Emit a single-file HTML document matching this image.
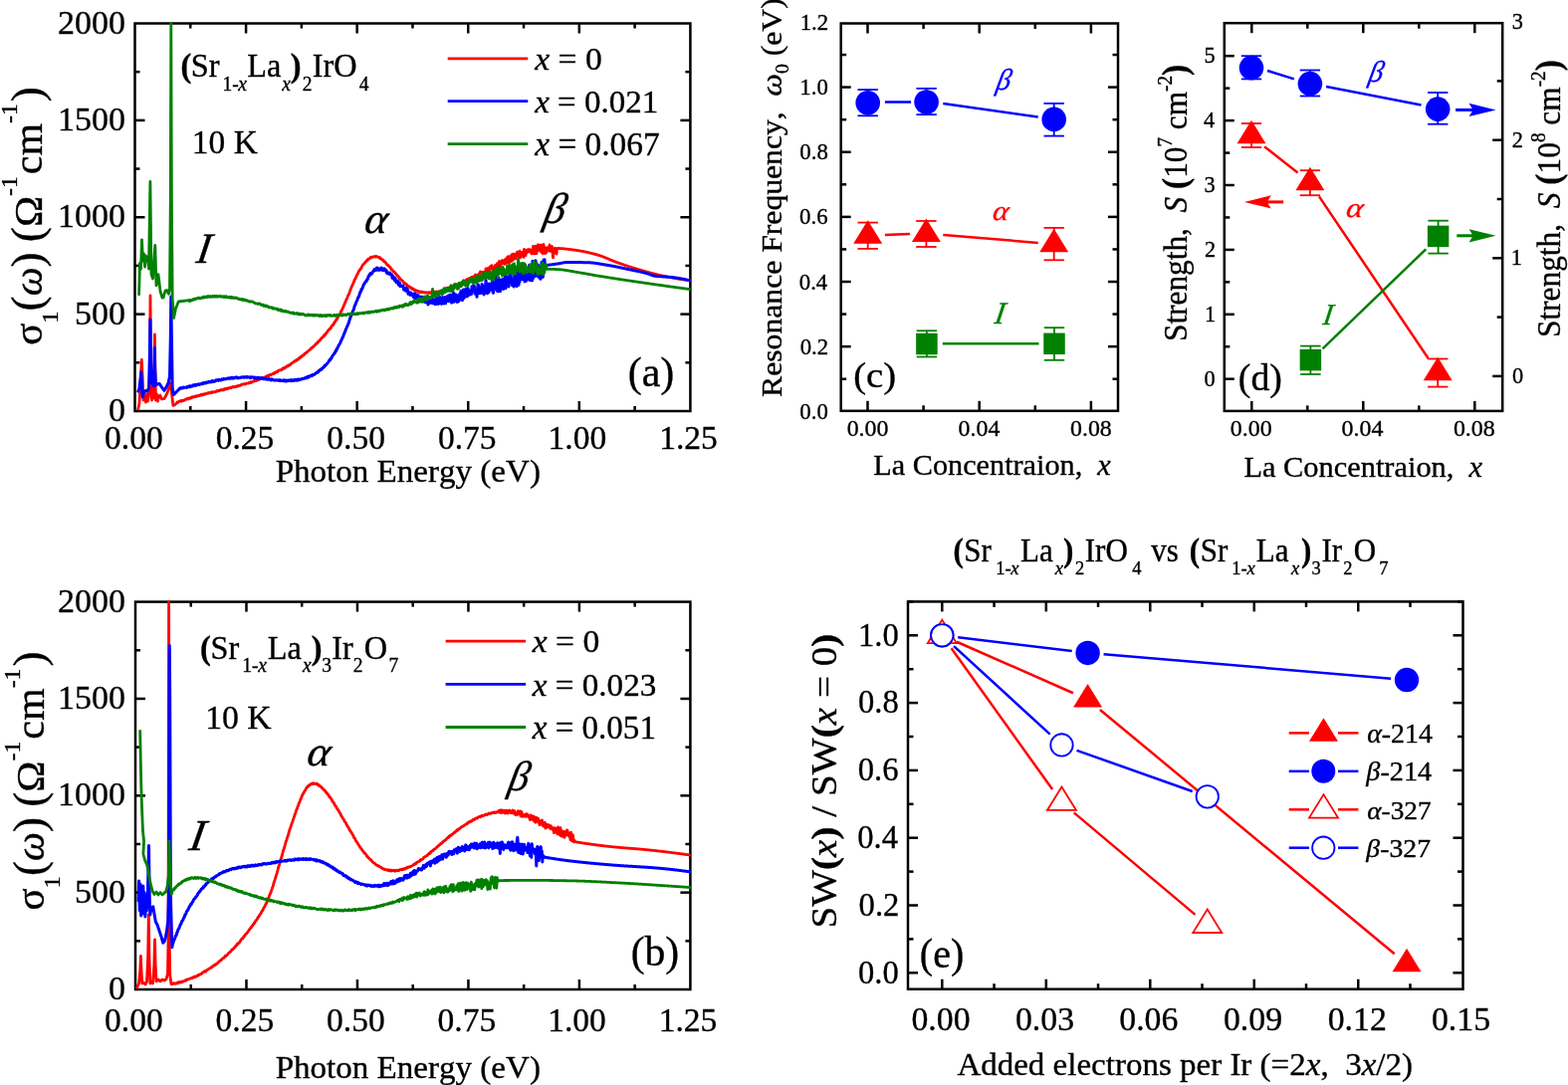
<!DOCTYPE html><html><head><meta charset="utf-8"><style>html,body{margin:0;padding:0;background:#fff;overflow:hidden;}svg{display:block;}</style></head><body><svg width="1575" height="1090" viewBox="0 0 1575 1090" font-family="'Liberation Serif', 'Times New Roman', serif" style="font-kerning:none">
<rect width="1575" height="1090" fill="#fff"/>
<rect x="135.5" y="23.5" width="557.90" height="389.50" fill="none" stroke="#000" stroke-width="2.5"/>
<line x1="191.29" y1="413.00" x2="191.29" y2="408.00" stroke="#000" stroke-width="2.5" stroke-linecap="butt"/>
<line x1="191.29" y1="23.50" x2="191.29" y2="28.50" stroke="#000" stroke-width="2.5" stroke-linecap="butt"/>
<line x1="247.08" y1="413.00" x2="247.08" y2="403.00" stroke="#000" stroke-width="2.5" stroke-linecap="butt"/>
<line x1="247.08" y1="23.50" x2="247.08" y2="33.50" stroke="#000" stroke-width="2.5" stroke-linecap="butt"/>
<line x1="302.87" y1="413.00" x2="302.87" y2="408.00" stroke="#000" stroke-width="2.5" stroke-linecap="butt"/>
<line x1="302.87" y1="23.50" x2="302.87" y2="28.50" stroke="#000" stroke-width="2.5" stroke-linecap="butt"/>
<line x1="358.66" y1="413.00" x2="358.66" y2="403.00" stroke="#000" stroke-width="2.5" stroke-linecap="butt"/>
<line x1="358.66" y1="23.50" x2="358.66" y2="33.50" stroke="#000" stroke-width="2.5" stroke-linecap="butt"/>
<line x1="414.45" y1="413.00" x2="414.45" y2="408.00" stroke="#000" stroke-width="2.5" stroke-linecap="butt"/>
<line x1="414.45" y1="23.50" x2="414.45" y2="28.50" stroke="#000" stroke-width="2.5" stroke-linecap="butt"/>
<line x1="470.24" y1="413.00" x2="470.24" y2="403.00" stroke="#000" stroke-width="2.5" stroke-linecap="butt"/>
<line x1="470.24" y1="23.50" x2="470.24" y2="33.50" stroke="#000" stroke-width="2.5" stroke-linecap="butt"/>
<line x1="526.03" y1="413.00" x2="526.03" y2="408.00" stroke="#000" stroke-width="2.5" stroke-linecap="butt"/>
<line x1="526.03" y1="23.50" x2="526.03" y2="28.50" stroke="#000" stroke-width="2.5" stroke-linecap="butt"/>
<line x1="581.82" y1="413.00" x2="581.82" y2="403.00" stroke="#000" stroke-width="2.5" stroke-linecap="butt"/>
<line x1="581.82" y1="23.50" x2="581.82" y2="33.50" stroke="#000" stroke-width="2.5" stroke-linecap="butt"/>
<line x1="637.61" y1="413.00" x2="637.61" y2="408.00" stroke="#000" stroke-width="2.5" stroke-linecap="butt"/>
<line x1="637.61" y1="23.50" x2="637.61" y2="28.50" stroke="#000" stroke-width="2.5" stroke-linecap="butt"/>
<line x1="135.50" y1="364.31" x2="140.50" y2="364.31" stroke="#000" stroke-width="2.5" stroke-linecap="butt"/>
<line x1="693.40" y1="364.31" x2="688.40" y2="364.31" stroke="#000" stroke-width="2.5" stroke-linecap="butt"/>
<line x1="135.50" y1="315.62" x2="145.50" y2="315.62" stroke="#000" stroke-width="2.5" stroke-linecap="butt"/>
<line x1="693.40" y1="315.62" x2="683.40" y2="315.62" stroke="#000" stroke-width="2.5" stroke-linecap="butt"/>
<line x1="135.50" y1="266.94" x2="140.50" y2="266.94" stroke="#000" stroke-width="2.5" stroke-linecap="butt"/>
<line x1="693.40" y1="266.94" x2="688.40" y2="266.94" stroke="#000" stroke-width="2.5" stroke-linecap="butt"/>
<line x1="135.50" y1="218.25" x2="145.50" y2="218.25" stroke="#000" stroke-width="2.5" stroke-linecap="butt"/>
<line x1="693.40" y1="218.25" x2="683.40" y2="218.25" stroke="#000" stroke-width="2.5" stroke-linecap="butt"/>
<line x1="135.50" y1="169.56" x2="140.50" y2="169.56" stroke="#000" stroke-width="2.5" stroke-linecap="butt"/>
<line x1="693.40" y1="169.56" x2="688.40" y2="169.56" stroke="#000" stroke-width="2.5" stroke-linecap="butt"/>
<line x1="135.50" y1="120.88" x2="145.50" y2="120.88" stroke="#000" stroke-width="2.5" stroke-linecap="butt"/>
<line x1="693.40" y1="120.88" x2="683.40" y2="120.88" stroke="#000" stroke-width="2.5" stroke-linecap="butt"/>
<line x1="135.50" y1="72.19" x2="140.50" y2="72.19" stroke="#000" stroke-width="2.5" stroke-linecap="butt"/>
<line x1="693.40" y1="72.19" x2="688.40" y2="72.19" stroke="#000" stroke-width="2.5" stroke-linecap="butt"/>
<text x="0" y="0" fill="#000" stroke="#000" stroke-width="0.35" transform="translate(105.124 451.120) scale(0.9897 1)" xml:space="preserve"><tspan font-size="33.863">0.00</tspan></text>
<text x="0" y="0" fill="#000" stroke="#000" stroke-width="0.35" transform="translate(216.720 451.120) scale(0.9897 1)" xml:space="preserve"><tspan font-size="33.863">0.25</tspan></text>
<text x="0" y="0" fill="#000" stroke="#000" stroke-width="0.35" transform="translate(328.284 451.120) scale(0.9897 1)" xml:space="preserve"><tspan font-size="33.863">0.50</tspan></text>
<text x="0" y="0" fill="#000" stroke="#000" stroke-width="0.35" transform="translate(439.880 451.120) scale(0.9897 1)" xml:space="preserve"><tspan font-size="33.863">0.75</tspan></text>
<text x="0" y="0" fill="#000" stroke="#000" stroke-width="0.35" transform="translate(550.609 451.120) scale(0.9897 1)" xml:space="preserve"><tspan font-size="33.863">1.00</tspan></text>
<text x="0" y="0" fill="#000" stroke="#000" stroke-width="0.35" transform="translate(662.205 451.021) scale(0.9897 1)" xml:space="preserve"><tspan font-size="33.863">1.25</tspan></text>
<text x="0" y="0" fill="#000" stroke="#000" stroke-width="0.35" transform="translate(58.106 33.664) scale(0.9888 1)" xml:space="preserve"><tspan font-size="34.380">2000</tspan></text>
<text x="0" y="0" fill="#000" stroke="#000" stroke-width="0.35" transform="translate(109.098 423.164) scale(0.9888 1)" xml:space="preserve"><tspan font-size="34.380">0</tspan></text>
<text x="0" y="0" fill="#000" stroke="#000" stroke-width="0.35" transform="translate(75.103 325.789) scale(0.9888 1)" xml:space="preserve"><tspan font-size="34.380">500</tspan></text>
<text x="0" y="0" fill="#000" stroke="#000" stroke-width="0.35" transform="translate(58.106 228.414) scale(0.9888 1)" xml:space="preserve"><tspan font-size="34.380">1000</tspan></text>
<text x="0" y="0" fill="#000" stroke="#000" stroke-width="0.35" transform="translate(58.106 131.039) scale(0.9888 1)" xml:space="preserve"><tspan font-size="34.380">1500</tspan></text>
<text x="0" y="0" fill="#000" stroke="#000" stroke-width="0.35" transform="translate(276.647 483.925) scale(1.0231 1)" xml:space="preserve"><tspan font-size="32.319">Photon Energy (eV)</tspan></text>
<text x="0" y="0" fill="#000" stroke="#000" stroke-width="0.35" transform="translate(41.600 346.761) rotate(-90) scale(1.0247 1)" xml:space="preserve"><tspan font-size="40.000">σ</tspan><tspan font-size="24.000" dy="16.300">1</tspan><tspan font-size="44.000" dy="-16.300">(</tspan><tspan font-size="40.000" font-style="italic">ω</tspan><tspan font-size="44.000">)</tspan><tspan font-size="40.000"> </tspan><tspan font-size="44.000">(</tspan><tspan font-size="41.000">Ω</tspan><tspan font-size="23.000" dy="-24.500">-1</tspan><tspan font-size="41.000" dy="24.500" dx="2.000">cm</tspan><tspan font-size="23.000" dy="-24.500">-1</tspan><tspan font-size="44.000" dy="24.500" dx="2.000">)</tspan></text>
<polyline points="138.80,411.00 140.00,405.00 141.00,385.00 142.30,361.50 143.20,380.00 144.00,402.00 145.50,398.00 146.50,404.00 147.50,396.00 148.50,403.00 149.50,397.00 150.40,380.00 151.00,297.00 151.70,380.00 152.50,402.00 153.50,396.00 154.50,400.00 155.00,375.00 155.40,336.00 155.90,375.00 156.50,402.00 157.50,396.00 158.50,403.00 159.50,398.00 160.80,397.00 162.50,401.00 165.00,400.50 167.00,397.00 169.00,392.00 170.50,388.00 171.50,384.70 172.50,395.00 173.90,407.40 176.00,406.50 178.00,404.00 178.50,404.42 179.00,403.94 179.50,403.53 180.00,403.11 180.50,403.26 181.00,403.11 181.50,402.57 182.00,402.39 182.50,403.17 183.00,402.65 183.50,402.06 184.00,402.09 184.50,402.46 185.00,402.21 185.50,401.99 186.00,401.38 186.50,401.31 187.00,401.33 187.50,400.56 188.00,400.89 188.50,400.45 189.00,400.90 189.50,399.93 190.00,400.39 190.50,400.42 191.00,399.63 191.50,400.15 192.00,399.97 192.50,398.97 193.00,399.51 193.50,398.66 194.00,399.01 194.50,398.80 195.00,398.42 195.50,398.40 196.00,398.74 196.50,398.11 197.00,397.80 197.50,398.21 198.00,397.82 198.50,398.04 199.00,397.34 199.50,397.29 200.00,397.63 200.50,397.20 201.00,397.07 201.50,396.67 202.00,396.31 202.50,397.10 203.00,396.12 203.50,396.75 204.00,396.14 204.50,396.60 205.00,395.92 205.50,396.33 206.00,395.82 206.50,395.38 207.00,395.76 207.50,395.56 208.00,395.45 208.50,395.10 209.00,394.74 209.50,395.03 210.00,394.38 210.50,394.84 211.00,394.66 211.50,394.28 212.00,394.58 212.50,393.86 213.00,393.93 213.50,394.22 214.00,393.68 214.50,393.89 215.00,393.67 215.50,393.88 216.00,393.81 216.50,393.43 217.00,393.39 217.50,392.62 218.00,393.06 218.50,393.08 219.00,392.51 219.50,392.54 220.00,392.35 220.50,392.71 221.00,391.95 221.50,391.92 222.00,391.40 222.50,391.70 223.00,391.79 223.50,391.98 224.00,391.85 224.50,391.13 225.00,391.67 225.50,390.75 226.00,391.27 226.50,390.48 227.00,390.61 227.50,390.16 228.00,390.82 228.50,390.67 229.00,389.86 229.50,390.13 230.00,389.74 230.50,389.85 231.00,389.79 231.50,389.22 232.00,389.85 232.50,389.14 233.00,389.19 233.50,388.67 234.00,388.49 234.50,388.56 235.00,388.58 235.50,389.04 236.00,388.87 236.50,388.34 237.00,388.18 237.50,388.26 238.00,388.33 238.50,387.67 239.00,388.00 239.50,387.47 240.00,387.53 240.50,387.54 241.00,387.17 241.50,387.23 242.00,387.10 242.50,386.27 243.00,386.16 243.50,386.13 244.00,386.06 244.50,385.91 245.00,385.61 245.50,385.64 246.00,385.88 246.50,386.02 247.00,385.34 247.50,385.21 248.00,385.11 248.50,385.22 249.00,385.18 249.50,385.18 250.00,384.47 250.50,384.64 251.00,384.12 251.50,384.45 252.00,383.70 252.50,384.18 253.00,383.66 253.50,383.72 254.00,383.37 254.50,382.98 255.00,383.00 255.50,382.39 256.00,382.21 256.50,382.53 257.00,382.31 257.50,382.49 258.00,381.51 258.50,381.87 259.00,381.63 259.50,381.56 260.00,381.51 260.50,381.12 261.00,380.98 261.50,380.73 262.00,380.66 262.50,380.11 263.00,380.23 263.50,380.16 264.00,379.48 264.50,380.09 265.00,379.65 265.50,379.66 266.00,378.80 266.50,378.75 267.00,378.37 267.50,377.95 268.00,377.71 268.50,377.73 269.00,378.14 269.50,377.23 270.00,377.54 270.50,376.89 271.00,376.48 271.50,376.39 272.00,376.66 272.50,376.26 273.00,376.08 273.50,375.75 274.00,375.35 274.50,375.33 275.00,375.53 275.50,374.57 276.00,374.87 276.50,374.14 277.00,373.84 277.50,373.73 278.00,373.25 278.50,373.85 279.00,373.02 279.50,372.58 280.00,372.15 280.50,371.95 281.00,371.84 281.50,371.78 282.00,371.70 282.50,371.81 283.00,371.45 283.50,370.53 284.00,370.63 284.50,370.66 285.00,369.56 285.50,370.03 286.00,369.29 286.50,369.38 287.00,368.64 287.50,368.65 288.00,368.23 288.50,367.53 289.00,367.89 289.50,367.64 290.00,367.00 290.50,366.59 291.00,366.84 291.50,365.96 292.00,366.14 292.50,365.36 293.00,364.99 293.50,364.66 294.00,364.03 294.50,363.91 295.00,363.53 295.50,363.03 296.00,363.17 296.50,362.72 297.00,361.96 297.50,361.74 298.00,362.15 298.50,361.01 299.00,360.89 299.50,361.11 300.00,359.91 300.50,359.84 301.00,359.86 301.50,358.70 302.00,358.38 302.50,358.86 303.00,358.23 303.50,357.42 304.00,357.25 304.50,356.63 305.00,356.87 305.50,356.53 306.00,355.25 306.50,355.30 307.00,354.55 307.50,354.35 308.00,354.28 308.50,353.83 309.00,352.88 309.50,352.60 310.00,352.26 310.50,351.79 311.00,351.65 311.50,351.31 312.00,350.41 312.50,350.07 313.00,349.25 313.50,349.09 314.00,349.21 314.50,348.31 315.00,347.90 315.50,347.48 316.00,346.96 316.50,346.72 317.00,345.70 317.50,345.27 318.00,345.35 318.50,344.47 319.00,344.44 319.50,343.12 320.00,343.26 320.50,342.44 321.00,341.93 321.50,341.82 322.00,340.55 322.50,340.41 323.00,339.62 323.50,339.18 324.00,339.12 324.50,338.16 325.00,338.01 325.50,336.69 326.00,337.12 326.50,336.52 327.00,335.69 327.50,334.64 328.00,334.53 328.50,333.49 329.00,333.09 329.50,332.17 330.00,331.61 330.50,331.09 331.00,330.50 331.50,330.54 332.00,329.32 332.50,329.26 333.00,327.79 333.50,327.18 334.00,326.51 334.50,326.69 335.00,325.88 335.50,324.37 336.00,324.56 336.50,323.11 337.00,322.39 337.50,321.94 338.00,320.77 338.50,320.73 339.00,319.30 339.50,318.67 340.00,317.81 340.50,316.64 341.00,316.19 341.50,315.53 342.00,314.19 342.50,312.72 343.00,312.45 343.50,311.31 344.00,310.10 344.50,309.21 345.00,307.74 345.50,306.67 346.00,305.76 346.50,304.16 347.00,303.50 347.50,301.91 348.00,300.77 348.50,300.20 349.00,298.66 349.50,297.09 350.00,296.30 350.50,295.36 351.00,294.03 351.50,292.69 352.00,291.00 352.50,290.03 353.00,288.83 353.50,287.14 354.00,286.57 354.50,285.24 355.00,284.10 355.50,283.20 356.00,281.44 356.50,280.49 357.00,280.20 357.50,278.47 358.00,277.40 358.50,276.21 359.00,275.47 359.50,274.76 360.00,273.31 360.50,272.64 361.00,271.72 361.50,270.75 362.00,270.55 362.50,269.91 363.00,269.07 363.50,267.84 364.00,266.73 364.50,266.30 365.00,265.79 365.50,264.99 366.00,264.71 366.50,264.12 367.00,263.70 367.50,262.72 368.00,261.97 368.50,262.15 369.00,261.66 369.50,260.46 370.00,260.14 370.50,260.21 371.00,260.02 371.50,259.83 372.00,258.60 372.50,258.50 373.00,258.50 373.50,258.42 374.00,258.47 374.50,258.10 375.00,257.94 375.50,257.57 376.00,257.92 376.50,257.83 377.00,258.19 377.50,257.47 378.00,257.47 378.50,257.79 379.00,257.88 379.50,258.17 380.00,258.07 380.50,258.83 381.00,259.19 381.50,258.65 382.00,259.86 382.50,259.37 383.00,259.93 383.50,260.49 384.00,260.82 384.50,261.03 385.00,261.98 385.50,262.54 386.00,262.39 386.50,262.81 387.00,263.66 387.50,263.79 388.00,265.09 388.50,265.52 389.00,266.04 389.50,266.15 390.00,267.06 390.50,267.21 391.00,267.82 391.50,268.01 392.00,268.50 392.50,269.68 393.00,269.76 393.50,271.08 394.00,271.25 394.50,271.82 395.00,272.70 395.50,272.66 396.00,272.94 396.50,273.70 397.00,274.50 397.50,274.75 398.00,275.44 398.50,276.44 399.00,276.63 399.50,277.15 400.00,277.58 400.50,278.42 401.00,279.42 401.50,279.12 402.00,280.32 402.50,280.77 403.00,281.11 403.50,281.56 404.00,282.04 404.50,282.11 405.00,283.07 405.50,283.97 406.00,284.18 406.50,284.37 407.00,284.80 407.50,285.67 408.00,285.24 408.50,285.86 409.00,287.03 409.50,287.12 410.00,287.69 410.50,287.77 411.00,287.64 411.50,288.49 412.00,288.92 412.50,288.71 413.00,289.42 413.50,290.18 414.00,289.59 414.50,289.85 415.00,290.17 415.50,291.01 416.00,291.46 416.50,290.95 417.00,291.86 417.50,291.45 418.00,291.96 418.50,292.38 419.00,291.91 419.50,292.44 420.00,292.98 420.50,292.62 421.00,293.20 421.50,292.99 422.00,293.60 422.50,293.17 423.00,293.69 423.50,293.04 424.00,293.39 424.50,293.27 425.00,293.60 425.50,293.66 426.00,293.55 426.50,293.78 427.00,294.08 427.50,294.01 428.00,293.70 428.50,294.18 429.00,294.19 429.50,293.91 430.00,293.95 430.50,293.66 431.00,294.31 431.50,293.81 432.00,293.73 432.50,294.33 433.00,293.68 433.50,293.53 434.00,293.68 434.50,293.76 435.00,293.81 435.50,293.54 436.00,293.77 436.50,293.04 437.00,293.88 437.50,293.34 438.00,293.25 438.50,293.17 439.00,292.92 439.50,293.37 440.00,292.92 440.50,292.87 441.00,292.77 441.50,292.67 442.00,292.56 442.50,292.45 443.00,292.34 443.50,292.22 444.00,292.10 444.50,291.98 445.00,291.97 445.50,291.32 446.00,293.09 446.50,291.99 447.00,291.88 447.50,289.74 448.00,289.44 448.50,291.93 449.00,289.24 449.50,291.72 450.00,290.83 450.50,289.18 451.00,290.96 451.50,288.55 452.00,288.48 452.50,289.87 453.00,289.10 453.50,289.04 454.00,290.74 454.50,290.29 455.00,287.96 455.50,286.84 456.00,289.51 456.50,286.40 457.00,288.94 457.50,285.77 458.00,288.66 458.50,285.90 459.00,288.43 459.50,285.96 460.00,286.32 460.50,287.95 461.00,286.86 461.50,284.81 462.00,287.83 462.50,286.70 463.00,286.92 463.50,284.68 464.00,283.59 464.50,283.85 465.00,285.88 465.50,285.69 466.00,284.98 466.50,285.41 467.00,283.39 467.50,281.68 468.00,285.27 468.50,284.91 469.00,280.59 469.50,283.79 470.00,284.20 470.50,280.30 471.00,279.68 471.50,280.26 472.00,280.86 472.50,281.23 473.00,278.98 473.50,278.38 474.00,278.40 474.50,280.04 475.00,280.59 475.50,278.03 476.00,281.00 476.50,280.35 477.00,277.02 477.50,276.00 478.00,280.34 478.50,278.72 479.00,279.04 479.50,278.89 480.00,276.09 480.50,278.56 481.00,276.71 481.50,274.61 482.00,274.45 482.50,272.84 483.00,273.84 483.50,273.68 484.00,273.65 484.50,275.48 485.00,273.35 485.50,275.13 486.00,276.05 486.50,274.06 487.00,273.31 487.50,275.28 488.00,270.00 488.50,275.02 489.00,273.65 489.50,274.11 490.00,270.10 490.50,269.09 491.00,273.17 491.50,268.88 492.00,269.25 492.50,267.81 493.00,269.99 493.50,269.37 494.00,266.65 494.50,270.09 495.00,271.85 495.50,268.04 496.00,269.58 496.50,270.50 497.00,268.89 497.50,266.31 498.00,269.37 498.50,267.86 499.00,269.83 499.50,264.56 500.00,268.30 500.50,267.73 501.00,264.28 501.50,262.43 502.00,267.17 502.50,268.19 503.00,263.90 503.50,265.63 504.00,262.35 504.50,261.57 505.00,263.15 505.50,263.83 506.00,264.57 506.50,265.32 507.00,260.97 507.50,264.99 508.00,264.83 508.50,259.80 509.00,263.47 509.50,258.33 510.00,263.79 510.50,257.65 511.00,260.97 511.50,263.82 512.00,261.73 512.50,259.41 513.00,256.91 513.50,262.52 514.00,255.87 514.50,261.78 515.00,261.27 515.50,255.21 516.00,260.20 516.50,257.80 517.00,255.08 517.50,256.42 518.00,259.85 518.50,257.18 519.00,256.37 519.50,253.04 520.00,253.45 520.50,257.12 521.00,257.78 521.50,258.64 522.00,252.17 522.50,257.28 523.00,258.45 523.50,256.37 524.00,253.62 524.50,256.18 525.00,255.86 525.50,252.82 526.00,258.37 526.50,250.50 527.00,253.12 527.50,252.23 528.00,256.63 528.50,251.55 529.00,251.15 529.50,253.81 530.00,253.25 530.50,250.67 531.00,252.75 531.50,250.90 532.00,250.56 532.50,253.07 533.00,253.30 533.50,251.27 534.00,254.94 534.50,253.16 535.00,254.64 535.50,247.48 536.00,250.56 536.50,254.96 537.00,252.42 537.50,254.74 538.00,247.20 538.50,247.59 539.00,254.63 539.50,249.11 540.00,251.83 540.50,245.93 541.00,246.44 541.50,249.59 542.00,246.05 542.50,251.71 543.00,252.71 543.50,246.04 544.00,248.63 544.50,253.63 545.00,254.53 545.50,248.89 546.00,245.36 546.50,250.64 547.00,253.63 547.50,254.59 548.00,248.83 548.50,254.09 549.00,251.78 549.50,250.56 550.00,248.75 550.50,250.53 551.00,251.85 551.50,248.79 552.00,245.90 552.50,252.37 553.00,252.07 553.50,248.24 554.00,252.35 554.50,247.52 555.00,252.32 555.50,258.93 556.00,253.08 556.50,254.07 557.00,252.25 557.50,249.06 558.00,250.34 558.50,250.36 559.00,255.10 559.50,249.75 560.00,249.81 560.50,249.43 561.00,249.46 561.50,249.49 562.00,249.52 562.50,249.56 563.00,249.60 563.50,249.64 564.00,249.68 564.50,249.72 565.00,249.76 565.50,249.81 566.00,249.85 566.50,249.90 567.00,249.95 567.50,250.00 568.00,250.05 568.50,250.10 569.00,250.16 569.50,250.21 570.00,250.27 570.50,250.33 571.00,250.39 571.50,250.45 572.00,250.51 572.50,250.57 573.00,250.63 573.50,250.70 574.00,250.76 574.50,250.83 575.00,250.90 575.50,250.96 576.00,251.03 576.50,251.10 577.00,251.17 577.50,251.24 578.00,251.31 578.50,251.38 579.00,251.45 579.50,251.53 580.00,251.60 580.50,251.67 581.00,251.75 581.50,251.83 582.00,251.91 582.50,251.99 583.00,252.08 583.50,252.16 584.00,252.25 584.50,252.34 585.00,252.44 585.50,252.53 586.00,252.63 586.50,252.73 587.00,252.83 587.50,252.93 588.00,253.03 588.50,253.14 589.00,253.25 589.50,253.36 590.00,253.47 590.50,253.58 591.00,253.69 591.50,253.81 592.00,253.93 592.50,254.05 593.00,254.17 593.50,254.29 594.00,254.41 594.50,254.54 595.00,254.66 595.50,254.79 596.00,254.92 596.50,255.05 597.00,255.18 597.50,255.32 598.00,255.45 598.50,255.59 599.00,255.72 599.50,255.86 600.00,256.00 600.50,256.14 601.00,256.29 601.50,256.45 602.00,256.61 602.50,256.77 603.00,256.94 603.50,257.11 604.00,257.29 604.50,257.47 605.00,257.66 605.50,257.85 606.00,258.04 606.50,258.23 607.00,258.43 607.50,258.63 608.00,258.83 608.50,259.04 609.00,259.25 609.50,259.45 610.00,259.66 610.50,259.87 611.00,260.08 611.50,260.29 612.00,260.50 612.50,260.71 613.00,260.93 613.50,261.14 614.00,261.34 614.50,261.55 615.00,261.76 615.50,261.97 616.00,262.17 616.50,262.37 617.00,262.57 617.50,262.77 618.00,262.96 618.50,263.15 619.00,263.34 619.50,263.52 620.00,263.70 620.50,263.88 621.00,264.05 621.50,264.23 622.00,264.41 622.50,264.58 623.00,264.76 623.50,264.93 624.00,265.10 624.50,265.28 625.00,265.45 625.50,265.62 626.00,265.79 626.50,265.96 627.00,266.13 627.50,266.30 628.00,266.47 628.50,266.64 629.00,266.81 629.50,266.97 630.00,267.14 630.50,267.30 631.00,267.47 631.50,267.63 632.00,267.80 632.50,267.96 633.00,268.12 633.50,268.28 634.00,268.44 634.50,268.60 635.00,268.76 635.50,268.92 636.00,269.07 636.50,269.23 637.00,269.38 637.50,269.54 638.00,269.69 638.50,269.85 639.00,270.00 639.50,270.15 640.00,270.30 640.50,270.45 641.00,270.60 641.50,270.75 642.00,270.90 642.50,271.04 643.00,271.19 643.50,271.34 644.00,271.48 644.50,271.63 645.00,271.77 645.50,271.92 646.00,272.06 646.50,272.21 647.00,272.35 647.50,272.49 648.00,272.63 648.50,272.77 649.00,272.91 649.50,273.05 650.00,273.19 650.50,273.33 651.00,273.47 651.50,273.60 652.00,273.74 652.50,273.87 653.00,274.01 653.50,274.14 654.00,274.27 654.50,274.40 655.00,274.54 655.50,274.67 656.00,274.80 656.50,274.92 657.00,275.05 657.50,275.18 658.00,275.30 658.50,275.43 659.00,275.55 659.50,275.68 660.00,275.80 660.50,275.92 661.00,276.04 661.50,276.16 662.00,276.28 662.50,276.40 663.00,276.52 663.50,276.63 664.00,276.75 664.50,276.86 665.00,276.97 665.50,277.08 666.00,277.19 666.50,277.29 667.00,277.40 667.50,277.50 668.00,277.60 668.50,277.70 669.00,277.80 669.50,277.89 670.00,277.99 670.50,278.09 671.00,278.19 671.50,278.28 672.00,278.38 672.50,278.47 673.00,278.57 673.50,278.66 674.00,278.76 674.50,278.85 675.00,278.94 675.50,279.04 676.00,279.13 676.50,279.22 677.00,279.31 677.50,279.40 678.00,279.49 678.50,279.58 679.00,279.67 679.50,279.75 680.00,279.84 680.50,279.93 681.00,280.01 681.50,280.10 682.00,280.18 682.50,280.26 683.00,280.35 683.50,280.43 684.00,280.51 684.50,280.59 685.00,280.67 685.50,280.74 686.00,280.82 686.50,280.90 687.00,280.97 687.50,281.05 688.00,281.12 688.50,281.19 689.00,281.27 689.50,281.34 690.00,281.41 690.50,281.47 691.00,281.54 691.50,281.61 692.00,281.67 692.50,281.74 693.00,281.80" fill="none" stroke="#ff0000" stroke-width="2.8" stroke-linejoin="round" stroke-linecap="round"/>
<polyline points="138.80,393.00 140.00,390.00 141.20,380.00 141.90,373.70 142.60,388.00 143.20,399.00 144.50,395.00 146.40,392.30 148.00,393.00 149.50,390.00 150.30,360.00 150.90,321.00 151.50,360.00 152.30,385.00 153.30,384.70 154.50,388.00 155.00,370.00 155.30,349.00 155.70,370.00 156.50,387.00 158.00,386.00 160.10,385.40 162.50,389.00 165.00,392.30 167.00,389.00 169.10,384.70 170.50,378.00 171.30,340.00 171.80,298.00 172.40,340.00 173.20,390.00 174.60,396.40 177.00,394.00 180.00,390.90 180.50,390.07 181.00,390.65 181.50,390.28 182.00,389.59 182.50,389.89 183.00,389.85 183.50,389.36 184.00,389.94 184.50,389.09 185.00,389.32 185.50,389.36 186.00,389.15 186.50,389.22 187.00,389.30 187.50,389.45 188.00,388.53 188.50,388.86 189.00,388.80 189.50,388.21 190.00,387.74 190.50,388.80 191.00,387.87 191.50,387.78 192.00,388.36 192.50,387.88 193.00,387.63 193.50,387.87 194.00,386.87 194.50,387.56 195.00,387.05 195.50,386.59 196.00,387.16 196.50,387.37 197.00,386.39 197.50,386.78 198.00,386.26 198.50,386.68 199.00,386.54 199.50,385.82 200.00,386.44 200.50,386.12 201.00,386.03 201.50,386.08 202.00,385.50 202.50,385.78 203.00,385.81 203.50,384.76 204.00,385.54 204.50,384.88 205.00,384.87 205.50,384.36 206.00,384.91 206.50,384.31 207.00,384.89 207.50,384.07 208.00,384.30 208.50,383.99 209.00,384.14 209.50,383.53 210.00,383.40 210.50,383.97 211.00,383.87 211.50,383.54 212.00,383.86 212.50,382.90 213.00,383.57 213.50,382.65 214.00,383.50 214.50,382.98 215.00,382.86 215.50,383.20 216.00,382.88 216.50,382.78 217.00,381.80 217.50,382.08 218.00,381.64 218.50,381.68 219.00,381.61 219.50,382.29 220.00,381.32 220.50,381.43 221.00,381.58 221.50,381.91 222.00,381.97 222.50,381.57 223.00,380.89 223.50,381.21 224.00,381.32 224.50,380.45 225.00,381.12 225.50,380.67 226.00,380.86 226.50,380.88 227.00,380.80 227.50,380.55 228.00,380.52 228.50,380.02 229.00,380.31 229.50,379.79 230.00,380.15 230.50,380.16 231.00,380.38 231.50,379.86 232.00,379.35 232.50,379.90 233.00,379.46 233.50,380.05 234.00,379.57 234.50,379.51 235.00,380.10 235.50,379.43 236.00,379.33 236.50,379.29 237.00,379.41 237.50,378.90 238.00,379.41 238.50,379.82 239.00,379.36 239.50,379.54 240.00,379.75 240.50,379.60 241.00,379.46 241.50,379.52 242.00,379.50 242.50,378.80 243.00,379.06 243.50,378.88 244.00,378.77 244.50,379.13 245.00,378.82 245.50,379.17 246.00,379.12 246.50,378.55 247.00,378.96 247.50,378.90 248.00,379.28 248.50,378.55 249.00,378.66 249.50,379.08 250.00,378.97 250.50,379.30 251.00,378.92 251.50,378.78 252.00,379.69 252.50,378.89 253.00,378.80 253.50,379.00 254.00,379.10 254.50,379.00 255.00,379.41 255.50,379.93 256.00,379.00 256.50,379.39 257.00,379.74 257.50,380.04 258.00,380.23 258.50,379.25 259.00,379.77 259.50,380.24 260.00,379.29 260.50,379.99 261.00,379.55 261.50,380.31 262.00,380.57 262.50,380.15 263.00,379.57 263.50,379.70 264.00,380.18 264.50,380.76 265.00,380.08 265.50,380.66 266.00,380.41 266.50,380.30 267.00,380.89 267.50,380.47 268.00,380.61 268.50,381.14 269.00,380.88 269.50,381.29 270.00,381.03 270.50,380.66 271.00,381.06 271.50,381.63 272.00,381.32 272.50,381.86 273.00,380.76 273.50,381.22 274.00,381.79 274.50,381.75 275.00,381.65 275.50,381.83 276.00,382.13 276.50,381.95 277.00,381.84 277.50,381.90 278.00,382.07 278.50,381.71 279.00,382.16 279.50,382.14 280.00,382.38 280.50,382.05 281.00,381.55 281.50,382.19 282.00,382.61 282.50,382.38 283.00,382.41 283.50,382.13 284.00,382.11 284.50,382.57 285.00,381.82 285.50,382.78 286.00,382.80 286.50,382.92 287.00,381.93 287.50,381.91 288.00,382.85 288.50,382.26 289.00,382.09 289.50,382.22 290.00,382.54 290.50,381.93 291.00,382.31 291.50,382.49 292.00,382.54 292.50,381.67 293.00,382.59 293.50,382.11 294.00,382.07 294.50,382.18 295.00,381.80 295.50,382.47 296.00,381.61 296.50,381.95 297.00,381.44 297.50,381.91 298.00,382.18 298.50,382.08 299.00,381.11 299.50,381.61 300.00,381.84 300.50,380.92 301.00,381.08 301.50,381.33 302.00,381.25 302.50,380.80 303.00,380.91 303.50,380.82 304.00,380.31 304.50,380.54 305.00,380.31 305.50,380.31 306.00,379.94 306.50,379.57 307.00,379.53 307.50,379.95 308.00,378.89 308.50,378.67 309.00,378.32 309.50,379.14 310.00,379.11 310.50,378.00 311.00,377.83 311.50,377.53 312.00,377.80 312.50,377.43 313.00,377.60 313.50,376.62 314.00,377.17 314.50,376.42 315.00,376.56 315.50,376.28 316.00,376.13 316.50,375.34 317.00,375.17 317.50,374.80 318.00,374.04 318.50,374.08 319.00,374.25 319.50,373.88 320.00,372.46 320.50,372.86 321.00,372.07 321.50,371.45 322.00,371.05 322.50,371.43 323.00,371.20 323.50,370.23 324.00,369.62 324.50,369.31 325.00,369.22 325.50,368.63 326.00,367.31 326.50,366.98 327.00,367.24 327.50,366.25 328.00,365.89 328.50,365.47 329.00,364.72 329.50,364.24 330.00,363.40 330.50,362.40 331.00,361.71 331.50,362.02 332.00,360.17 332.50,360.30 333.00,359.82 333.50,358.32 334.00,357.37 334.50,357.03 335.00,356.18 335.50,355.55 336.00,354.71 336.50,354.50 337.00,352.68 337.50,352.81 338.00,350.86 338.50,351.04 339.00,349.40 339.50,348.94 340.00,347.12 340.50,346.68 341.00,345.97 341.50,344.91 342.00,344.09 342.50,342.26 343.00,341.49 343.50,340.65 344.00,338.84 344.50,338.68 345.00,337.02 345.50,335.65 346.00,334.42 346.50,333.72 347.00,331.76 347.50,330.75 348.00,329.55 348.50,328.22 349.00,327.49 349.50,326.01 350.00,325.07 350.50,323.50 351.00,321.68 351.50,320.38 352.00,318.79 352.50,317.59 353.00,316.67 353.50,315.48 354.00,313.60 354.50,312.32 355.00,311.53 355.50,310.38 356.00,308.00 356.50,306.66 357.00,306.17 357.50,304.56 358.00,303.18 358.50,302.16 359.00,301.05 359.50,298.98 360.00,299.03 360.50,297.72 361.00,296.34 361.50,294.25 362.00,293.23 362.50,293.10 363.00,290.46 363.50,290.85 364.00,289.75 364.50,288.11 365.00,286.78 365.50,285.74 366.00,284.72 366.50,284.15 367.00,283.36 367.50,282.57 368.00,282.64 368.50,281.39 369.00,280.23 369.50,280.26 370.00,277.80 370.50,276.94 371.00,277.28 371.50,275.30 372.00,274.64 372.50,275.17 373.00,274.48 373.50,275.05 374.00,273.84 374.50,273.09 375.00,272.61 375.50,271.57 376.00,270.58 376.50,270.70 377.00,271.73 377.50,270.15 378.00,270.38 378.50,269.17 379.00,271.31 379.50,269.28 380.00,269.50 380.50,271.20 381.00,270.10 381.50,271.09 382.00,270.51 382.50,270.88 383.00,268.99 383.50,270.47 384.00,270.51 384.50,271.81 385.00,270.39 385.50,271.36 386.00,269.85 386.50,271.17 387.00,271.23 387.50,270.95 388.00,273.50 388.50,272.37 389.00,274.77 389.50,273.82 390.00,274.27 390.50,274.80 391.00,275.37 391.50,273.93 392.00,275.42 392.50,275.16 393.00,276.23 393.50,275.59 394.00,279.34 394.50,277.03 395.00,279.28 395.50,278.39 396.00,281.13 396.50,280.86 397.00,279.32 397.50,282.67 398.00,283.62 398.50,284.01 399.00,283.21 399.50,282.01 400.00,282.73 400.50,286.29 401.00,285.25 401.50,284.20 402.00,287.67 402.50,287.14 403.00,287.33 403.50,286.97 404.00,287.60 404.50,287.31 405.00,286.87 405.50,291.04 406.00,289.67 406.50,290.46 407.00,289.87 407.50,292.25 408.00,289.32 408.50,291.32 409.00,290.11 409.50,290.92 410.00,295.29 410.50,294.20 411.00,293.46 411.50,294.27 412.00,296.31 412.50,294.06 413.00,295.59 413.50,296.38 414.00,295.05 414.50,296.16 415.00,297.69 415.50,298.71 416.00,295.12 416.50,299.40 417.00,294.85 417.50,298.98 418.00,299.53 418.50,296.21 419.00,297.92 419.50,300.25 420.00,296.16 420.50,299.66 421.00,300.75 421.50,299.41 422.00,300.75 422.50,298.17 423.00,298.16 423.50,299.23 424.00,298.33 424.50,299.41 425.00,302.96 425.50,300.95 426.00,299.73 426.50,299.44 427.00,303.49 427.50,300.64 428.00,303.88 428.50,301.23 429.00,301.35 429.50,303.66 430.00,305.92 430.50,301.50 431.00,304.89 431.50,298.50 432.00,302.36 432.50,300.70 433.00,303.90 433.50,299.22 434.00,304.52 434.50,302.05 435.00,304.84 435.50,301.55 436.00,301.18 436.50,304.04 437.00,305.63 437.50,300.64 438.00,305.55 438.50,305.23 439.00,298.94 439.50,302.53 440.00,303.32 440.50,305.35 441.00,302.93 441.50,298.23 442.00,301.38 442.50,301.28 443.00,301.28 443.50,305.38 444.00,299.78 444.50,298.54 445.00,301.22 445.50,302.26 446.00,305.01 446.50,301.56 447.00,298.46 447.50,304.76 448.00,300.43 448.50,302.15 449.00,300.09 449.50,297.40 450.00,302.06 450.50,302.77 451.00,296.76 451.50,299.40 452.00,298.27 452.50,296.15 453.00,296.54 453.50,304.26 454.00,303.34 454.50,297.86 455.00,301.60 455.50,293.88 456.00,303.32 456.50,299.04 457.00,302.07 457.50,295.87 458.00,296.85 458.50,296.40 459.00,303.40 459.50,297.05 460.00,297.73 460.50,302.92 461.00,302.20 461.50,296.09 462.00,294.90 462.50,300.73 463.00,292.19 463.50,295.47 464.00,301.23 464.50,301.63 465.00,293.06 465.50,290.97 466.00,299.67 466.50,297.46 467.00,292.45 467.50,295.71 468.00,289.99 468.50,297.92 469.00,295.53 469.50,297.71 470.00,289.48 470.50,296.65 471.00,292.86 471.50,294.42 472.00,292.07 472.50,295.93 473.00,294.89 473.50,295.41 474.00,287.65 474.50,289.70 475.00,287.39 475.50,291.54 476.00,292.75 476.50,287.38 477.00,295.07 477.50,292.35 478.00,292.37 478.50,293.61 479.00,298.34 479.50,293.17 480.00,285.75 480.50,286.33 481.00,294.24 481.50,288.56 482.00,294.85 482.50,291.02 483.00,288.88 483.50,294.16 484.00,285.51 484.50,286.88 485.00,286.80 485.50,288.52 486.00,296.00 486.50,294.38 487.00,294.37 487.50,291.21 488.00,281.15 488.50,285.37 489.00,288.64 489.50,294.85 490.00,286.05 490.50,288.90 491.00,293.59 491.50,285.11 492.00,291.63 492.50,288.93 493.00,287.60 493.50,289.17 494.00,286.56 494.50,280.10 495.00,293.18 495.50,294.27 496.00,291.78 496.50,283.39 497.00,288.03 497.50,290.23 498.00,277.72 498.50,290.23 499.00,277.68 499.50,292.55 500.00,280.02 500.50,292.66 501.00,279.44 501.50,284.68 502.00,289.83 502.50,292.50 503.00,287.22 503.50,289.41 504.00,281.12 504.50,287.53 505.00,280.60 505.50,290.52 506.00,287.45 506.50,279.90 507.00,287.31 507.50,273.60 508.00,289.65 508.50,285.08 509.00,277.91 509.50,283.84 510.00,286.30 510.50,283.12 511.00,287.95 511.50,278.61 512.00,276.54 512.50,277.34 513.00,275.38 513.50,279.08 514.00,284.41 514.50,286.58 515.00,281.57 515.50,284.47 516.00,288.02 516.50,281.58 517.00,269.71 517.50,280.52 518.00,267.93 518.50,281.23 519.00,287.67 519.50,276.95 520.00,286.00 520.50,266.78 521.00,286.36 521.50,269.45 522.00,283.39 522.50,271.77 523.00,273.58 523.50,267.82 524.00,265.57 524.50,280.69 525.00,280.39 525.50,266.75 526.00,277.36 526.50,269.23 527.00,282.99 527.50,266.11 528.00,275.87 528.50,282.36 529.00,274.41 529.50,277.17 530.00,280.11 530.50,277.63 531.00,280.11 531.50,266.39 532.00,281.71 532.50,272.33 533.00,281.52 533.50,276.41 534.00,277.05 534.50,281.87 535.00,262.20 535.50,279.70 536.00,266.11 536.50,278.24 537.00,264.10 537.50,269.64 538.00,261.70 538.50,277.22 539.00,264.91 539.50,269.00 540.00,276.50 540.50,266.19 541.00,278.34 541.50,269.16 542.00,279.43 542.50,275.12 543.00,280.36 543.50,273.37 544.00,263.42 544.50,268.56 545.00,278.49 545.50,277.95 546.00,261.11 546.50,261.05 547.00,260.77 547.50,269.90 548.00,266.58 548.50,266.41 549.10,266.44 549.60,266.38 550.10,266.32 550.60,266.25 551.10,266.19 551.60,266.13 552.10,266.06 552.60,266.00 553.10,265.93 553.60,265.87 554.10,265.80 554.60,265.74 555.10,265.67 555.60,265.60 556.10,265.54 556.60,265.47 557.10,265.40 557.60,265.33 558.10,265.26 558.60,265.20 559.10,265.13 559.60,265.06 560.10,264.99 560.60,264.91 561.10,264.83 561.60,264.74 562.10,264.65 562.60,264.55 563.10,264.45 563.60,264.35 564.10,264.25 564.60,264.15 565.10,264.06 565.60,263.96 566.10,263.88 566.60,263.80 567.10,263.72 567.60,263.66 568.10,263.60 568.60,263.56 569.10,263.52 569.60,263.50 570.10,263.50 570.60,263.50 571.10,263.50 571.60,263.50 572.10,263.50 572.60,263.50 573.10,263.51 573.60,263.51 574.10,263.51 574.60,263.51 575.10,263.51 575.60,263.52 576.10,263.52 576.60,263.52 577.10,263.53 577.60,263.53 578.10,263.54 578.60,263.54 579.10,263.54 579.60,263.55 580.10,263.55 580.60,263.56 581.10,263.57 581.60,263.57 582.10,263.58 582.60,263.58 583.10,263.59 583.60,263.60 584.10,263.60 584.60,263.61 585.10,263.62 585.60,263.63 586.10,263.63 586.60,263.64 587.10,263.65 587.60,263.66 588.10,263.67 588.60,263.67 589.10,263.68 589.60,263.69 590.10,263.70 590.60,263.71 591.10,263.73 591.60,263.75 592.10,263.78 592.60,263.81 593.10,263.85 593.60,263.88 594.10,263.93 594.60,263.97 595.10,264.02 595.60,264.07 596.10,264.13 596.60,264.19 597.10,264.25 597.60,264.31 598.10,264.38 598.60,264.45 599.10,264.52 599.60,264.59 600.10,264.67 600.60,264.74 601.10,264.82 601.60,264.90 602.10,264.98 602.60,265.06 603.10,265.15 603.60,265.23 604.10,265.32 604.60,265.40 605.10,265.48 605.60,265.57 606.10,265.66 606.60,265.74 607.10,265.82 607.60,265.91 608.10,265.99 608.60,266.07 609.10,266.16 609.60,266.24 610.10,266.32 610.60,266.40 611.10,266.48 611.60,266.56 612.10,266.65 612.60,266.73 613.10,266.82 613.60,266.91 614.10,267.00 614.60,267.10 615.10,267.19 615.60,267.29 616.10,267.38 616.60,267.48 617.10,267.58 617.60,267.68 618.10,267.78 618.60,267.88 619.10,267.98 619.60,268.09 620.10,268.19 620.60,268.30 621.10,268.40 621.60,268.51 622.10,268.61 622.60,268.72 623.10,268.83 623.60,268.93 624.10,269.04 624.60,269.15 625.10,269.25 625.60,269.36 626.10,269.47 626.60,269.58 627.10,269.68 627.60,269.79 628.10,269.90 628.60,270.00 629.10,270.11 629.60,270.22 630.10,270.32 630.60,270.43 631.10,270.53 631.60,270.63 632.10,270.73 632.60,270.84 633.10,270.94 633.60,271.04 634.10,271.14 634.60,271.24 635.10,271.34 635.60,271.45 636.10,271.55 636.60,271.65 637.10,271.75 637.60,271.85 638.10,271.95 638.60,272.06 639.10,272.16 639.60,272.27 640.10,272.37 640.60,272.48 641.10,272.58 641.60,272.69 642.10,272.80 642.60,272.91 643.10,273.02 643.60,273.13 644.10,273.24 644.60,273.36 645.10,273.47 645.60,273.59 646.10,273.71 646.60,273.83 647.10,273.95 647.60,274.08 648.10,274.20 648.60,274.33 649.10,274.46 649.60,274.59 650.10,274.73 650.60,274.87 651.10,275.04 651.60,275.21 652.10,275.40 652.60,275.59 653.10,275.79 653.60,275.98 654.10,276.18 654.60,276.37 655.10,276.55 655.60,276.72 656.10,276.88 656.60,277.02 657.10,277.14 657.60,277.24 658.10,277.31 658.60,277.37 659.10,277.43 659.60,277.48 660.10,277.52 660.60,277.56 661.10,277.60 661.60,277.64 662.10,277.67 662.60,277.70 663.10,277.74 663.60,277.77 664.10,277.81 664.60,277.84 665.10,277.87 665.60,277.90 666.10,277.93 666.60,277.96 667.10,277.99 667.60,278.02 668.10,278.04 668.60,278.07 669.10,278.10 669.60,278.13 670.10,278.16 670.60,278.19 671.10,278.23 671.60,278.27 672.10,278.31 672.60,278.35 673.10,278.40 673.60,278.45 674.10,278.50 674.60,278.55 675.10,278.60 675.60,278.66 676.10,278.72 676.60,278.78 677.10,278.84 677.60,278.91 678.10,278.97 678.60,279.04 679.10,279.11 679.60,279.18 680.10,279.26 680.60,279.33 681.10,279.41 681.60,279.49 682.10,279.57 682.60,279.65 683.10,279.74 683.60,279.83 684.10,279.92 684.60,280.01 685.10,280.10 685.60,280.19 686.10,280.29 686.60,280.39 687.10,280.49 687.60,280.59 688.10,280.69 688.60,280.80 689.10,280.91 689.60,281.02 690.10,281.13 690.60,281.24 691.10,281.35 691.60,281.47 692.10,281.58 692.60,281.70" fill="none" stroke="#0000ff" stroke-width="3.0" stroke-linejoin="round" stroke-linecap="round"/>
<polyline points="139.60,295.80 140.50,264.40 141.50,270.00 142.50,240.80 143.50,262.00 144.50,255.00 145.50,268.00 146.50,257.00 147.50,262.00 148.50,258.00 149.50,270.00 150.90,182.40 152.00,275.60 153.50,280.00 155.80,246.40 157.00,286.90 159.00,275.60 161.00,292.50 163.00,299.20 164.00,299.20 166.00,292.00 167.50,291.50 169.50,295.30 170.50,290.00 171.30,200.00 171.80,23.50 172.40,200.00 173.20,300.00 174.60,319.50 176.50,310.00 179.30,303.00 190.00,301.60 190.50,302.63 191.00,301.49 191.50,302.29 192.00,301.36 192.50,301.34 193.00,301.66 193.50,301.01 194.00,301.03 194.50,300.26 195.00,300.98 195.50,300.59 196.00,300.20 196.50,300.62 197.00,299.91 197.50,299.97 198.00,299.46 198.50,299.67 199.00,299.31 199.50,299.27 200.00,299.75 200.50,299.08 201.00,299.23 201.50,299.73 202.00,299.61 202.50,299.24 203.00,298.93 203.50,298.53 204.00,298.31 204.50,299.20 205.00,298.58 205.50,298.03 206.00,298.57 206.50,298.69 207.00,298.44 207.50,298.74 208.00,297.63 208.50,298.17 209.00,298.04 209.50,297.51 210.00,298.17 210.50,298.38 211.00,298.03 211.50,297.60 212.00,298.26 212.50,297.84 213.00,297.82 213.50,298.08 214.00,297.34 214.50,298.13 215.00,297.95 215.50,298.06 216.00,297.34 216.50,298.07 217.00,297.33 217.50,297.20 218.00,298.13 218.50,298.15 219.00,298.17 219.50,297.70 220.00,297.47 220.50,297.17 221.00,297.95 221.50,298.06 222.00,298.23 222.50,297.59 223.00,297.54 223.50,298.08 224.00,298.31 224.50,298.54 225.00,297.60 225.50,298.04 226.00,298.58 226.50,298.05 227.00,298.30 227.50,297.67 228.00,298.51 228.50,298.86 229.00,298.80 229.50,298.93 230.00,298.72 230.50,298.29 231.00,298.98 231.50,298.38 232.00,299.20 232.50,298.34 233.00,299.33 233.50,298.62 234.00,298.95 234.50,298.96 235.00,299.49 235.50,298.96 236.00,299.31 236.50,298.93 237.00,299.32 237.50,299.61 238.00,299.32 238.50,300.05 239.00,299.85 239.50,300.36 240.00,300.37 240.50,300.21 241.00,300.84 241.50,300.66 242.00,300.98 242.50,300.53 243.00,300.89 243.50,300.58 244.00,301.66 244.50,300.87 245.00,301.00 245.50,300.90 246.00,301.24 246.50,301.97 247.00,302.01 247.50,301.45 248.00,301.88 248.50,302.06 249.00,302.48 249.50,302.36 250.00,302.64 250.50,303.08 251.00,303.07 251.50,302.77 252.00,303.01 252.50,303.04 253.00,302.87 253.50,303.12 254.00,303.35 254.50,303.53 255.00,303.67 255.50,304.12 256.00,304.74 256.50,304.64 257.00,304.81 257.50,304.91 258.00,304.86 258.50,305.39 259.00,305.26 259.50,305.18 260.00,304.81 260.50,305.45 261.00,305.27 261.50,305.32 262.00,305.91 262.50,306.39 263.00,305.95 263.50,306.67 264.00,306.52 264.50,306.22 265.00,307.35 265.50,306.82 266.00,306.84 266.50,307.65 267.00,306.93 267.50,307.81 268.00,307.30 268.50,307.70 269.00,307.65 269.50,308.53 270.00,308.14 270.50,308.98 271.00,308.71 271.50,308.94 272.00,308.88 272.50,308.77 273.00,309.02 273.50,309.82 274.00,309.07 274.50,310.16 275.00,310.03 275.50,309.69 276.00,310.17 276.50,310.00 277.00,310.14 277.50,310.43 278.00,309.98 278.50,310.69 279.00,311.40 279.50,310.72 280.00,311.41 280.50,311.18 281.00,311.03 281.50,312.00 282.00,311.06 282.50,311.54 283.00,312.50 283.50,311.75 284.00,312.58 284.50,312.41 285.00,312.78 285.50,312.69 286.00,312.49 286.50,313.09 287.00,312.33 287.50,312.95 288.00,312.98 288.50,313.22 289.00,312.91 289.50,313.14 290.00,313.66 290.50,313.56 291.00,314.15 291.50,314.03 292.00,314.44 292.50,314.39 293.00,314.33 293.50,314.06 294.00,314.75 294.50,314.20 295.00,314.09 295.50,315.24 296.00,314.82 296.50,315.19 297.00,314.98 297.50,315.17 298.00,314.55 298.50,314.82 299.00,315.48 299.50,315.43 300.00,315.01 300.50,316.04 301.00,315.15 301.50,315.64 302.00,315.27 302.50,316.03 303.00,315.56 303.50,315.45 304.00,315.40 304.50,315.62 305.00,315.69 305.50,316.16 306.00,316.11 306.50,316.77 307.00,316.82 307.50,316.68 308.00,316.57 308.50,316.83 309.00,316.98 309.50,315.93 310.00,316.08 310.50,316.41 311.00,316.13 311.50,316.77 312.00,316.40 312.50,316.44 313.00,316.50 313.50,316.30 314.00,317.10 314.50,317.02 315.00,316.99 315.50,316.33 316.00,316.82 316.50,317.15 317.00,316.54 317.50,316.83 318.00,316.41 318.50,316.50 319.00,316.68 319.50,316.93 320.00,317.00 320.50,317.51 321.00,316.84 321.50,316.50 322.00,317.47 322.50,316.56 323.00,316.60 323.50,317.65 324.00,317.40 324.50,316.90 325.00,316.65 325.50,316.96 326.00,316.90 326.50,317.54 327.00,316.99 327.50,316.58 328.00,317.58 328.50,317.21 329.00,316.60 329.50,316.58 330.00,316.99 330.50,316.53 331.00,317.17 331.50,317.14 332.00,316.42 332.50,317.34 333.00,317.29 333.50,317.43 334.00,317.12 334.50,317.13 335.00,316.47 335.50,316.28 336.00,316.31 336.50,317.37 337.00,316.96 337.50,317.30 338.00,316.56 338.50,317.02 339.00,316.16 339.50,316.26 340.00,316.36 340.50,316.66 341.00,316.64 341.50,316.54 342.00,316.42 342.50,316.57 343.00,317.01 343.50,316.36 344.00,316.78 344.50,315.81 345.00,316.17 345.50,316.35 346.00,316.38 346.50,315.90 347.00,316.05 347.50,316.67 348.00,316.27 348.50,316.15 349.00,315.49 349.50,315.44 350.00,315.59 350.50,315.46 351.00,316.43 351.50,315.22 352.00,315.61 352.50,315.20 353.00,315.85 353.50,315.10 354.00,315.08 354.50,315.05 355.00,315.24 355.50,315.56 356.00,315.78 356.50,315.09 357.00,315.06 357.50,315.67 358.00,315.52 358.50,314.73 359.00,315.50 359.50,315.48 360.00,314.64 360.50,315.13 361.00,314.56 361.50,314.57 362.00,314.82 362.50,314.80 363.00,314.69 363.50,314.71 364.00,314.26 364.50,314.88 365.00,314.23 365.50,314.93 366.00,314.39 366.50,314.08 367.00,313.87 367.50,314.18 368.00,313.99 368.50,314.22 369.00,314.01 369.50,313.39 370.00,314.28 370.50,313.28 371.00,314.14 371.50,314.06 372.00,314.13 372.50,313.75 373.00,313.07 373.50,313.34 374.00,313.26 374.50,313.42 375.00,313.05 375.50,313.33 376.00,312.69 376.50,312.79 377.00,312.94 377.50,312.73 378.00,312.28 378.50,313.22 379.00,312.81 379.50,312.90 380.00,312.24 380.50,312.87 381.00,312.62 381.50,312.74 382.00,311.71 382.50,311.96 383.00,311.77 383.50,311.95 384.00,311.42 384.50,311.15 385.00,311.51 385.50,311.61 386.00,311.21 386.50,311.84 387.00,311.05 387.50,310.82 388.00,311.34 388.50,310.83 389.00,310.49 389.50,310.41 390.00,311.10 390.50,311.01 391.00,310.52 391.50,309.98 392.00,310.39 392.50,309.69 393.00,309.70 393.50,309.85 394.00,309.57 394.50,309.40 395.00,310.03 395.50,308.95 396.00,309.37 396.50,308.56 397.00,308.50 397.50,308.52 398.00,309.34 398.50,308.90 399.00,308.94 399.50,307.83 400.00,307.98 400.50,308.76 401.00,308.19 401.50,307.19 402.00,307.23 402.50,307.72 403.00,307.30 403.50,307.14 404.00,308.26 404.50,306.78 405.00,306.53 405.50,307.71 406.00,306.16 406.50,306.39 407.00,305.31 407.50,305.40 408.00,306.50 408.50,306.27 409.00,305.78 409.50,306.58 410.00,306.53 410.50,306.21 411.00,305.68 411.50,305.03 412.00,303.63 412.50,305.26 413.00,305.71 413.50,303.98 414.00,304.47 414.50,303.72 415.00,302.80 415.50,304.03 416.00,301.95 416.50,302.03 417.00,303.16 417.50,303.05 418.00,303.73 418.50,303.11 419.00,304.17 419.50,303.04 420.00,300.53 420.50,303.58 421.00,300.05 421.50,299.84 422.00,300.03 422.50,303.17 423.00,300.45 423.50,300.54 424.00,303.27 424.50,300.39 425.00,300.90 425.50,301.93 426.00,298.28 426.50,300.17 427.00,297.90 427.50,299.36 428.00,301.08 428.50,300.45 429.00,301.07 429.50,297.00 430.00,299.17 430.50,298.21 431.00,299.72 431.50,299.41 432.00,300.07 432.50,299.87 433.00,299.31 433.50,298.34 434.00,297.38 434.50,290.50 435.00,297.60 435.50,295.40 436.00,297.96 436.50,298.52 437.00,294.74 437.50,295.12 438.00,293.54 438.50,295.89 439.00,296.24 439.50,293.72 440.00,294.30 440.50,297.10 441.00,295.75 441.50,293.05 442.00,293.68 442.50,294.73 443.00,291.82 443.50,294.50 444.00,295.63 444.50,295.27 445.00,291.23 445.50,294.62 446.00,289.77 446.50,293.67 447.00,290.83 447.50,290.44 448.00,293.22 448.50,292.76 449.00,291.31 449.50,289.65 450.00,290.12 450.50,290.65 451.00,292.44 451.50,289.08 452.00,289.26 452.50,291.49 453.00,286.77 453.50,292.53 454.00,287.24 454.50,289.88 455.00,292.05 455.50,287.22 456.00,288.26 456.50,285.63 457.00,287.35 457.50,285.77 458.00,288.73 458.50,285.99 459.00,287.01 459.50,290.27 460.00,288.13 460.50,289.98 461.00,284.39 461.50,284.19 462.00,285.02 462.50,285.88 463.00,285.42 463.50,287.47 464.00,284.10 464.50,283.13 465.00,282.92 465.50,281.82 466.00,283.87 466.50,282.59 467.00,283.17 467.50,286.82 468.00,286.72 468.50,284.10 469.00,283.29 469.50,286.56 470.00,286.79 470.50,282.66 471.00,284.64 471.50,282.78 472.00,281.18 472.50,279.38 473.00,280.21 473.50,279.11 474.00,283.43 474.50,280.89 475.00,282.42 475.50,284.80 476.00,282.52 476.50,279.50 477.00,282.70 477.50,281.80 478.00,284.29 478.50,277.28 479.00,283.69 479.50,278.70 480.00,277.67 480.50,279.44 481.00,281.81 481.50,282.32 482.00,276.79 482.50,277.86 483.00,277.33 483.50,280.69 484.00,281.77 484.50,280.83 485.00,278.58 485.50,274.73 486.00,274.68 486.50,276.51 487.00,274.22 487.50,279.95 488.00,276.83 488.50,278.85 489.00,275.21 489.50,274.04 490.00,277.73 490.50,278.18 491.00,279.90 491.50,273.89 492.00,279.78 492.50,273.26 493.00,280.19 493.50,275.77 494.00,280.16 494.50,281.45 495.00,279.13 495.50,271.85 496.00,272.01 496.50,279.18 497.00,272.13 497.50,273.51 498.00,272.64 498.50,272.32 499.00,275.31 499.50,270.01 500.00,278.87 500.50,270.66 501.00,271.88 501.50,268.64 502.00,274.97 502.50,272.61 503.00,270.62 503.50,272.75 504.00,272.41 504.50,277.20 505.00,268.41 505.50,276.02 506.00,269.91 506.50,274.19 507.00,275.85 507.50,274.82 508.00,275.49 508.50,271.29 509.00,273.37 509.50,267.22 510.00,267.49 510.50,275.36 511.00,274.70 511.50,266.24 512.00,273.54 512.50,268.71 513.00,269.63 513.50,271.18 514.00,274.68 514.50,266.12 515.00,268.97 515.50,265.50 516.00,273.89 516.50,264.97 517.00,274.95 517.50,275.21 518.00,270.50 518.50,268.30 519.00,271.43 519.50,271.51 520.00,270.20 520.50,260.42 521.00,265.66 521.50,264.46 522.00,272.97 522.50,264.92 523.00,267.55 523.50,271.94 524.00,264.73 524.50,271.63 525.00,274.64 525.50,264.30 526.00,265.07 526.50,274.39 527.00,265.07 527.50,270.21 528.00,268.27 528.50,273.27 529.00,273.77 529.50,268.67 530.00,273.44 530.50,269.42 531.00,271.44 531.50,272.61 532.00,270.26 532.50,265.55 533.00,273.06 533.50,272.69 534.00,273.58 534.50,265.75 535.00,271.09 535.50,274.71 536.00,264.47 536.50,262.59 537.00,264.83 537.50,269.25 538.00,265.32 538.50,272.62 539.00,264.41 539.50,269.36 540.00,275.49 540.50,268.43 541.00,271.83 541.50,275.17 542.00,272.18 542.50,274.26 543.00,273.60 543.50,272.14 544.00,265.53 544.50,275.21 545.00,264.20 545.50,265.21 546.00,275.58 546.50,273.29 547.00,273.60 547.50,267.69 548.00,266.39 548.50,265.58 549.00,270.03 549.50,270.10 550.10,270.30 550.60,270.30 551.10,270.31 551.60,270.32 552.10,270.32 552.60,270.33 553.10,270.34 553.60,270.36 554.10,270.37 554.60,270.39 555.10,270.40 555.60,270.42 556.10,270.44 556.60,270.46 557.10,270.48 557.60,270.50 558.10,270.52 558.60,270.54 559.10,270.56 559.60,270.58 560.10,270.60 560.60,270.63 561.10,270.66 561.60,270.69 562.10,270.73 562.60,270.78 563.10,270.82 563.60,270.87 564.10,270.93 564.60,270.98 565.10,271.04 565.60,271.11 566.10,271.17 566.60,271.24 567.10,271.31 567.60,271.39 568.10,271.46 568.60,271.54 569.10,271.62 569.60,271.70 570.10,271.78 570.60,271.87 571.10,271.95 571.60,272.04 572.10,272.13 572.60,272.21 573.10,272.30 573.60,272.39 574.10,272.48 574.60,272.57 575.10,272.66 575.60,272.75 576.10,272.84 576.60,272.93 577.10,273.01 577.60,273.10 578.10,273.19 578.60,273.27 579.10,273.35 579.60,273.44 580.10,273.52 580.60,273.60 581.10,273.68 581.60,273.76 582.10,273.84 582.60,273.93 583.10,274.01 583.60,274.10 584.10,274.18 584.60,274.27 585.10,274.36 585.60,274.44 586.10,274.53 586.60,274.62 587.10,274.71 587.60,274.80 588.10,274.89 588.60,274.98 589.10,275.07 589.60,275.16 590.10,275.25 590.60,275.34 591.10,275.44 591.60,275.53 592.10,275.62 592.60,275.71 593.10,275.80 593.60,275.89 594.10,275.98 594.60,276.07 595.10,276.16 595.60,276.25 596.10,276.33 596.60,276.42 597.10,276.51 597.60,276.60 598.10,276.68 598.60,276.77 599.10,276.85 599.60,276.93 600.10,277.02 600.60,277.10 601.10,277.18 601.60,277.26 602.10,277.34 602.60,277.42 603.10,277.51 603.60,277.59 604.10,277.67 604.60,277.75 605.10,277.83 605.60,277.91 606.10,277.99 606.60,278.07 607.10,278.15 607.60,278.23 608.10,278.31 608.60,278.39 609.10,278.47 609.60,278.55 610.10,278.63 610.60,278.70 611.10,278.78 611.60,278.86 612.10,278.94 612.60,279.02 613.10,279.10 613.60,279.17 614.10,279.25 614.60,279.33 615.10,279.41 615.60,279.48 616.10,279.56 616.60,279.64 617.10,279.72 617.60,279.79 618.10,279.87 618.60,279.95 619.10,280.02 619.60,280.10 620.10,280.18 620.60,280.25 621.10,280.33 621.60,280.40 622.10,280.48 622.60,280.56 623.10,280.63 623.60,280.71 624.10,280.78 624.60,280.86 625.10,280.93 625.60,281.01 626.10,281.08 626.60,281.16 627.10,281.23 627.60,281.31 628.10,281.38 628.60,281.46 629.10,281.53 629.60,281.61 630.10,281.68 630.60,281.76 631.10,281.83 631.60,281.90 632.10,281.98 632.60,282.05 633.10,282.13 633.60,282.20 634.10,282.27 634.60,282.35 635.10,282.42 635.60,282.50 636.10,282.57 636.60,282.64 637.10,282.72 637.60,282.79 638.10,282.86 638.60,282.94 639.10,283.01 639.60,283.08 640.10,283.16 640.60,283.23 641.10,283.30 641.60,283.38 642.10,283.45 642.60,283.52 643.10,283.60 643.60,283.67 644.10,283.74 644.60,283.81 645.10,283.89 645.60,283.96 646.10,284.03 646.60,284.11 647.10,284.18 647.60,284.25 648.10,284.32 648.60,284.40 649.10,284.47 649.60,284.54 650.10,284.61 650.60,284.69 651.10,284.76 651.60,284.83 652.10,284.90 652.60,284.98 653.10,285.05 653.60,285.12 654.10,285.19 654.60,285.27 655.10,285.34 655.60,285.41 656.10,285.48 656.60,285.55 657.10,285.63 657.60,285.70 658.10,285.77 658.60,285.84 659.10,285.91 659.60,285.98 660.10,286.05 660.60,286.13 661.10,286.20 661.60,286.27 662.10,286.34 662.60,286.41 663.10,286.48 663.60,286.55 664.10,286.62 664.60,286.69 665.10,286.76 665.60,286.83 666.10,286.90 666.60,286.98 667.10,287.05 667.60,287.12 668.10,287.19 668.60,287.26 669.10,287.33 669.60,287.40 670.10,287.47 670.60,287.54 671.10,287.61 671.60,287.68 672.10,287.75 672.60,287.82 673.10,287.89 673.60,287.95 674.10,288.02 674.60,288.09 675.10,288.16 675.60,288.23 676.10,288.30 676.60,288.37 677.10,288.44 677.60,288.51 678.10,288.58 678.60,288.65 679.10,288.71 679.60,288.78 680.10,288.85 680.60,288.92 681.10,288.99 681.60,289.06 682.10,289.13 682.60,289.19 683.10,289.26 683.60,289.33 684.10,289.40 684.60,289.47 685.10,289.53 685.60,289.60 686.10,289.67 686.60,289.74 687.10,289.81 687.60,289.87 688.10,289.94 688.60,290.01 689.10,290.08 689.60,290.14 690.10,290.21 690.60,290.28 691.10,290.35 691.60,290.41 692.10,290.48 692.60,290.55" fill="none" stroke="#008000" stroke-width="2.8" stroke-linejoin="round" stroke-linecap="round"/>
<line x1="449.70" y1="58.80" x2="530.30" y2="58.80" stroke="#ff0000" stroke-width="2.8" stroke-linecap="butt"/>
<line x1="449.70" y1="101.70" x2="530.30" y2="101.70" stroke="#0000ff" stroke-width="2.8" stroke-linecap="butt"/>
<line x1="449.70" y1="144.60" x2="530.30" y2="144.60" stroke="#008000" stroke-width="2.8" stroke-linecap="butt"/>
<text x="0" y="0" fill="#000" stroke="#000" stroke-width="0.35" transform="translate(537.211 69.787) scale(1.0514 1)" xml:space="preserve"><tspan font-size="32.009" font-style="italic">x</tspan><tspan font-size="32.009"> = 0</tspan></text>
<text x="0" y="0" fill="#000" stroke="#000" stroke-width="0.35" transform="translate(537.203 112.746) scale(1.0279 1)" xml:space="preserve"><tspan font-size="32.097" font-style="italic">x</tspan><tspan font-size="32.097"> = 0.021</tspan></text>
<text x="0" y="0" fill="#000" stroke="#000" stroke-width="0.35" transform="translate(537.208 155.529) scale(1.0041 1)" xml:space="preserve"><tspan font-size="33.274" font-style="italic">x</tspan><tspan font-size="33.274"> = 0.067</tspan></text>
<text x="0" y="0" font-size="32.300" font-weight="bold" fill="#000" stroke="#000" stroke-width="0.35" transform="translate(181.381 77.300) scale(1.0000 1.0700)" xml:space="preserve">(</text><text x="0" y="0" font-size="32.300" fill="#000" stroke="#000" stroke-width="0.35" transform="translate(191.739 77.300) scale(1.0000 1.0700)" xml:space="preserve">Sr</text><text x="0" y="0" font-size="19.500" fill="#000" stroke="#000" stroke-width="0.35" transform="translate(223.386 90.900) scale(1.0000 1.0700)" xml:space="preserve">1-</text><text x="0" y="0" font-size="19.500" font-style="italic" fill="#000" stroke="#000" stroke-width="0.35" transform="translate(239.238 90.900) scale(1.0000 1.0700)" xml:space="preserve">x</text><text x="0" y="0" font-size="32.300" fill="#000" stroke="#000" stroke-width="0.35" transform="translate(248.269 77.300) scale(1.0000 1.0700)" xml:space="preserve">La</text><text x="0" y="0" font-size="19.500" font-style="italic" fill="#000" stroke="#000" stroke-width="0.35" transform="translate(283.238 90.900) scale(1.0000 1.0700)" xml:space="preserve">x</text><text x="0" y="0" font-size="32.300" font-weight="bold" fill="#000" stroke="#000" stroke-width="0.35" transform="translate(291.759 77.300) scale(1.0000 1.0700)" xml:space="preserve">)</text><text x="0" y="0" font-size="19.500" fill="#000" stroke="#000" stroke-width="0.35" transform="translate(303.643 90.900) scale(1.0000 1.0700)" xml:space="preserve">2</text><text x="0" y="0" font-size="32.300" fill="#000" stroke="#000" stroke-width="0.35" transform="translate(313.733 77.300) scale(1.0000 1.0700)" xml:space="preserve">IrO</text><text x="0" y="0" font-size="19.500" fill="#000" stroke="#000" stroke-width="0.35" transform="translate(360.719 90.900) scale(1.0000 1.0700)" xml:space="preserve">4</text>
<text x="0" y="0" fill="#000" stroke="#000" stroke-width="0.35" transform="translate(192.859 153.966) scale(0.9774 1)" xml:space="preserve"><tspan font-size="34.232">10 K</tspan></text>
<text x="0" y="0" font-size="43.373" font-style="italic" fill="#000" stroke="#000" stroke-width="0.35" transform="translate(196.066 264.300) scale(0.9805 1) skewX(-9)">I</text>
<text x="0" y="0" font-size="42.329" font-style="italic" fill="#000" stroke="#000" stroke-width="0.35" transform="translate(365.091 234.466) scale(1.0373 1) skewX(-8)">α</text>
<text x="0" y="0" font-size="43.403" font-style="italic" fill="#000" stroke="#000" stroke-width="0.35" transform="translate(544.984 224.260) scale(0.9701 1) skewX(-12)">β</text>
<text x="0" y="0" fill="#000" stroke="#000" stroke-width="0.35" transform="translate(630.651 387.672) scale(1.0147 1)" xml:space="preserve"><tspan font-size="41.467">(a)</tspan></text>
<rect x="136.0" y="604.6" width="557.40" height="389.40" fill="none" stroke="#000" stroke-width="2.5"/>
<line x1="191.74" y1="994.00" x2="191.74" y2="989.00" stroke="#000" stroke-width="2.5" stroke-linecap="butt"/>
<line x1="191.74" y1="604.60" x2="191.74" y2="609.60" stroke="#000" stroke-width="2.5" stroke-linecap="butt"/>
<line x1="247.48" y1="994.00" x2="247.48" y2="984.00" stroke="#000" stroke-width="2.5" stroke-linecap="butt"/>
<line x1="247.48" y1="604.60" x2="247.48" y2="614.60" stroke="#000" stroke-width="2.5" stroke-linecap="butt"/>
<line x1="303.22" y1="994.00" x2="303.22" y2="989.00" stroke="#000" stroke-width="2.5" stroke-linecap="butt"/>
<line x1="303.22" y1="604.60" x2="303.22" y2="609.60" stroke="#000" stroke-width="2.5" stroke-linecap="butt"/>
<line x1="358.96" y1="994.00" x2="358.96" y2="984.00" stroke="#000" stroke-width="2.5" stroke-linecap="butt"/>
<line x1="358.96" y1="604.60" x2="358.96" y2="614.60" stroke="#000" stroke-width="2.5" stroke-linecap="butt"/>
<line x1="414.70" y1="994.00" x2="414.70" y2="989.00" stroke="#000" stroke-width="2.5" stroke-linecap="butt"/>
<line x1="414.70" y1="604.60" x2="414.70" y2="609.60" stroke="#000" stroke-width="2.5" stroke-linecap="butt"/>
<line x1="470.44" y1="994.00" x2="470.44" y2="984.00" stroke="#000" stroke-width="2.5" stroke-linecap="butt"/>
<line x1="470.44" y1="604.60" x2="470.44" y2="614.60" stroke="#000" stroke-width="2.5" stroke-linecap="butt"/>
<line x1="526.18" y1="994.00" x2="526.18" y2="989.00" stroke="#000" stroke-width="2.5" stroke-linecap="butt"/>
<line x1="526.18" y1="604.60" x2="526.18" y2="609.60" stroke="#000" stroke-width="2.5" stroke-linecap="butt"/>
<line x1="581.92" y1="994.00" x2="581.92" y2="984.00" stroke="#000" stroke-width="2.5" stroke-linecap="butt"/>
<line x1="581.92" y1="604.60" x2="581.92" y2="614.60" stroke="#000" stroke-width="2.5" stroke-linecap="butt"/>
<line x1="637.66" y1="994.00" x2="637.66" y2="989.00" stroke="#000" stroke-width="2.5" stroke-linecap="butt"/>
<line x1="637.66" y1="604.60" x2="637.66" y2="609.60" stroke="#000" stroke-width="2.5" stroke-linecap="butt"/>
<line x1="136.00" y1="945.33" x2="141.00" y2="945.33" stroke="#000" stroke-width="2.5" stroke-linecap="butt"/>
<line x1="693.40" y1="945.33" x2="688.40" y2="945.33" stroke="#000" stroke-width="2.5" stroke-linecap="butt"/>
<line x1="136.00" y1="896.65" x2="146.00" y2="896.65" stroke="#000" stroke-width="2.5" stroke-linecap="butt"/>
<line x1="693.40" y1="896.65" x2="683.40" y2="896.65" stroke="#000" stroke-width="2.5" stroke-linecap="butt"/>
<line x1="136.00" y1="847.98" x2="141.00" y2="847.98" stroke="#000" stroke-width="2.5" stroke-linecap="butt"/>
<line x1="693.40" y1="847.98" x2="688.40" y2="847.98" stroke="#000" stroke-width="2.5" stroke-linecap="butt"/>
<line x1="136.00" y1="799.30" x2="146.00" y2="799.30" stroke="#000" stroke-width="2.5" stroke-linecap="butt"/>
<line x1="693.40" y1="799.30" x2="683.40" y2="799.30" stroke="#000" stroke-width="2.5" stroke-linecap="butt"/>
<line x1="136.00" y1="750.62" x2="141.00" y2="750.62" stroke="#000" stroke-width="2.5" stroke-linecap="butt"/>
<line x1="693.40" y1="750.62" x2="688.40" y2="750.62" stroke="#000" stroke-width="2.5" stroke-linecap="butt"/>
<line x1="136.00" y1="701.95" x2="146.00" y2="701.95" stroke="#000" stroke-width="2.5" stroke-linecap="butt"/>
<line x1="693.40" y1="701.95" x2="683.40" y2="701.95" stroke="#000" stroke-width="2.5" stroke-linecap="butt"/>
<line x1="136.00" y1="653.28" x2="141.00" y2="653.28" stroke="#000" stroke-width="2.5" stroke-linecap="butt"/>
<line x1="693.40" y1="653.28" x2="688.40" y2="653.28" stroke="#000" stroke-width="2.5" stroke-linecap="butt"/>
<text x="0" y="0" fill="#000" stroke="#000" stroke-width="0.35" transform="translate(105.124 1036.320) scale(0.9897 1)" xml:space="preserve"><tspan font-size="33.863">0.00</tspan></text>
<text x="0" y="0" fill="#000" stroke="#000" stroke-width="0.35" transform="translate(216.620 1036.320) scale(0.9897 1)" xml:space="preserve"><tspan font-size="33.863">0.25</tspan></text>
<text x="0" y="0" fill="#000" stroke="#000" stroke-width="0.35" transform="translate(328.084 1036.320) scale(0.9897 1)" xml:space="preserve"><tspan font-size="33.863">0.50</tspan></text>
<text x="0" y="0" fill="#000" stroke="#000" stroke-width="0.35" transform="translate(439.580 1036.320) scale(0.9897 1)" xml:space="preserve"><tspan font-size="33.863">0.75</tspan></text>
<text x="0" y="0" fill="#000" stroke="#000" stroke-width="0.35" transform="translate(550.209 1036.320) scale(0.9897 1)" xml:space="preserve"><tspan font-size="33.863">1.00</tspan></text>
<text x="0" y="0" fill="#000" stroke="#000" stroke-width="0.35" transform="translate(661.705 1036.221) scale(0.9897 1)" xml:space="preserve"><tspan font-size="33.863">1.25</tspan></text>
<text x="0" y="0" fill="#000" stroke="#000" stroke-width="0.35" transform="translate(58.106 614.764) scale(0.9888 1)" xml:space="preserve"><tspan font-size="34.380">2000</tspan></text>
<text x="0" y="0" fill="#000" stroke="#000" stroke-width="0.35" transform="translate(109.098 1004.164) scale(0.9888 1)" xml:space="preserve"><tspan font-size="34.380">0</tspan></text>
<text x="0" y="0" fill="#000" stroke="#000" stroke-width="0.35" transform="translate(75.103 906.814) scale(0.9888 1)" xml:space="preserve"><tspan font-size="34.380">500</tspan></text>
<text x="0" y="0" fill="#000" stroke="#000" stroke-width="0.35" transform="translate(58.106 809.464) scale(0.9888 1)" xml:space="preserve"><tspan font-size="34.380">1000</tspan></text>
<text x="0" y="0" fill="#000" stroke="#000" stroke-width="0.35" transform="translate(58.106 712.114) scale(0.9888 1)" xml:space="preserve"><tspan font-size="34.380">1500</tspan></text>
<text x="0" y="0" fill="#000" stroke="#000" stroke-width="0.35" transform="translate(276.647 1082.525) scale(1.0231 1)" xml:space="preserve"><tspan font-size="32.319">Photon Energy (eV)</tspan></text>
<text x="0" y="0" fill="#000" stroke="#000" stroke-width="0.35" transform="translate(44.000 914.563) rotate(-90) scale(1.0263 1)" xml:space="preserve"><tspan font-size="40.000">σ</tspan><tspan font-size="24.000" dy="16.300">1</tspan><tspan font-size="44.000" dy="-16.300">(</tspan><tspan font-size="40.000" font-style="italic">ω</tspan><tspan font-size="44.000">)</tspan><tspan font-size="40.000"> </tspan><tspan font-size="44.000">(</tspan><tspan font-size="41.000">Ω</tspan><tspan font-size="23.000" dy="-24.500">-1</tspan><tspan font-size="41.000" dy="24.500" dx="2.000">cm</tspan><tspan font-size="23.000" dy="-24.500">-1</tspan><tspan font-size="44.000" dy="24.500" dx="2.000">)</tspan></text>
<polyline points="137.50,992.00 139.50,988.00 140.80,975.00 141.40,960.50 142.00,975.00 142.80,988.00 144.00,987.00 146.00,989.00 147.50,986.00 148.70,960.00 149.30,919.00 149.90,960.00 150.80,988.00 152.00,986.00 153.50,988.00 154.80,970.00 155.50,944.00 156.20,970.00 157.00,986.00 159.00,984.00 161.00,986.00 163.00,984.00 165.00,985.00 167.00,983.60 168.50,978.00 169.10,940.00 169.60,604.60 170.10,940.00 170.80,980.00 172.00,988.60 172.50,988.85 173.00,988.29 173.50,987.90 174.00,988.33 174.50,987.81 175.00,988.28 175.50,987.80 176.00,987.81 176.50,988.22 177.00,987.91 177.50,987.86 178.00,987.45 178.50,987.72 179.00,986.67 179.50,987.41 180.00,986.79 180.50,986.49 181.00,986.66 181.50,986.93 182.00,986.18 182.50,986.61 183.00,986.02 183.50,986.37 184.00,986.02 184.50,985.88 185.00,985.30 185.50,985.36 186.00,984.86 186.50,985.24 187.00,984.53 187.50,984.77 188.00,983.99 188.50,983.99 189.00,983.91 189.50,983.54 190.00,983.44 190.50,983.19 191.00,982.83 191.50,982.93 192.00,982.86 192.50,982.60 193.00,982.87 193.50,981.85 194.00,982.17 194.50,981.67 195.00,981.13 195.50,981.65 196.00,981.07 196.50,981.39 197.00,980.96 197.50,980.81 198.00,980.27 198.50,979.80 199.00,980.06 199.50,979.37 200.00,979.57 200.50,979.36 201.00,978.54 201.50,978.64 202.00,978.46 202.50,978.37 203.00,977.56 203.50,977.02 204.00,976.80 204.50,976.63 205.00,976.03 205.50,976.36 206.00,975.43 206.50,975.54 207.00,975.77 207.50,974.87 208.00,974.36 208.50,974.25 209.00,973.78 209.50,973.40 210.00,973.13 210.50,972.85 211.00,972.67 211.50,972.16 212.00,972.18 212.50,972.05 213.00,970.87 213.50,970.96 214.00,970.76 214.50,970.26 215.00,970.08 215.50,969.26 216.00,969.62 216.50,969.31 217.00,968.77 217.50,968.14 218.00,968.00 218.50,967.46 219.00,967.26 219.50,966.49 220.00,965.88 220.50,965.75 221.00,965.28 221.50,964.58 222.00,964.63 222.50,964.27 223.00,963.38 223.50,962.85 224.00,962.84 224.50,962.28 225.00,962.11 225.50,961.69 226.00,960.51 226.50,960.26 227.00,960.46 227.50,959.80 228.00,959.46 228.50,958.95 229.00,958.32 229.50,957.58 230.00,957.06 230.50,956.91 231.00,956.42 231.50,956.23 232.00,955.45 232.50,954.89 233.00,953.83 233.50,953.97 234.00,953.68 234.50,952.92 235.00,952.28 235.50,951.57 236.00,951.70 236.50,950.47 237.00,950.42 237.50,949.59 238.00,949.12 238.50,948.02 239.00,948.25 239.50,947.33 240.00,947.26 240.50,946.71 241.00,946.09 241.50,945.29 242.00,944.20 242.50,943.64 243.00,943.23 243.50,942.43 244.00,942.61 244.50,941.50 245.00,941.16 245.50,940.00 246.00,939.80 246.50,938.70 247.00,938.23 247.50,938.17 248.00,937.15 248.50,936.89 249.00,935.95 249.50,935.29 250.00,934.59 250.50,933.85 251.00,933.36 251.50,932.44 252.00,932.32 252.50,931.05 253.00,930.86 253.50,929.82 254.00,929.30 254.50,928.21 255.00,928.29 255.50,927.00 256.00,926.92 256.50,925.41 257.00,924.85 257.50,924.43 258.00,923.64 258.50,923.20 259.00,921.67 259.50,921.29 260.00,920.64 260.50,919.85 261.00,919.09 261.50,918.14 262.00,917.91 262.50,916.29 263.00,915.57 263.50,914.84 264.00,914.46 264.50,912.85 265.00,911.90 265.50,911.25 266.00,910.28 266.50,909.23 267.00,908.25 267.50,907.45 268.00,906.37 268.50,905.35 269.00,903.70 269.50,902.82 270.00,901.55 270.50,899.91 271.00,898.91 271.50,897.52 272.00,896.71 272.50,894.93 273.00,893.71 273.50,891.88 274.00,890.75 274.50,889.28 275.00,886.95 275.50,885.80 276.00,884.20 276.50,882.45 277.00,881.10 277.50,878.98 278.00,877.72 278.50,875.94 279.00,874.09 279.50,871.88 280.00,870.27 280.50,868.56 281.00,867.42 281.50,865.61 282.00,863.01 282.50,862.22 283.00,860.18 283.50,858.78 284.00,856.50 284.50,854.65 285.00,853.29 285.50,851.98 286.00,849.91 286.50,848.30 287.00,846.18 287.50,844.84 288.00,843.47 288.50,841.69 289.00,840.18 289.50,838.82 290.00,837.25 290.50,834.98 291.00,833.59 291.50,831.87 292.00,830.90 292.50,829.26 293.00,827.58 293.50,826.51 294.00,825.13 294.50,823.16 295.00,821.90 295.50,820.51 296.00,819.04 296.50,817.23 297.00,816.49 297.50,814.30 298.00,813.12 298.50,812.32 299.00,810.40 299.50,809.50 300.00,807.83 300.50,806.57 301.00,805.68 301.50,803.93 302.00,802.83 302.50,801.99 303.00,800.12 303.50,799.34 304.00,798.53 304.50,797.15 305.00,796.56 305.50,795.63 306.00,794.85 306.50,793.97 307.00,793.10 307.50,792.00 308.00,791.48 308.50,790.60 309.00,790.15 309.50,790.29 310.00,788.89 310.50,789.06 311.00,788.48 311.50,788.66 312.00,787.81 312.50,787.47 313.00,787.35 313.50,787.46 314.00,787.68 314.50,786.76 315.00,786.87 315.50,787.29 316.00,787.52 316.50,787.42 317.00,787.40 317.50,787.03 318.00,787.11 318.50,788.06 319.00,788.03 319.50,787.98 320.00,789.04 320.50,788.68 321.00,789.71 321.50,789.75 322.00,790.01 322.50,790.58 323.00,791.37 323.50,791.26 324.00,792.24 324.50,792.71 325.00,793.07 325.50,793.27 326.00,794.16 326.50,794.71 327.00,794.91 327.50,796.17 328.00,796.49 328.50,796.66 329.00,797.83 329.50,798.17 330.00,798.79 330.50,800.25 331.00,800.21 331.50,800.82 332.00,801.84 332.50,802.28 333.00,803.21 333.50,803.82 334.00,805.15 334.50,805.55 335.00,806.12 335.50,806.79 336.00,808.18 336.50,809.27 337.00,809.65 337.50,810.08 338.00,811.30 338.50,812.47 339.00,812.49 339.50,813.58 340.00,814.25 340.50,814.97 341.00,816.30 341.50,817.14 342.00,817.37 342.50,819.11 343.00,819.90 343.50,820.39 344.00,821.38 344.50,822.20 345.00,822.95 345.50,823.54 346.00,825.11 346.50,825.67 347.00,826.01 347.50,826.90 348.00,828.35 348.50,828.97 349.00,830.07 349.50,830.58 350.00,831.46 350.50,832.13 351.00,833.73 351.50,833.86 352.00,835.33 352.50,835.59 353.00,836.55 353.50,837.22 354.00,838.27 354.50,838.85 355.00,839.72 355.50,841.19 356.00,841.92 356.50,842.37 357.00,843.59 357.50,844.65 358.00,845.15 358.50,845.98 359.00,846.77 359.50,847.50 360.00,848.35 360.50,849.26 361.00,849.95 361.50,850.73 362.00,851.67 362.50,852.34 363.00,852.63 363.50,853.28 364.00,854.51 364.50,854.78 365.00,855.51 365.50,856.00 366.00,857.05 366.50,857.38 367.00,857.60 367.50,858.27 368.00,859.03 368.50,860.37 369.00,860.20 369.50,860.85 370.00,861.98 370.50,862.05 371.00,862.42 371.50,863.26 372.00,863.59 372.50,863.70 373.00,864.28 373.50,865.11 374.00,865.71 374.50,866.13 375.00,866.68 375.50,866.93 376.00,866.85 376.50,867.39 377.00,868.31 377.50,868.28 378.00,869.21 378.50,869.24 379.00,869.35 379.50,869.56 380.00,870.16 380.50,870.02 381.00,870.36 381.50,870.98 382.00,871.13 382.50,871.21 383.00,871.63 383.50,871.62 384.00,872.45 384.50,872.56 385.00,872.99 385.50,873.06 386.00,872.99 386.50,873.61 387.00,873.65 387.50,873.53 388.00,873.78 388.50,874.06 389.00,874.24 389.50,873.76 390.00,874.29 390.50,873.94 391.00,874.82 391.50,874.85 392.00,874.72 392.50,874.10 393.00,874.93 393.50,874.33 394.00,874.64 394.50,874.63 395.00,874.27 395.50,874.83 396.00,875.04 396.50,874.36 397.00,875.15 397.50,875.03 398.00,874.79 398.50,874.19 399.00,874.64 399.50,874.35 400.00,874.40 400.50,874.70 401.00,874.34 401.50,873.72 402.00,873.66 402.50,873.68 403.00,873.40 403.50,873.84 404.00,873.19 404.50,873.51 405.00,873.57 405.50,872.62 406.00,873.03 406.50,872.70 407.00,873.00 407.50,872.28 408.00,871.90 408.50,872.14 409.00,871.29 409.50,871.83 410.00,871.47 410.50,870.85 411.00,871.04 411.50,870.63 412.00,870.79 412.50,870.47 413.00,870.14 413.50,869.92 414.00,869.66 414.50,869.37 415.00,869.06 415.50,868.59 416.00,868.38 416.50,868.29 417.00,867.37 417.50,867.78 418.00,867.47 418.50,866.84 419.00,866.03 419.50,865.96 420.00,865.76 420.50,865.54 421.00,865.36 421.50,865.18 422.00,864.00 422.50,864.14 423.00,863.46 423.50,863.72 424.00,863.42 424.50,863.13 425.00,862.69 425.50,861.49 426.00,861.28 426.50,860.84 427.00,860.71 427.50,860.29 428.00,859.82 428.50,859.83 429.00,859.56 429.50,859.35 430.00,858.02 430.50,858.03 431.00,857.50 431.50,857.68 432.00,856.42 432.50,856.84 433.00,855.59 433.50,855.25 434.00,854.98 434.50,854.85 435.00,854.21 435.50,854.26 436.00,853.10 436.50,853.19 437.00,852.79 437.50,852.42 438.00,851.66 438.50,851.42 439.00,851.06 439.50,850.19 440.00,850.15 440.50,849.66 441.00,848.91 441.50,848.83 442.00,848.55 442.50,847.69 443.00,847.28 443.50,846.89 444.00,846.94 444.50,846.08 445.00,845.88 445.50,844.96 446.00,844.90 446.50,844.45 447.00,844.37 447.50,844.11 448.00,843.56 448.50,842.64 449.00,842.13 449.50,841.80 450.00,841.19 450.50,841.50 451.00,840.29 451.50,840.47 452.00,839.55 452.50,839.12 453.00,839.04 453.50,838.99 454.00,838.19 454.50,838.13 455.00,837.32 455.50,837.33 456.00,836.48 456.50,836.49 457.00,836.39 457.50,835.42 458.00,834.68 458.50,834.91 459.00,834.74 459.50,833.46 460.00,834.02 460.50,832.92 461.00,832.90 461.50,832.89 462.00,831.81 462.50,831.74 463.00,831.28 463.50,830.86 464.00,830.61 464.50,830.24 465.00,830.26 465.50,829.77 466.00,829.70 466.50,828.78 467.00,828.65 467.50,828.37 468.00,827.91 468.50,827.99 469.00,827.60 469.50,826.60 470.00,826.89 470.50,826.08 471.00,825.78 471.50,826.10 472.00,825.56 472.50,825.05 473.00,825.49 473.50,825.10 474.00,824.74 474.50,824.05 475.00,823.52 475.50,823.56 476.00,823.77 476.50,822.91 477.00,822.88 477.50,822.15 478.00,822.02 478.50,822.12 479.00,821.64 479.50,822.14 480.00,821.30 480.50,820.83 481.00,820.64 481.50,820.36 482.00,820.31 482.50,820.85 483.00,820.57 483.50,819.49 484.00,819.86 484.50,819.54 485.00,819.15 485.50,819.48 486.00,819.40 486.50,819.13 487.00,818.85 487.50,818.16 488.00,818.21 488.50,817.96 489.00,818.42 489.50,817.89 490.00,817.97 490.50,817.97 491.00,817.04 491.50,817.63 492.00,817.34 492.50,817.14 493.00,817.29 493.50,816.69 494.00,816.47 494.50,816.41 495.00,816.32 495.50,816.66 496.00,816.53 496.50,815.87 497.00,815.94 497.50,816.56 498.00,815.99 498.50,815.83 499.00,815.77 499.50,816.27 500.00,815.56 500.50,815.46 501.00,814.36 501.50,815.09 502.00,815.91 502.50,813.94 503.00,816.66 503.50,816.58 504.00,813.86 504.50,816.38 505.00,814.26 505.50,816.00 506.00,814.10 506.50,815.99 507.00,816.95 507.50,817.07 508.00,815.91 508.50,814.06 509.00,814.94 509.50,814.50 510.00,817.14 510.50,814.62 511.00,815.68 511.50,815.10 512.00,814.05 512.50,815.09 513.00,816.72 513.50,815.30 514.00,816.47 514.50,816.13 515.00,814.03 515.50,816.92 516.00,816.76 516.50,817.41 517.00,814.59 517.50,818.39 518.00,818.02 518.50,818.29 519.00,818.69 519.50,817.22 520.00,816.15 520.50,814.77 521.00,817.96 521.50,817.76 522.00,817.98 522.50,814.95 523.00,819.75 523.50,817.10 524.00,815.64 524.50,820.47 525.00,819.34 525.50,818.41 526.00,819.84 526.50,820.22 527.00,819.68 527.50,818.18 528.00,818.18 528.50,820.27 529.00,817.58 529.50,818.08 530.00,818.24 530.50,819.92 531.00,821.00 531.50,820.58 532.00,822.33 532.50,823.64 533.00,818.81 533.50,819.44 534.00,823.19 534.50,821.01 535.00,823.05 535.50,819.79 536.00,820.40 536.50,825.17 537.00,822.67 537.50,820.98 538.00,826.24 538.50,822.11 539.00,821.40 539.50,824.56 540.00,825.06 540.50,822.12 541.00,826.24 541.50,824.03 542.00,828.85 542.50,824.82 543.00,827.56 543.50,827.23 544.00,827.22 544.50,823.86 545.00,829.27 545.50,826.16 546.00,827.93 546.50,830.39 547.00,829.37 547.50,826.47 548.00,832.18 548.50,831.10 549.00,829.32 549.50,831.26 550.00,828.31 550.50,828.84 551.00,829.76 551.50,829.02 552.00,829.42 552.50,832.22 553.00,831.03 553.50,829.78 554.00,832.64 554.50,831.20 555.00,832.00 555.50,833.95 556.00,833.65 556.50,836.71 557.00,831.73 557.50,834.14 558.00,836.11 558.50,832.36 559.00,832.81 559.50,834.34 560.00,837.94 560.50,830.97 561.00,835.89 561.50,834.60 562.00,836.95 562.50,839.07 563.00,831.55 563.50,838.65 564.00,840.07 564.50,834.83 565.00,838.19 565.50,840.32 566.00,836.68 566.50,835.20 567.00,841.23 567.50,836.46 568.00,835.88 568.50,839.20 569.00,837.53 569.50,833.85 570.00,833.98 570.50,838.81 571.00,837.93 571.50,840.19 572.00,837.11 572.50,840.75 573.00,843.71 573.50,836.27 574.00,838.53 574.50,844.81 575.00,843.49 575.50,838.97 576.00,843.96 576.50,845.80 577.00,844.38 577.50,845.17 578.10,845.78 578.60,845.86 579.10,845.94 579.60,846.02 580.10,846.10 580.60,846.18 581.10,846.25 581.60,846.33 582.10,846.41 582.60,846.49 583.10,846.56 583.60,846.64 584.10,846.72 584.60,846.80 585.10,846.87 585.60,846.95 586.10,847.02 586.60,847.10 587.10,847.17 587.60,847.25 588.10,847.32 588.60,847.40 589.10,847.47 589.60,847.54 590.10,847.62 590.60,847.69 591.10,847.76 591.60,847.83 592.10,847.90 592.60,847.98 593.10,848.05 593.60,848.12 594.10,848.19 594.60,848.26 595.10,848.33 595.60,848.39 596.10,848.46 596.60,848.53 597.10,848.60 597.60,848.67 598.10,848.73 598.60,848.80 599.10,848.87 599.60,848.93 600.10,849.00 600.60,849.06 601.10,849.13 601.60,849.19 602.10,849.25 602.60,849.32 603.10,849.38 603.60,849.44 604.10,849.50 604.60,849.56 605.10,849.62 605.60,849.68 606.10,849.74 606.60,849.80 607.10,849.86 607.60,849.92 608.10,849.98 608.60,850.03 609.10,850.09 609.60,850.15 610.10,850.20 610.60,850.26 611.10,850.31 611.60,850.36 612.10,850.42 612.60,850.47 613.10,850.52 613.60,850.57 614.10,850.62 614.60,850.67 615.10,850.72 615.60,850.77 616.10,850.82 616.60,850.87 617.10,850.92 617.60,850.96 618.10,851.01 618.60,851.06 619.10,851.10 619.60,851.15 620.10,851.19 620.60,851.24 621.10,851.28 621.60,851.32 622.10,851.37 622.60,851.41 623.10,851.45 623.60,851.50 624.10,851.54 624.60,851.58 625.10,851.62 625.60,851.66 626.10,851.70 626.60,851.75 627.10,851.79 627.60,851.83 628.10,851.87 628.60,851.91 629.10,851.95 629.60,851.99 630.10,852.03 630.60,852.07 631.10,852.11 631.60,852.15 632.10,852.19 632.60,852.23 633.10,852.27 633.60,852.31 634.10,852.35 634.60,852.39 635.10,852.43 635.60,852.47 636.10,852.51 636.60,852.55 637.10,852.59 637.60,852.63 638.10,852.67 638.60,852.71 639.10,852.75 639.60,852.79 640.10,852.83 640.60,852.88 641.10,852.92 641.60,852.96 642.10,853.00 642.60,853.05 643.10,853.09 643.60,853.13 644.10,853.18 644.60,853.22 645.10,853.27 645.60,853.31 646.10,853.36 646.60,853.40 647.10,853.45 647.60,853.50 648.10,853.54 648.60,853.59 649.10,853.64 649.60,853.69 650.10,853.74 650.60,853.79 651.10,853.84 651.60,853.89 652.10,853.94 652.60,853.99 653.10,854.05 653.60,854.10 654.10,854.15 654.60,854.20 655.10,854.26 655.60,854.31 656.10,854.36 656.60,854.42 657.10,854.47 657.60,854.53 658.10,854.58 658.60,854.64 659.10,854.69 659.60,854.75 660.10,854.80 660.60,854.86 661.10,854.92 661.60,854.97 662.10,855.03 662.60,855.09 663.10,855.15 663.60,855.20 664.10,855.26 664.60,855.32 665.10,855.38 665.60,855.44 666.10,855.50 666.60,855.55 667.10,855.61 667.60,855.67 668.10,855.73 668.60,855.79 669.10,855.85 669.60,855.92 670.10,855.98 670.60,856.04 671.10,856.10 671.60,856.16 672.10,856.22 672.60,856.28 673.10,856.35 673.60,856.41 674.10,856.47 674.60,856.54 675.10,856.60 675.60,856.66 676.10,856.73 676.60,856.79 677.10,856.85 677.60,856.92 678.10,856.98 678.60,857.05 679.10,857.11 679.60,857.18 680.10,857.24 680.60,857.31 681.10,857.37 681.60,857.44 682.10,857.51 682.60,857.57 683.10,857.64 683.60,857.71 684.10,857.77 684.60,857.84 685.10,857.91 685.60,857.98 686.10,858.04 686.60,858.11 687.10,858.18 687.60,858.25 688.10,858.32 688.60,858.39 689.10,858.46 689.60,858.52 690.10,858.59 690.60,858.66 691.10,858.73 691.60,858.80 692.10,858.87 692.60,858.94" fill="none" stroke="#ff0000" stroke-width="2.8" stroke-linejoin="round" stroke-linecap="round"/>
<polyline points="139.00,905.00 139.60,885.00 140.30,915.00 141.00,888.00 141.70,920.00 142.40,895.00 143.10,918.00 143.80,890.00 144.50,912.00 145.20,897.00 145.90,921.00 146.60,900.00 147.30,915.00 148.20,905.00 148.80,880.00 149.50,849.50 150.20,900.00 150.80,919.00 152.00,912.00 153.80,910.90 155.00,918.00 156.30,925.80 158.00,929.00 160.00,935.00 162.00,941.00 163.80,947.30 165.00,946.00 166.20,942.30 167.50,935.00 168.70,925.80 169.40,900.00 170.00,700.00 170.30,648.60 170.70,700.00 171.40,900.00 172.80,951.70 173.30,949.07 173.80,947.67 174.30,945.68 174.80,944.15 175.30,943.90 175.80,942.22 176.30,940.22 176.80,940.05 177.30,938.91 177.80,936.85 178.30,936.27 178.80,934.20 179.30,933.45 179.80,932.74 180.30,931.10 180.80,930.10 181.30,928.50 181.80,928.23 182.30,926.76 182.80,925.38 183.30,924.95 183.80,924.14 184.30,922.57 184.80,921.79 185.30,921.09 185.80,918.93 186.30,918.63 186.80,918.10 187.30,916.13 187.80,915.31 188.30,914.77 188.80,914.06 189.30,912.95 189.80,912.05 190.30,910.58 190.80,910.53 191.30,909.18 191.80,908.04 192.30,908.27 192.80,907.09 193.30,906.04 193.80,905.58 194.30,904.49 194.80,903.30 195.30,903.11 195.80,902.54 196.30,901.80 196.80,900.84 197.30,900.58 197.80,899.90 198.30,899.13 198.80,897.84 199.30,897.05 199.80,896.71 200.30,896.21 200.80,894.98 201.30,894.84 201.80,894.08 202.30,892.95 202.80,892.86 203.30,892.25 203.80,892.36 204.30,890.70 204.80,891.20 205.30,890.63 205.80,889.73 206.30,888.71 206.80,888.92 207.30,887.66 207.80,887.36 208.30,887.29 208.80,886.53 209.30,886.10 209.80,885.46 210.30,884.69 210.80,884.64 211.30,884.77 211.80,884.35 212.30,883.04 212.80,883.20 213.30,882.57 213.80,882.24 214.30,882.57 214.80,881.98 215.30,881.26 215.80,880.91 216.30,881.05 216.80,880.06 217.30,880.22 217.80,879.84 218.30,879.53 218.80,878.89 219.30,878.87 219.80,878.76 220.30,877.82 220.80,878.11 221.30,877.50 221.80,877.30 222.30,876.96 222.80,876.60 223.30,876.82 223.80,876.15 224.30,875.67 224.80,876.17 225.30,875.49 225.80,875.50 226.30,875.78 226.80,875.18 227.30,874.84 227.80,874.37 228.30,874.70 228.80,874.82 229.30,874.35 229.80,874.26 230.30,873.56 230.80,873.40 231.30,873.31 231.80,873.31 232.30,873.67 232.80,873.02 233.30,872.54 233.80,872.84 234.30,872.39 234.80,872.73 235.30,872.26 235.80,872.88 236.30,872.16 236.80,872.23 237.30,872.13 237.80,871.83 238.30,872.41 238.80,871.20 239.30,871.95 239.80,871.29 240.30,870.96 240.80,871.02 241.30,871.63 241.80,871.74 242.30,871.50 242.80,870.84 243.30,871.02 243.80,870.50 244.30,870.79 244.80,870.53 245.30,870.19 245.80,870.44 246.30,871.14 246.80,870.60 247.30,870.23 247.80,869.97 248.30,870.85 248.80,869.82 249.30,869.70 249.80,869.72 250.30,870.43 250.80,870.59 251.30,869.52 251.80,870.11 252.30,870.06 252.80,869.84 253.30,869.15 253.80,869.91 254.30,869.53 254.80,870.06 255.30,870.07 255.80,869.57 256.30,868.88 256.80,869.05 257.30,869.35 257.80,869.57 258.30,868.96 258.80,868.82 259.30,869.04 259.80,869.26 260.30,868.40 260.80,868.80 261.30,868.75 261.80,868.51 262.30,868.29 262.80,868.92 263.30,868.69 263.80,867.82 264.30,867.56 264.80,867.79 265.30,867.91 265.80,867.52 266.30,867.65 266.80,867.98 267.30,867.98 267.80,867.99 268.30,867.91 268.80,867.24 269.30,867.41 269.80,867.58 270.30,867.35 270.80,867.23 271.30,867.43 271.80,867.51 272.30,867.38 272.80,866.55 273.30,866.29 273.80,866.41 274.30,866.95 274.80,866.29 275.30,866.72 275.80,866.46 276.30,866.87 276.80,865.74 277.30,866.51 277.80,865.50 278.30,866.13 278.80,865.94 279.30,865.51 279.80,865.45 280.30,865.53 280.80,865.57 281.30,865.10 281.80,865.37 282.30,864.87 282.80,865.29 283.30,865.27 283.80,865.01 284.30,865.07 284.80,865.09 285.30,864.96 285.80,864.48 286.30,864.46 286.80,864.45 287.30,865.26 287.80,864.59 288.30,864.77 288.80,864.10 289.30,864.42 289.80,864.26 290.30,863.91 290.80,863.87 291.30,863.83 291.80,864.37 292.30,864.32 292.80,864.40 293.30,863.71 293.80,863.87 294.30,864.06 294.80,863.81 295.30,864.12 295.80,863.06 296.30,863.81 296.80,863.09 297.30,863.50 297.80,863.30 298.30,863.33 298.80,863.67 299.30,862.81 299.80,862.72 300.30,863.75 300.80,863.18 301.30,863.05 301.80,862.72 302.30,863.11 302.80,863.28 303.30,863.53 303.80,862.91 304.30,862.58 304.80,863.32 305.30,862.77 305.80,863.26 306.30,863.36 306.80,863.56 307.30,862.62 307.80,862.74 308.30,862.90 308.80,863.44 309.30,863.00 309.80,863.03 310.30,863.55 310.80,862.72 311.30,862.75 311.80,862.77 312.30,863.33 312.80,863.02 313.30,863.26 313.80,863.49 314.30,863.61 314.80,863.52 315.30,863.30 315.80,864.20 316.30,864.36 316.80,864.10 317.30,863.87 317.80,864.84 318.30,863.90 318.80,864.95 319.30,864.77 319.80,864.47 320.30,865.02 320.80,865.13 321.30,864.63 321.80,865.35 322.30,865.90 322.80,865.91 323.30,865.49 323.80,865.79 324.30,866.58 324.80,865.99 325.30,867.00 325.80,867.04 326.30,867.10 326.80,867.38 327.30,867.70 327.80,867.50 328.30,868.75 328.80,868.41 329.30,868.97 329.80,868.58 330.30,869.79 330.80,869.86 331.30,869.62 331.80,870.70 332.30,870.97 332.80,870.77 333.30,870.86 333.80,871.83 334.30,871.16 334.80,872.61 335.30,872.95 335.80,872.21 336.30,873.57 336.80,873.11 337.30,874.08 337.80,874.47 338.30,873.98 338.80,874.51 339.30,875.59 339.80,875.72 340.30,875.96 340.80,875.74 341.30,876.67 341.80,876.18 342.30,876.79 342.80,877.11 343.30,877.22 343.80,878.05 344.30,877.86 344.80,879.34 345.30,879.08 345.80,879.75 346.30,879.79 346.80,879.63 347.30,880.35 347.80,880.14 348.30,880.81 348.80,881.53 349.30,881.30 349.80,882.49 350.30,882.46 350.80,882.03 351.30,882.81 351.80,883.67 352.30,883.19 352.80,883.31 353.30,883.78 353.80,884.30 354.30,884.46 354.80,884.54 355.30,885.07 355.80,885.34 356.30,885.84 356.80,886.44 357.30,886.23 357.80,885.79 358.30,886.10 358.80,886.49 359.30,887.46 359.80,886.60 360.30,887.49 360.80,887.38 361.30,887.36 361.80,888.01 362.30,888.31 362.80,888.48 363.30,887.96 363.80,888.07 364.30,888.21 364.80,888.37 365.30,888.49 365.80,888.97 366.30,888.83 366.80,889.30 367.30,889.82 367.80,889.69 368.30,888.93 368.80,890.04 369.30,889.44 369.80,889.25 370.30,889.39 370.80,889.22 371.30,889.54 371.80,889.81 372.30,889.41 372.80,890.47 373.30,889.85 373.80,890.00 374.30,889.75 374.80,890.46 375.30,890.41 375.80,889.96 376.30,889.37 376.80,890.15 377.30,889.74 377.80,889.48 378.30,889.84 378.80,890.13 379.30,890.01 379.80,889.29 380.30,890.72 380.80,889.25 381.30,890.23 381.80,890.65 382.30,889.91 382.80,889.56 383.30,890.15 383.80,889.92 384.30,889.06 384.80,889.30 385.30,889.76 385.80,887.48 386.30,889.24 386.80,889.43 387.30,888.22 387.80,888.46 388.30,887.42 388.80,888.68 389.30,889.62 389.80,887.26 390.30,887.67 390.80,888.97 391.30,887.68 391.80,887.09 392.30,887.78 392.80,885.44 393.30,885.70 393.80,888.01 394.30,885.37 394.80,884.75 395.30,887.72 395.80,886.93 396.30,887.55 396.80,886.60 397.30,887.01 397.80,884.75 398.30,886.03 398.80,883.70 399.30,885.90 399.80,885.37 400.30,883.18 400.80,882.94 401.30,882.67 401.80,884.87 402.30,884.08 402.80,882.43 403.30,883.61 403.80,883.51 404.30,883.30 404.80,884.25 405.30,883.45 405.80,881.62 406.30,879.90 406.80,880.36 407.30,879.52 407.80,882.06 408.30,881.85 408.80,879.32 409.30,881.99 409.80,879.25 410.30,879.57 410.80,879.77 411.30,881.21 411.80,880.55 412.30,877.23 412.80,880.03 413.30,876.94 413.80,879.15 414.30,878.34 414.80,875.92 415.30,875.23 415.80,878.63 416.30,874.48 416.80,874.80 417.30,878.03 417.80,876.58 418.30,875.75 418.80,875.00 419.30,875.23 419.80,874.48 420.30,872.48 420.80,872.91 421.30,872.99 421.80,873.51 422.30,872.78 422.80,873.95 423.30,874.03 423.80,873.60 424.30,871.95 424.80,871.36 425.30,869.41 425.80,870.61 426.30,872.29 426.80,870.02 427.30,869.44 427.80,868.59 428.30,870.47 428.80,869.57 429.30,867.18 429.80,867.80 430.30,866.74 430.80,866.81 431.30,867.01 431.80,865.86 432.30,869.91 432.80,867.94 433.30,865.20 433.80,866.87 434.30,865.97 434.80,864.70 435.30,865.48 435.80,865.95 436.30,863.39 436.80,867.30 437.30,864.78 437.80,862.44 438.30,865.17 438.80,866.20 439.30,861.30 439.80,864.34 440.30,864.86 440.80,862.62 441.30,860.49 441.80,863.67 442.30,861.26 442.80,860.84 443.30,862.96 443.80,858.78 444.30,859.76 444.80,862.91 445.30,858.79 445.80,858.08 446.30,857.93 446.80,859.91 447.30,858.90 447.80,859.38 448.30,861.26 448.80,857.46 449.30,860.02 449.80,858.78 450.30,858.80 450.80,855.36 451.30,855.23 451.80,855.55 452.30,856.89 452.80,856.26 453.30,855.67 453.80,858.55 454.30,856.70 454.80,855.23 455.30,856.52 455.80,857.76 456.30,853.81 456.80,854.75 457.30,853.50 457.80,854.99 458.30,852.66 458.80,853.64 459.30,857.15 459.80,856.55 460.30,851.23 460.80,852.95 461.30,855.43 461.80,855.41 462.30,852.25 462.80,854.07 463.30,854.52 463.80,852.28 464.30,850.45 464.80,854.21 465.30,853.77 465.80,852.62 466.30,853.77 466.80,854.88 467.30,850.21 467.80,848.81 468.30,852.36 468.80,849.65 469.30,853.58 469.80,852.83 470.30,850.99 470.80,852.77 471.30,853.64 471.80,852.21 472.30,849.35 472.80,850.42 473.30,848.01 473.80,851.27 474.30,849.36 474.80,848.09 475.30,848.61 475.80,849.02 476.30,852.03 476.80,847.04 477.30,847.88 477.80,848.42 478.30,851.91 478.80,847.32 479.30,852.79 479.80,851.47 480.30,849.09 480.80,850.37 481.30,850.69 481.80,851.31 482.30,847.81 482.80,851.85 483.30,850.78 483.80,846.76 484.30,846.17 484.80,850.22 485.30,851.34 485.80,850.35 486.30,851.24 486.80,845.95 487.30,852.00 487.80,848.31 488.30,848.59 488.80,851.07 489.30,849.61 489.80,848.75 490.30,846.42 490.80,851.91 491.30,849.73 491.80,845.95 492.30,849.35 492.80,850.33 493.30,848.95 493.80,849.91 494.30,847.06 494.80,852.63 495.30,849.17 495.80,846.17 496.30,847.57 496.80,851.70 497.30,850.97 497.80,849.76 498.30,847.68 498.80,851.00 499.30,851.67 499.80,846.77 500.30,851.95 500.80,849.96 501.30,847.50 501.80,849.09 502.30,857.46 502.80,846.53 503.30,852.31 503.80,850.32 504.30,845.91 504.80,847.18 505.30,850.47 505.80,853.45 506.30,849.19 506.80,848.87 507.30,848.82 507.80,850.76 508.30,851.64 508.80,850.42 509.30,851.52 509.80,851.81 510.30,846.94 510.80,845.98 511.30,847.46 511.80,851.77 512.30,852.81 512.80,854.13 513.30,851.31 513.80,846.08 514.30,846.72 514.80,845.95 515.30,849.78 515.80,854.77 516.30,852.62 516.80,848.40 517.30,850.84 517.80,852.46 518.30,854.05 518.80,848.72 519.30,844.50 519.80,841.30 520.30,847.08 520.80,856.59 521.30,849.16 521.80,851.53 522.30,856.96 522.80,848.09 523.30,857.62 523.80,854.39 524.30,848.23 524.80,852.26 525.30,858.04 525.80,848.13 526.30,855.15 526.80,848.60 527.30,853.35 527.80,853.47 528.30,852.58 528.80,851.64 529.30,851.43 529.80,856.44 530.30,852.48 530.80,847.15 531.30,853.60 531.80,848.63 532.30,859.70 532.80,859.74 533.30,855.71 533.80,861.34 534.30,847.67 534.80,855.00 535.30,853.17 535.80,853.41 536.30,854.87 536.80,853.04 537.30,857.84 537.80,857.60 538.30,856.91 538.80,869.99 539.30,857.07 539.80,850.48 540.30,863.21 540.80,860.11 541.30,864.52 541.80,859.41 542.30,853.54 542.80,850.68 543.30,850.90 543.80,860.75 544.30,854.97 544.80,865.94 545.30,859.44 545.80,859.71 546.60,861.08 547.10,861.17 547.60,861.25 548.10,861.33 548.60,861.41 549.10,861.49 549.60,861.57 550.10,861.66 550.60,861.74 551.10,861.82 551.60,861.90 552.10,861.98 552.60,862.06 553.10,862.14 553.60,862.21 554.10,862.29 554.60,862.37 555.10,862.45 555.60,862.53 556.10,862.60 556.60,862.68 557.10,862.76 557.60,862.83 558.10,862.91 558.60,862.99 559.10,863.06 559.60,863.13 560.10,863.21 560.60,863.28 561.10,863.36 561.60,863.43 562.10,863.50 562.60,863.57 563.10,863.64 563.60,863.71 564.10,863.78 564.60,863.85 565.10,863.92 565.60,863.99 566.10,864.06 566.60,864.13 567.10,864.19 567.60,864.26 568.10,864.33 568.60,864.39 569.10,864.46 569.60,864.52 570.10,864.58 570.60,864.65 571.10,864.71 571.60,864.77 572.10,864.83 572.60,864.89 573.10,864.95 573.60,865.01 574.10,865.07 574.60,865.13 575.10,865.19 575.60,865.24 576.10,865.30 576.60,865.36 577.10,865.42 577.60,865.47 578.10,865.53 578.60,865.58 579.10,865.64 579.60,865.69 580.10,865.75 580.60,865.80 581.10,865.86 581.60,865.91 582.10,865.97 582.60,866.02 583.10,866.07 583.60,866.13 584.10,866.18 584.60,866.23 585.10,866.28 585.60,866.34 586.10,866.39 586.60,866.44 587.10,866.49 587.60,866.54 588.10,866.59 588.60,866.64 589.10,866.69 589.60,866.74 590.10,866.79 590.60,866.84 591.10,866.89 591.60,866.94 592.10,866.99 592.60,867.04 593.10,867.09 593.60,867.13 594.10,867.18 594.60,867.23 595.10,867.28 595.60,867.32 596.10,867.37 596.60,867.42 597.10,867.46 597.60,867.51 598.10,867.56 598.60,867.60 599.10,867.65 599.60,867.69 600.10,867.74 600.60,867.78 601.10,867.83 601.60,867.87 602.10,867.92 602.60,867.96 603.10,868.01 603.60,868.05 604.10,868.09 604.60,868.14 605.10,868.18 605.60,868.22 606.10,868.27 606.60,868.31 607.10,868.35 607.60,868.39 608.10,868.44 608.60,868.48 609.10,868.52 609.60,868.56 610.10,868.60 610.60,868.65 611.10,868.69 611.60,868.73 612.10,868.77 612.60,868.81 613.10,868.85 613.60,868.89 614.10,868.93 614.60,868.97 615.10,869.01 615.60,869.05 616.10,869.09 616.60,869.13 617.10,869.17 617.60,869.21 618.10,869.25 618.60,869.29 619.10,869.32 619.60,869.36 620.10,869.40 620.60,869.43 621.10,869.47 621.60,869.51 622.10,869.54 622.60,869.58 623.10,869.61 623.60,869.64 624.10,869.68 624.60,869.71 625.10,869.75 625.60,869.78 626.10,869.81 626.60,869.84 627.10,869.88 627.60,869.91 628.10,869.94 628.60,869.97 629.10,870.00 629.60,870.03 630.10,870.07 630.60,870.10 631.10,870.13 631.60,870.16 632.10,870.19 632.60,870.22 633.10,870.25 633.60,870.28 634.10,870.31 634.60,870.34 635.10,870.37 635.60,870.40 636.10,870.43 636.60,870.46 637.10,870.49 637.60,870.52 638.10,870.55 638.60,870.58 639.10,870.61 639.60,870.64 640.10,870.67 640.60,870.70 641.10,870.73 641.60,870.76 642.10,870.79 642.60,870.82 643.10,870.85 643.60,870.88 644.10,870.92 644.60,870.95 645.10,870.98 645.60,871.01 646.10,871.04 646.60,871.07 647.10,871.10 647.60,871.14 648.10,871.17 648.60,871.20 649.10,871.24 649.60,871.27 650.10,871.30 650.60,871.34 651.10,871.37 651.60,871.40 652.10,871.44 652.60,871.47 653.10,871.51 653.60,871.55 654.10,871.58 654.60,871.62 655.10,871.65 655.60,871.69 656.10,871.73 656.60,871.77 657.10,871.81 657.60,871.85 658.10,871.88 658.60,871.92 659.10,871.96 659.60,872.01 660.10,872.05 660.60,872.09 661.10,872.13 661.60,872.17 662.10,872.22 662.60,872.26 663.10,872.31 663.60,872.35 664.10,872.40 664.60,872.44 665.10,872.49 665.60,872.54 666.10,872.59 666.60,872.63 667.10,872.68 667.60,872.73 668.10,872.78 668.60,872.83 669.10,872.89 669.60,872.94 670.10,872.99 670.60,873.04 671.10,873.10 671.60,873.15 672.10,873.20 672.60,873.26 673.10,873.31 673.60,873.37 674.10,873.43 674.60,873.48 675.10,873.54 675.60,873.60 676.10,873.65 676.60,873.71 677.10,873.77 677.60,873.83 678.10,873.89 678.60,873.95 679.10,874.01 679.60,874.07 680.10,874.13 680.60,874.19 681.10,874.25 681.60,874.32 682.10,874.38 682.60,874.44 683.10,874.50 683.60,874.57 684.10,874.63 684.60,874.69 685.10,874.76 685.60,874.82 686.10,874.89 686.60,874.95 687.10,875.02 687.60,875.08 688.10,875.15 688.60,875.21 689.10,875.28 689.60,875.34 690.10,875.41 690.60,875.48 691.10,875.54 691.60,875.61 692.10,875.68 692.60,875.75" fill="none" stroke="#0000ff" stroke-width="3.0" stroke-linejoin="round" stroke-linecap="round"/>
<polyline points="140.70,734.50 141.20,760.00 141.80,790.00 142.70,816.00 143.50,835.00 144.60,845.00 143.90,858.00 145.50,864.00 147.50,868.40 149.00,875.00 150.40,883.80 152.00,891.00 153.30,895.50 155.00,898.50 157.00,896.00 159.00,899.00 161.00,896.50 163.00,899.00 165.00,897.00 166.50,896.00 168.00,891.00 169.30,880.00 170.00,844.80 170.70,880.00 172.30,898.50 172.80,895.71 173.30,895.19 173.80,893.87 174.30,893.41 174.80,893.75 175.30,892.15 175.80,891.66 176.30,892.11 176.80,891.19 177.30,890.39 177.80,890.07 178.30,889.78 178.80,888.86 179.30,888.26 179.80,888.61 180.30,888.06 180.80,887.48 181.30,887.47 181.80,886.79 182.30,886.96 182.80,885.69 183.30,885.80 183.80,885.41 184.30,884.96 184.80,884.97 185.30,884.28 185.80,884.71 186.30,884.56 186.80,883.45 187.30,883.65 187.80,883.22 188.30,882.80 188.80,883.61 189.30,882.89 189.80,882.40 190.30,882.89 190.80,882.20 191.30,882.93 191.80,882.00 192.30,881.69 192.80,881.81 193.30,881.91 193.80,882.00 194.30,882.47 194.80,882.18 195.30,881.72 195.80,881.31 196.30,881.47 196.80,882.47 197.30,881.83 197.80,882.12 198.30,881.38 198.80,881.39 199.30,882.40 199.80,882.14 200.30,881.86 200.80,881.93 201.30,881.72 201.80,881.90 202.30,881.80 202.80,882.87 203.30,882.51 203.80,882.21 204.30,883.05 204.80,882.51 205.30,882.47 205.80,883.24 206.30,883.72 206.80,882.81 207.30,883.88 207.80,883.29 208.30,883.32 208.80,883.38 209.30,883.87 209.80,884.55 210.30,884.43 210.80,885.03 211.30,884.44 211.80,884.73 212.30,884.83 212.80,885.87 213.30,886.01 213.80,885.47 214.30,885.77 214.80,885.81 215.30,886.52 215.80,885.86 216.30,886.08 216.80,886.68 217.30,886.68 217.80,887.59 218.30,887.66 218.80,887.61 219.30,887.95 219.80,888.17 220.30,888.47 220.80,888.84 221.30,888.10 221.80,888.86 222.30,888.47 222.80,889.02 223.30,889.62 223.80,889.94 224.30,889.96 224.80,889.28 225.30,889.85 225.80,889.80 226.30,890.99 226.80,890.15 227.30,890.45 227.80,890.77 228.30,890.60 228.80,891.75 229.30,891.65 229.80,891.26 230.30,891.85 230.80,891.53 231.30,892.34 231.80,892.07 232.30,892.01 232.80,892.28 233.30,892.99 233.80,893.26 234.30,893.06 234.80,893.62 235.30,893.44 235.80,893.35 236.30,893.75 236.80,894.01 237.30,894.81 237.80,894.02 238.30,894.16 238.80,894.90 239.30,895.55 239.80,895.65 240.30,895.57 240.80,894.98 241.30,896.03 241.80,896.05 242.30,895.57 242.80,896.12 243.30,895.79 243.80,896.85 244.30,896.92 244.80,897.18 245.30,897.29 245.80,896.86 246.30,897.65 246.80,897.16 247.30,897.18 247.80,897.65 248.30,897.93 248.80,897.84 249.30,898.38 249.80,898.53 250.30,898.25 250.80,898.86 251.30,898.70 251.80,899.31 252.30,898.93 252.80,899.69 253.30,899.38 253.80,899.70 254.30,899.99 254.80,899.95 255.30,899.79 255.80,900.80 256.30,899.89 256.80,900.31 257.30,900.73 257.80,900.25 258.30,900.55 258.80,901.46 259.30,901.59 259.80,901.56 260.30,902.02 260.80,901.98 261.30,901.58 261.80,902.13 262.30,901.90 262.80,902.54 263.30,902.24 263.80,902.09 264.30,903.10 264.80,903.01 265.30,903.21 265.80,903.13 266.30,903.53 266.80,903.26 267.30,903.53 267.80,903.06 268.30,903.78 268.80,904.23 269.30,904.22 269.80,904.47 270.30,904.23 270.80,904.82 271.30,904.02 271.80,905.07 272.30,904.59 272.80,904.38 273.30,905.14 273.80,905.06 274.30,905.15 274.80,905.78 275.30,905.05 275.80,905.74 276.30,905.62 276.80,905.88 277.30,905.96 277.80,905.64 278.30,906.21 278.80,906.75 279.30,906.03 279.80,905.96 280.30,906.14 280.80,906.72 281.30,907.45 281.80,906.45 282.30,907.69 282.80,907.26 283.30,906.87 283.80,907.34 284.30,907.19 284.80,907.91 285.30,907.81 285.80,907.61 286.30,907.67 286.80,908.51 287.30,908.50 287.80,908.20 288.30,908.27 288.80,908.77 289.30,909.15 289.80,908.18 290.30,908.37 290.80,908.72 291.30,908.99 291.80,908.56 292.30,908.64 292.80,908.93 293.30,909.22 293.80,909.74 294.30,909.68 294.80,909.08 295.30,909.19 295.80,909.77 296.30,910.36 296.80,910.50 297.30,909.93 297.80,910.64 298.30,910.78 298.80,910.24 299.30,910.73 299.80,910.36 300.30,910.19 300.80,910.78 301.30,910.27 301.80,911.05 302.30,911.30 302.80,911.51 303.30,911.03 303.80,910.71 304.30,911.73 304.80,911.77 305.30,911.96 305.80,911.59 306.30,911.76 306.80,911.47 307.30,911.31 307.80,911.51 308.30,912.10 308.80,911.70 309.30,912.20 309.80,912.05 310.30,912.05 310.80,912.74 311.30,911.84 311.80,912.29 312.30,911.96 312.80,912.96 313.30,912.49 313.80,912.36 314.30,912.22 314.80,912.80 315.30,912.62 315.80,912.35 316.30,912.30 316.80,912.78 317.30,913.07 317.80,913.05 318.30,913.56 318.80,913.63 319.30,913.71 319.80,913.60 320.30,913.26 320.80,913.37 321.30,913.26 321.80,913.31 322.30,912.93 322.80,913.89 323.30,913.27 323.80,913.05 324.30,913.62 324.80,913.96 325.30,913.67 325.80,913.62 326.30,914.01 326.80,913.46 327.30,913.31 327.80,914.05 328.30,914.01 328.80,914.44 329.30,913.94 329.80,914.41 330.30,913.52 330.80,913.56 331.30,914.28 331.80,913.86 332.30,913.69 332.80,913.79 333.30,914.11 333.80,914.09 334.30,914.39 334.80,914.79 335.30,914.19 335.80,913.99 336.30,914.48 336.80,913.80 337.30,914.28 337.80,914.21 338.30,914.31 338.80,913.92 339.30,914.53 339.80,914.62 340.30,914.78 340.80,915.04 341.30,914.32 341.80,914.69 342.30,914.43 342.80,914.16 343.30,914.97 343.80,914.80 344.30,915.03 344.80,914.88 345.30,914.99 345.80,914.04 346.30,913.90 346.80,914.11 347.30,914.35 347.80,914.67 348.30,914.36 348.80,914.44 349.30,914.72 349.80,913.87 350.30,914.58 350.80,913.81 351.30,914.03 351.80,914.57 352.30,914.50 352.80,914.14 353.30,913.98 353.80,914.60 354.30,913.90 354.80,913.58 355.30,913.81 355.80,913.50 356.30,914.41 356.80,913.55 357.30,914.53 357.80,913.58 358.30,913.65 358.80,913.94 359.30,913.56 359.80,913.60 360.30,913.22 360.80,913.52 361.30,913.03 361.80,913.22 362.30,913.98 362.80,913.17 363.30,913.10 363.80,913.54 364.30,913.72 364.80,912.95 365.30,912.99 365.80,913.33 366.30,913.35 366.80,913.07 367.30,912.48 367.80,912.41 368.30,913.03 368.80,912.89 369.30,913.04 369.80,912.82 370.30,912.31 370.80,911.88 371.30,912.71 371.80,912.39 372.30,912.16 372.80,912.19 373.30,911.75 373.80,911.60 374.30,911.79 374.80,911.58 375.30,911.75 375.80,911.92 376.30,911.72 376.80,911.06 377.30,910.94 377.80,911.49 378.30,910.75 378.80,911.12 379.30,910.16 379.80,910.48 380.30,910.44 380.80,910.67 381.30,910.63 381.80,909.64 382.30,910.08 382.80,909.97 383.30,909.27 383.80,909.96 384.30,909.49 384.80,909.85 385.30,908.79 385.80,909.06 386.30,908.68 386.80,908.93 387.30,908.75 387.80,908.50 388.30,908.13 388.80,908.21 389.30,907.91 389.80,908.38 390.30,907.72 390.80,907.60 391.30,907.19 391.80,907.04 392.30,907.73 392.80,906.81 393.30,907.33 393.80,906.85 394.30,907.16 394.80,906.03 395.30,906.81 395.80,906.45 396.30,906.05 396.80,906.07 397.30,905.93 397.80,905.45 398.30,905.52 398.80,904.87 399.30,904.47 399.80,905.10 400.30,904.12 400.80,905.68 401.30,903.62 401.80,903.42 402.30,903.70 402.80,903.21 403.30,904.25 403.80,902.55 404.30,904.60 404.80,904.35 405.30,901.68 405.80,903.12 406.30,901.63 406.80,901.92 407.30,902.26 407.80,902.22 408.30,902.11 408.80,903.48 409.30,901.08 409.80,900.67 410.30,902.19 410.80,903.02 411.30,902.81 411.80,902.52 412.30,899.36 412.80,902.47 413.30,901.25 413.80,901.97 414.30,900.02 414.80,899.11 415.30,901.26 415.80,900.60 416.30,900.94 416.80,898.39 417.30,897.95 417.80,900.49 418.30,897.13 418.80,901.04 419.30,897.31 419.80,899.25 420.30,898.29 420.80,897.72 421.30,896.85 421.80,899.59 422.30,900.11 422.80,899.11 423.30,898.36 423.80,898.79 424.30,897.80 424.80,897.79 425.30,899.44 425.80,896.13 426.30,895.69 426.80,899.37 427.30,899.25 427.80,896.66 428.30,898.30 428.80,897.89 429.30,898.93 429.80,894.01 430.30,898.48 430.80,896.14 431.30,895.74 431.80,897.01 432.30,896.51 432.80,895.35 433.30,894.39 433.80,898.05 434.30,897.37 434.80,892.92 435.30,894.66 435.80,896.80 436.30,897.44 436.80,897.90 437.30,893.24 437.80,897.32 438.30,895.98 438.80,891.81 439.30,892.64 439.80,892.40 440.30,891.56 440.80,895.57 441.30,892.93 441.80,895.46 442.30,891.18 442.80,896.57 443.30,895.29 443.80,895.83 444.30,894.52 444.80,893.39 445.30,891.40 445.80,896.77 446.30,890.88 446.80,893.56 447.30,890.52 447.80,890.33 448.30,894.68 448.80,896.09 449.30,892.77 449.80,895.27 450.30,895.72 450.80,893.14 451.30,894.97 451.80,891.10 452.30,889.88 452.80,890.12 453.30,888.57 453.80,889.00 454.30,894.48 454.80,895.68 455.30,888.63 455.80,894.08 456.30,894.51 456.80,893.65 457.30,892.05 457.80,891.88 458.30,893.62 458.80,889.67 459.30,894.02 459.80,889.06 460.30,887.60 460.80,895.49 461.30,887.93 461.80,888.80 462.30,887.46 462.80,886.96 463.30,887.91 463.80,895.17 464.30,893.04 464.80,890.29 465.30,886.50 465.80,894.15 466.30,890.86 466.80,894.31 467.30,890.92 467.80,886.76 468.30,886.64 468.80,893.52 469.30,887.93 469.80,887.14 470.30,889.62 470.80,888.09 471.30,888.17 471.80,893.28 472.30,889.96 472.80,895.25 473.30,886.05 473.80,887.98 474.30,893.95 474.80,889.29 475.30,892.70 475.80,889.12 476.30,888.77 476.80,893.78 477.30,887.64 477.80,890.05 478.30,890.18 478.80,884.49 479.30,885.00 479.80,886.40 480.30,883.76 480.80,891.15 481.30,889.93 481.80,887.23 482.30,888.01 482.80,883.69 483.30,887.64 483.80,892.55 484.30,883.34 484.80,890.28 485.30,890.64 485.80,885.12 486.30,885.91 486.80,884.47 487.30,888.88 487.80,886.49 488.30,883.57 488.80,885.35 489.30,884.72 489.80,893.50 490.30,888.91 490.80,887.23 491.30,887.26 491.80,888.23 492.30,893.09 492.80,885.69 493.30,881.54 493.80,883.00 494.30,880.68 494.80,882.98 495.30,887.89 495.80,883.43 496.30,890.64 496.80,892.02 497.30,881.35 497.80,889.98 498.30,888.02 498.80,892.20 499.30,881.67 499.80,885.59 500.30,885.47 500.80,884.59 501.30,884.59 501.80,884.58 502.30,884.57 502.80,884.56 503.30,884.56 503.80,884.55 504.30,884.55 504.80,884.54 505.30,884.53 505.80,884.53 506.30,884.52 506.80,884.52 507.30,884.51 507.80,884.51 508.30,884.50 508.80,884.50 509.30,884.49 509.80,884.49 510.30,884.48 510.80,884.48 511.30,884.48 511.80,884.47 512.30,884.47 512.80,884.46 513.30,884.46 513.80,884.46 514.30,884.45 514.80,884.45 515.30,884.45 515.80,884.45 516.30,884.44 516.80,884.44 517.30,884.44 517.80,884.44 518.30,884.43 518.80,884.43 519.30,884.43 519.80,884.43 520.30,884.42 520.80,884.42 521.30,884.42 521.80,884.42 522.30,884.42 522.80,884.42 523.30,884.41 523.80,884.41 524.30,884.41 524.80,884.41 525.30,884.41 525.80,884.41 526.30,884.41 526.80,884.41 527.30,884.41 527.80,884.41 528.30,884.41 528.80,884.40 529.30,884.40 529.80,884.40 530.30,884.40 530.80,884.40 531.30,884.40 531.80,884.40 532.30,884.40 532.80,884.40 533.30,884.40 533.80,884.40 534.30,884.40 534.80,884.40 535.30,884.40 535.80,884.40 536.30,884.40 536.80,884.40 537.30,884.40 537.80,884.40 538.30,884.40 538.80,884.40 539.30,884.40 539.80,884.40 540.30,884.40 540.80,884.40 541.30,884.40 541.80,884.40 542.30,884.40 542.80,884.40 543.30,884.41 543.80,884.41 544.30,884.41 544.80,884.41 545.30,884.42 545.80,884.42 546.30,884.42 546.80,884.43 547.30,884.43 547.80,884.43 548.30,884.44 548.80,884.44 549.30,884.45 549.80,884.45 550.30,884.46 550.80,884.46 551.30,884.47 551.80,884.47 552.30,884.48 552.80,884.49 553.30,884.49 553.80,884.50 554.30,884.51 554.80,884.51 555.30,884.52 555.80,884.53 556.30,884.53 556.80,884.54 557.30,884.55 557.80,884.56 558.30,884.57 558.80,884.57 559.30,884.58 559.80,884.59 560.30,884.60 560.80,884.61 561.30,884.62 561.80,884.63 562.30,884.63 562.80,884.64 563.30,884.65 563.80,884.66 564.30,884.67 564.80,884.68 565.30,884.69 565.80,884.70 566.30,884.71 566.80,884.72 567.30,884.73 567.80,884.74 568.30,884.75 568.80,884.76 569.30,884.77 569.80,884.78 570.30,884.79 570.80,884.80 571.30,884.81 571.80,884.82 572.30,884.83 572.80,884.84 573.30,884.85 573.80,884.86 574.30,884.87 574.80,884.88 575.30,884.89 575.80,884.90 576.30,884.91 576.80,884.93 577.30,884.94 577.80,884.95 578.30,884.96 578.80,884.97 579.30,884.99 579.80,885.00 580.30,885.02 580.80,885.03 581.30,885.04 581.80,885.06 582.30,885.07 582.80,885.09 583.30,885.11 583.80,885.12 584.30,885.14 584.80,885.16 585.30,885.17 585.80,885.19 586.30,885.21 586.80,885.23 587.30,885.25 587.80,885.27 588.30,885.28 588.80,885.30 589.30,885.32 589.80,885.34 590.30,885.36 590.80,885.38 591.30,885.41 591.80,885.43 592.30,885.45 592.80,885.47 593.30,885.49 593.80,885.51 594.30,885.53 594.80,885.56 595.30,885.58 595.80,885.60 596.30,885.62 596.80,885.65 597.30,885.67 597.80,885.69 598.30,885.72 598.80,885.74 599.30,885.77 599.80,885.79 600.30,885.81 600.80,885.84 601.30,885.86 601.80,885.89 602.30,885.91 602.80,885.94 603.30,885.96 603.80,885.99 604.30,886.01 604.80,886.04 605.30,886.07 605.80,886.09 606.30,886.12 606.80,886.14 607.30,886.17 607.80,886.19 608.30,886.22 608.80,886.25 609.30,886.27 609.80,886.30 610.30,886.32 610.80,886.35 611.30,886.38 611.80,886.40 612.30,886.43 612.80,886.46 613.30,886.48 613.80,886.51 614.30,886.53 614.80,886.56 615.30,886.59 615.80,886.61 616.30,886.64 616.80,886.67 617.30,886.69 617.80,886.72 618.30,886.74 618.80,886.77 619.30,886.80 619.80,886.82 620.30,886.85 620.80,886.87 621.30,886.90 621.80,886.93 622.30,886.95 622.80,886.98 623.30,887.00 623.80,887.03 624.30,887.06 624.80,887.08 625.30,887.11 625.80,887.14 626.30,887.17 626.80,887.19 627.30,887.22 627.80,887.25 628.30,887.28 628.80,887.31 629.30,887.34 629.80,887.36 630.30,887.39 630.80,887.42 631.30,887.45 631.80,887.48 632.30,887.51 632.80,887.54 633.30,887.57 633.80,887.60 634.30,887.63 634.80,887.66 635.30,887.69 635.80,887.72 636.30,887.75 636.80,887.78 637.30,887.81 637.80,887.84 638.30,887.88 638.80,887.91 639.30,887.94 639.80,887.97 640.30,888.00 640.80,888.03 641.30,888.06 641.80,888.10 642.30,888.13 642.80,888.16 643.30,888.19 643.80,888.22 644.30,888.26 644.80,888.29 645.30,888.32 645.80,888.35 646.30,888.38 646.80,888.42 647.30,888.45 647.80,888.48 648.30,888.51 648.80,888.55 649.30,888.58 649.80,888.61 650.30,888.64 650.80,888.68 651.30,888.71 651.80,888.74 652.30,888.77 652.80,888.81 653.30,888.84 653.80,888.87 654.30,888.91 654.80,888.94 655.30,888.97 655.80,889.00 656.30,889.04 656.80,889.07 657.30,889.10 657.80,889.13 658.30,889.17 658.80,889.20 659.30,889.23 659.80,889.26 660.30,889.30 660.80,889.33 661.30,889.36 661.80,889.39 662.30,889.43 662.80,889.46 663.30,889.49 663.80,889.52 664.30,889.56 664.80,889.59 665.30,889.62 665.80,889.65 666.30,889.69 666.80,889.72 667.30,889.75 667.80,889.78 668.30,889.82 668.80,889.85 669.30,889.88 669.80,889.92 670.30,889.95 670.80,889.98 671.30,890.02 671.80,890.05 672.30,890.08 672.80,890.12 673.30,890.15 673.80,890.18 674.30,890.22 674.80,890.25 675.30,890.28 675.80,890.32 676.30,890.35 676.80,890.38 677.30,890.42 677.80,890.45 678.30,890.49 678.80,890.52 679.30,890.55 679.80,890.59 680.30,890.62 680.80,890.66 681.30,890.69 681.80,890.72 682.30,890.76 682.80,890.79 683.30,890.83 683.80,890.86 684.30,890.90 684.80,890.93 685.30,890.96 685.80,891.00 686.30,891.03 686.80,891.07 687.30,891.10 687.80,891.14 688.30,891.17 688.80,891.21 689.30,891.24 689.80,891.28 690.30,891.31 690.80,891.35 691.30,891.38 691.80,891.42 692.30,891.45 692.80,891.49" fill="none" stroke="#008000" stroke-width="2.8" stroke-linejoin="round" stroke-linecap="round"/>
<line x1="447.60" y1="644.10" x2="528.10" y2="644.10" stroke="#ff0000" stroke-width="2.8" stroke-linecap="butt"/>
<line x1="447.60" y1="687.30" x2="528.10" y2="687.30" stroke="#0000ff" stroke-width="2.8" stroke-linecap="butt"/>
<line x1="447.60" y1="730.50" x2="528.10" y2="730.50" stroke="#008000" stroke-width="2.8" stroke-linecap="butt"/>
<text x="0" y="0" fill="#000" stroke="#000" stroke-width="0.35" transform="translate(534.711 655.387) scale(1.0514 1)" xml:space="preserve"><tspan font-size="32.009" font-style="italic">x</tspan><tspan font-size="32.009"> = 0</tspan></text>
<text x="0" y="0" fill="#000" stroke="#000" stroke-width="0.35" transform="translate(534.705 698.646) scale(1.0330 1)" xml:space="preserve"><tspan font-size="32.097" font-style="italic">x</tspan><tspan font-size="32.097"> = 0.023</tspan></text>
<text x="0" y="0" fill="#000" stroke="#000" stroke-width="0.35" transform="translate(534.704 741.729) scale(0.9939 1)" xml:space="preserve"><tspan font-size="33.274" font-style="italic">x</tspan><tspan font-size="33.274"> = 0.051</tspan></text>
<text x="0" y="0" font-size="32.300" font-weight="bold" fill="#000" stroke="#000" stroke-width="0.35" transform="translate(200.881 661.800) scale(1.0000 1.0700)" xml:space="preserve">(</text><text x="0" y="0" font-size="32.300" fill="#000" stroke="#000" stroke-width="0.35" transform="translate(211.539 661.800) scale(1.0000 1.0700)" xml:space="preserve">Sr</text><text x="0" y="0" font-size="19.500" fill="#000" stroke="#000" stroke-width="0.35" transform="translate(243.286 674.700) scale(1.0000 1.0700)" xml:space="preserve">1-</text><text x="0" y="0" font-size="19.500" font-style="italic" fill="#000" stroke="#000" stroke-width="0.35" transform="translate(259.238 674.700) scale(1.0000 1.0700)" xml:space="preserve">x</text><text x="0" y="0" font-size="32.300" fill="#000" stroke="#000" stroke-width="0.35" transform="translate(268.769 661.800) scale(1.0000 1.0700)" xml:space="preserve">La</text><text x="0" y="0" font-size="19.500" font-style="italic" fill="#000" stroke="#000" stroke-width="0.35" transform="translate(303.938 674.700) scale(1.0000 1.0700)" xml:space="preserve">x</text><text x="0" y="0" font-size="32.300" font-weight="bold" fill="#000" stroke="#000" stroke-width="0.35" transform="translate(312.659 661.800) scale(1.0000 1.0700)" xml:space="preserve">)</text><text x="0" y="0" font-size="19.500" fill="#000" stroke="#000" stroke-width="0.35" transform="translate(323.367 674.700) scale(1.0000 1.0700)" xml:space="preserve">3</text><text x="0" y="0" font-size="32.300" fill="#000" stroke="#000" stroke-width="0.35" transform="translate(333.133 661.800) scale(1.0000 1.0700)" xml:space="preserve">Ir</text><text x="0" y="0" font-size="19.500" fill="#000" stroke="#000" stroke-width="0.35" transform="translate(354.843 674.700) scale(1.0000 1.0700)" xml:space="preserve">2</text><text x="0" y="0" font-size="32.300" fill="#000" stroke="#000" stroke-width="0.35" transform="translate(365.675 661.800) scale(1.0000 1.0700)" xml:space="preserve">O</text><text x="0" y="0" font-size="19.500" fill="#000" stroke="#000" stroke-width="0.35" transform="translate(390.415 674.700) scale(1.0000 1.0700)" xml:space="preserve">7</text>
<text x="0" y="0" fill="#000" stroke="#000" stroke-width="0.35" transform="translate(206.131 732.069) scale(0.9953 1)" xml:space="preserve"><tspan font-size="33.936">10 K</tspan></text>
<text x="0" y="0" font-size="44.289" font-style="italic" fill="#000" stroke="#000" stroke-width="0.35" transform="translate(188.679 854.400) scale(1.0355 1) skewX(-9)">I</text>
<text x="0" y="0" font-size="41.292" font-style="italic" fill="#000" stroke="#000" stroke-width="0.35" transform="translate(307.254 768.577) scale(1.0808 1) skewX(-8)">α</text>
<text x="0" y="0" font-size="42.203" font-style="italic" fill="#000" stroke="#000" stroke-width="0.35" transform="translate(509.276 793.715) scale(0.9559 1) skewX(-12)">β</text>
<text x="0" y="0" fill="#000" stroke="#000" stroke-width="0.35" transform="translate(633.670 969.719) scale(1.0097 1)" xml:space="preserve"><tspan font-size="41.247">(b)</tspan></text>
<rect x="844.7" y="23.5" width="278.30" height="389.30" fill="none" stroke="#000" stroke-width="2.5"/>
<line x1="871.50" y1="412.80" x2="871.50" y2="402.80" stroke="#000" stroke-width="2.5" stroke-linecap="butt"/>
<line x1="871.50" y1="23.50" x2="871.50" y2="33.50" stroke="#000" stroke-width="2.5" stroke-linecap="butt"/>
<line x1="927.60" y1="412.80" x2="927.60" y2="407.30" stroke="#000" stroke-width="2.5" stroke-linecap="butt"/>
<line x1="927.60" y1="23.50" x2="927.60" y2="29.00" stroke="#000" stroke-width="2.5" stroke-linecap="butt"/>
<line x1="983.70" y1="412.80" x2="983.70" y2="402.80" stroke="#000" stroke-width="2.5" stroke-linecap="butt"/>
<line x1="983.70" y1="23.50" x2="983.70" y2="33.50" stroke="#000" stroke-width="2.5" stroke-linecap="butt"/>
<line x1="1039.80" y1="412.80" x2="1039.80" y2="407.30" stroke="#000" stroke-width="2.5" stroke-linecap="butt"/>
<line x1="1039.80" y1="23.50" x2="1039.80" y2="29.00" stroke="#000" stroke-width="2.5" stroke-linecap="butt"/>
<line x1="1095.90" y1="412.80" x2="1095.90" y2="402.80" stroke="#000" stroke-width="2.5" stroke-linecap="butt"/>
<line x1="1095.90" y1="23.50" x2="1095.90" y2="33.50" stroke="#000" stroke-width="2.5" stroke-linecap="butt"/>
<line x1="844.70" y1="380.73" x2="850.20" y2="380.73" stroke="#000" stroke-width="2.5" stroke-linecap="butt"/>
<line x1="1123.00" y1="380.73" x2="1117.50" y2="380.73" stroke="#000" stroke-width="2.5" stroke-linecap="butt"/>
<line x1="844.70" y1="348.16" x2="854.70" y2="348.16" stroke="#000" stroke-width="2.5" stroke-linecap="butt"/>
<line x1="1123.00" y1="348.16" x2="1113.00" y2="348.16" stroke="#000" stroke-width="2.5" stroke-linecap="butt"/>
<line x1="844.70" y1="315.59" x2="850.20" y2="315.59" stroke="#000" stroke-width="2.5" stroke-linecap="butt"/>
<line x1="1123.00" y1="315.59" x2="1117.50" y2="315.59" stroke="#000" stroke-width="2.5" stroke-linecap="butt"/>
<line x1="844.70" y1="283.02" x2="854.70" y2="283.02" stroke="#000" stroke-width="2.5" stroke-linecap="butt"/>
<line x1="1123.00" y1="283.02" x2="1113.00" y2="283.02" stroke="#000" stroke-width="2.5" stroke-linecap="butt"/>
<line x1="844.70" y1="250.45" x2="850.20" y2="250.45" stroke="#000" stroke-width="2.5" stroke-linecap="butt"/>
<line x1="1123.00" y1="250.45" x2="1117.50" y2="250.45" stroke="#000" stroke-width="2.5" stroke-linecap="butt"/>
<line x1="844.70" y1="217.88" x2="854.70" y2="217.88" stroke="#000" stroke-width="2.5" stroke-linecap="butt"/>
<line x1="1123.00" y1="217.88" x2="1113.00" y2="217.88" stroke="#000" stroke-width="2.5" stroke-linecap="butt"/>
<line x1="844.70" y1="185.31" x2="850.20" y2="185.31" stroke="#000" stroke-width="2.5" stroke-linecap="butt"/>
<line x1="1123.00" y1="185.31" x2="1117.50" y2="185.31" stroke="#000" stroke-width="2.5" stroke-linecap="butt"/>
<line x1="844.70" y1="152.74" x2="854.70" y2="152.74" stroke="#000" stroke-width="2.5" stroke-linecap="butt"/>
<line x1="1123.00" y1="152.74" x2="1113.00" y2="152.74" stroke="#000" stroke-width="2.5" stroke-linecap="butt"/>
<line x1="844.70" y1="120.17" x2="850.20" y2="120.17" stroke="#000" stroke-width="2.5" stroke-linecap="butt"/>
<line x1="1123.00" y1="120.17" x2="1117.50" y2="120.17" stroke="#000" stroke-width="2.5" stroke-linecap="butt"/>
<line x1="844.70" y1="87.60" x2="854.70" y2="87.60" stroke="#000" stroke-width="2.5" stroke-linecap="butt"/>
<line x1="1123.00" y1="87.60" x2="1113.00" y2="87.60" stroke="#000" stroke-width="2.5" stroke-linecap="butt"/>
<line x1="844.70" y1="55.03" x2="850.20" y2="55.03" stroke="#000" stroke-width="2.5" stroke-linecap="butt"/>
<line x1="1123.00" y1="55.03" x2="1117.50" y2="55.03" stroke="#000" stroke-width="2.5" stroke-linecap="butt"/>
<text x="0" y="0" fill="#000" stroke="#000" stroke-width="0.35" transform="translate(850.692 437.760) scale(0.9933 1)" xml:space="preserve"><tspan font-size="23.999">0.00</tspan></text>
<text x="0" y="0" fill="#000" stroke="#000" stroke-width="0.35" transform="translate(962.624 437.760) scale(0.9933 1)" xml:space="preserve"><tspan font-size="23.999">0.04</tspan></text>
<text x="0" y="0" fill="#000" stroke="#000" stroke-width="0.35" transform="translate(1075.092 437.760) scale(0.9933 1)" xml:space="preserve"><tspan font-size="23.999">0.08</tspan></text>
<text x="0" y="0" fill="#000" stroke="#000" stroke-width="0.35" transform="translate(803.699 29.971) scale(0.9806 1)" xml:space="preserve"><tspan font-size="23.216">1.2</tspan></text>
<text x="0" y="0" fill="#000" stroke="#000" stroke-width="0.35" transform="translate(803.310 420.845) scale(0.9806 1)" xml:space="preserve"><tspan font-size="23.216">0.0</tspan></text>
<text x="0" y="0" fill="#000" stroke="#000" stroke-width="0.35" transform="translate(803.699 355.705) scale(0.9806 1)" xml:space="preserve"><tspan font-size="23.216">0.2</tspan></text>
<text x="0" y="0" fill="#000" stroke="#000" stroke-width="0.35" transform="translate(802.799 290.565) scale(0.9806 1)" xml:space="preserve"><tspan font-size="23.216">0.4</tspan></text>
<text x="0" y="0" fill="#000" stroke="#000" stroke-width="0.35" transform="translate(803.121 225.425) scale(0.9806 1)" xml:space="preserve"><tspan font-size="23.216">0.6</tspan></text>
<text x="0" y="0" fill="#000" stroke="#000" stroke-width="0.35" transform="translate(803.310 160.285) scale(0.9806 1)" xml:space="preserve"><tspan font-size="23.216">0.8</tspan></text>
<text x="0" y="0" fill="#000" stroke="#000" stroke-width="0.35" transform="translate(803.310 95.145) scale(0.9806 1)" xml:space="preserve"><tspan font-size="23.216">1.0</tspan></text>
<text x="0" y="0" fill="#000" stroke="#000" stroke-width="0.35" transform="translate(877.328 477.382) scale(1.0076 1)" xml:space="preserve"><tspan font-size="30.028">La Concentraion,</tspan><tspan font-size="30.028">  </tspan><tspan font-size="30.028" font-style="italic">x</tspan></text>
<text x="0" y="0" fill="#000" stroke="#000" stroke-width="0.35" transform="translate(784.848 398.913) rotate(-90) scale(1.0802 1)" xml:space="preserve"><tspan font-size="29.326">Resonance Frequency,  </tspan><tspan font-size="29.326" font-style="italic">ω</tspan><tspan font-size="18.329" dy="6.873">0</tspan><tspan font-size="29.326" dy="-6.873"> (eV)</tspan></text>
<text x="0" y="0" fill="#000" stroke="#000" stroke-width="0.35" transform="translate(857.201 388.529) scale(1.0588 1)" xml:space="preserve"><tspan font-size="36.504">(c)</tspan></text>
<line x1="888.90" y1="102.50" x2="915.10" y2="102.50" stroke="#0000ff" stroke-width="2.5" stroke-linecap="butt"/>
<line x1="947.30" y1="103.90" x2="1042.70" y2="117.50" stroke="#0000ff" stroke-width="2.5" stroke-linecap="butt"/>
<line x1="871.70" y1="90.10" x2="871.70" y2="116.30" stroke="#0000ff" stroke-width="1.8" stroke-linecap="butt"/>
<line x1="861.50" y1="90.10" x2="881.90" y2="90.10" stroke="#0000ff" stroke-width="1.8" stroke-linecap="butt"/>
<line x1="861.50" y1="116.30" x2="881.90" y2="116.30" stroke="#0000ff" stroke-width="1.8" stroke-linecap="butt"/>
<circle cx="871.70" cy="103.20" r="12.3" fill="#0000ff"/>
<line x1="930.60" y1="88.90" x2="930.60" y2="115.10" stroke="#0000ff" stroke-width="1.8" stroke-linecap="butt"/>
<line x1="920.40" y1="88.90" x2="940.80" y2="88.90" stroke="#0000ff" stroke-width="1.8" stroke-linecap="butt"/>
<line x1="920.40" y1="115.10" x2="940.80" y2="115.10" stroke="#0000ff" stroke-width="1.8" stroke-linecap="butt"/>
<circle cx="930.60" cy="102.50" r="12.3" fill="#0000ff"/>
<line x1="1058.70" y1="103.90" x2="1058.70" y2="136.60" stroke="#0000ff" stroke-width="1.8" stroke-linecap="butt"/>
<line x1="1048.50" y1="103.90" x2="1068.90" y2="103.90" stroke="#0000ff" stroke-width="1.8" stroke-linecap="butt"/>
<line x1="1048.50" y1="136.60" x2="1068.90" y2="136.60" stroke="#0000ff" stroke-width="1.8" stroke-linecap="butt"/>
<circle cx="1058.70" cy="119.90" r="12.3" fill="#0000ff"/>
<line x1="888.90" y1="236.00" x2="913.90" y2="235.10" stroke="#ff0000" stroke-width="2.5" stroke-linecap="butt"/>
<line x1="947.30" y1="236.00" x2="1042.70" y2="243.90" stroke="#ff0000" stroke-width="2.5" stroke-linecap="butt"/>
<line x1="871.70" y1="223.60" x2="871.70" y2="249.90" stroke="#ff0000" stroke-width="1.8" stroke-linecap="butt"/>
<line x1="861.50" y1="223.60" x2="881.90" y2="223.60" stroke="#ff0000" stroke-width="1.8" stroke-linecap="butt"/>
<line x1="861.50" y1="249.90" x2="881.90" y2="249.90" stroke="#ff0000" stroke-width="1.8" stroke-linecap="butt"/>
<polygon points="871.70,221.13 857.20,244.63 886.20,244.63" fill="#ff0000"/>
<line x1="930.40" y1="222.00" x2="930.40" y2="248.00" stroke="#ff0000" stroke-width="1.8" stroke-linecap="butt"/>
<line x1="920.20" y1="222.00" x2="940.60" y2="222.00" stroke="#ff0000" stroke-width="1.8" stroke-linecap="butt"/>
<line x1="920.20" y1="248.00" x2="940.60" y2="248.00" stroke="#ff0000" stroke-width="1.8" stroke-linecap="butt"/>
<polygon points="930.40,219.43 915.90,242.93 944.90,242.93" fill="#ff0000"/>
<line x1="1058.70" y1="228.90" x2="1058.70" y2="261.30" stroke="#ff0000" stroke-width="1.8" stroke-linecap="butt"/>
<line x1="1048.50" y1="228.90" x2="1068.90" y2="228.90" stroke="#ff0000" stroke-width="1.8" stroke-linecap="butt"/>
<line x1="1048.50" y1="261.30" x2="1068.90" y2="261.30" stroke="#ff0000" stroke-width="1.8" stroke-linecap="butt"/>
<polygon points="1058.70,229.73 1044.20,253.23 1073.20,253.23" fill="#ff0000"/>
<line x1="946.80" y1="345.20" x2="1043.50" y2="345.20" stroke="#008000" stroke-width="2.5" stroke-linecap="butt"/>
<line x1="930.90" y1="332.30" x2="930.90" y2="358.50" stroke="#008000" stroke-width="1.8" stroke-linecap="butt"/>
<line x1="920.70" y1="332.30" x2="941.10" y2="332.30" stroke="#008000" stroke-width="1.8" stroke-linecap="butt"/>
<line x1="920.70" y1="358.50" x2="941.10" y2="358.50" stroke="#008000" stroke-width="1.8" stroke-linecap="butt"/>
<rect x="920.15" y="334.75" width="21.5" height="21.5" fill="#008000"/>
<line x1="1059.00" y1="329.20" x2="1059.00" y2="361.80" stroke="#008000" stroke-width="1.8" stroke-linecap="butt"/>
<line x1="1048.80" y1="329.20" x2="1069.20" y2="329.20" stroke="#008000" stroke-width="1.8" stroke-linecap="butt"/>
<line x1="1048.80" y1="361.80" x2="1069.20" y2="361.80" stroke="#008000" stroke-width="1.8" stroke-linecap="butt"/>
<rect x="1048.25" y="334.55" width="21.5" height="21.5" fill="#008000"/>
<text x="0" y="0" font-size="30.098" font-style="italic" fill="#0000ff" stroke="#0000ff" stroke-width="0.35" transform="translate(999.637 90.292) scale(0.9407 1) skewX(-12)">β</text>
<text x="0" y="0" font-size="27.597" font-style="italic" fill="#ff0000" stroke="#ff0000" stroke-width="0.35" transform="translate(996.370 220.517) scale(1.1020 1) skewX(-8)">α</text>
<text x="0" y="0" font-size="31.308" font-style="italic" fill="#008000" stroke="#008000" stroke-width="0.35" transform="translate(998.020 325.400) scale(0.9788 1) skewX(-9)">I</text>
<rect x="1229.8" y="23.2" width="279.40" height="389.70" fill="none" stroke="#000" stroke-width="2.5"/>
<line x1="1257.30" y1="412.90" x2="1257.30" y2="402.90" stroke="#000" stroke-width="2.5" stroke-linecap="butt"/>
<line x1="1257.30" y1="23.20" x2="1257.30" y2="33.20" stroke="#000" stroke-width="2.5" stroke-linecap="butt"/>
<line x1="1313.30" y1="412.90" x2="1313.30" y2="407.40" stroke="#000" stroke-width="2.5" stroke-linecap="butt"/>
<line x1="1313.30" y1="23.20" x2="1313.30" y2="28.70" stroke="#000" stroke-width="2.5" stroke-linecap="butt"/>
<line x1="1369.30" y1="412.90" x2="1369.30" y2="402.90" stroke="#000" stroke-width="2.5" stroke-linecap="butt"/>
<line x1="1369.30" y1="23.20" x2="1369.30" y2="33.20" stroke="#000" stroke-width="2.5" stroke-linecap="butt"/>
<line x1="1425.30" y1="412.90" x2="1425.30" y2="407.40" stroke="#000" stroke-width="2.5" stroke-linecap="butt"/>
<line x1="1425.30" y1="23.20" x2="1425.30" y2="28.70" stroke="#000" stroke-width="2.5" stroke-linecap="butt"/>
<line x1="1481.30" y1="412.90" x2="1481.30" y2="402.90" stroke="#000" stroke-width="2.5" stroke-linecap="butt"/>
<line x1="1481.30" y1="23.20" x2="1481.30" y2="33.20" stroke="#000" stroke-width="2.5" stroke-linecap="butt"/>
<line x1="1229.80" y1="380.70" x2="1239.80" y2="380.70" stroke="#000" stroke-width="2.5" stroke-linecap="butt"/>
<line x1="1229.80" y1="348.25" x2="1235.30" y2="348.25" stroke="#000" stroke-width="2.5" stroke-linecap="butt"/>
<line x1="1229.80" y1="315.80" x2="1239.80" y2="315.80" stroke="#000" stroke-width="2.5" stroke-linecap="butt"/>
<line x1="1229.80" y1="283.35" x2="1235.30" y2="283.35" stroke="#000" stroke-width="2.5" stroke-linecap="butt"/>
<line x1="1229.80" y1="250.90" x2="1239.80" y2="250.90" stroke="#000" stroke-width="2.5" stroke-linecap="butt"/>
<line x1="1229.80" y1="218.45" x2="1235.30" y2="218.45" stroke="#000" stroke-width="2.5" stroke-linecap="butt"/>
<line x1="1229.80" y1="186.00" x2="1239.80" y2="186.00" stroke="#000" stroke-width="2.5" stroke-linecap="butt"/>
<line x1="1229.80" y1="153.55" x2="1235.30" y2="153.55" stroke="#000" stroke-width="2.5" stroke-linecap="butt"/>
<line x1="1229.80" y1="121.10" x2="1239.80" y2="121.10" stroke="#000" stroke-width="2.5" stroke-linecap="butt"/>
<line x1="1229.80" y1="88.65" x2="1235.30" y2="88.65" stroke="#000" stroke-width="2.5" stroke-linecap="butt"/>
<line x1="1229.80" y1="56.20" x2="1239.80" y2="56.20" stroke="#000" stroke-width="2.5" stroke-linecap="butt"/>
<line x1="1509.20" y1="377.90" x2="1499.20" y2="377.90" stroke="#000" stroke-width="2.5" stroke-linecap="butt"/>
<line x1="1509.20" y1="318.60" x2="1503.70" y2="318.60" stroke="#000" stroke-width="2.5" stroke-linecap="butt"/>
<line x1="1509.20" y1="259.30" x2="1499.20" y2="259.30" stroke="#000" stroke-width="2.5" stroke-linecap="butt"/>
<line x1="1509.20" y1="200.00" x2="1503.70" y2="200.00" stroke="#000" stroke-width="2.5" stroke-linecap="butt"/>
<line x1="1509.20" y1="140.70" x2="1499.20" y2="140.70" stroke="#000" stroke-width="2.5" stroke-linecap="butt"/>
<line x1="1509.20" y1="81.40" x2="1503.70" y2="81.40" stroke="#000" stroke-width="2.5" stroke-linecap="butt"/>
<text x="0" y="0" fill="#000" stroke="#000" stroke-width="0.35" transform="translate(1235.790 437.760) scale(0.9958 1)" xml:space="preserve"><tspan font-size="23.999">0.00</tspan></text>
<text x="0" y="0" fill="#000" stroke="#000" stroke-width="0.35" transform="translate(1347.621 437.760) scale(0.9958 1)" xml:space="preserve"><tspan font-size="23.999">0.04</tspan></text>
<text x="0" y="0" fill="#000" stroke="#000" stroke-width="0.35" transform="translate(1459.890 437.760) scale(0.9958 1)" xml:space="preserve"><tspan font-size="23.999">0.08</tspan></text>
<text x="0" y="0" fill="#000" stroke="#000" stroke-width="0.35" transform="translate(1209.602 63.069) scale(0.9457 1)" xml:space="preserve"><tspan font-size="23.625">5</tspan></text>
<text x="0" y="0" fill="#000" stroke="#000" stroke-width="0.35" transform="translate(1209.580 387.690) scale(0.9457 1)" xml:space="preserve"><tspan font-size="23.625">0</tspan></text>
<text x="0" y="0" fill="#000" stroke="#000" stroke-width="0.35" transform="translate(1210.071 322.848) scale(0.9457 1)" xml:space="preserve"><tspan font-size="23.625">1</tspan></text>
<text x="0" y="0" fill="#000" stroke="#000" stroke-width="0.35" transform="translate(1209.962 257.971) scale(0.9457 1)" xml:space="preserve"><tspan font-size="23.625">2</tspan></text>
<text x="0" y="0" fill="#000" stroke="#000" stroke-width="0.35" transform="translate(1209.602 192.956) scale(0.9457 1)" xml:space="preserve"><tspan font-size="23.625">3</tspan></text>
<text x="0" y="0" fill="#000" stroke="#000" stroke-width="0.35" transform="translate(1209.078 128.125) scale(0.9457 1)" xml:space="preserve"><tspan font-size="23.625">4</tspan></text>
<text x="0" y="0" fill="#000" stroke="#000" stroke-width="0.35" transform="translate(1518.949 384.890) scale(0.9457 1)" xml:space="preserve"><tspan font-size="23.625">0</tspan></text>
<text x="0" y="0" fill="#000" stroke="#000" stroke-width="0.35" transform="translate(1517.836 266.348) scale(0.9457 1)" xml:space="preserve"><tspan font-size="23.625">1</tspan></text>
<text x="0" y="0" fill="#000" stroke="#000" stroke-width="0.35" transform="translate(1518.818 147.771) scale(0.9457 1)" xml:space="preserve"><tspan font-size="23.625">2</tspan></text>
<text x="0" y="0" fill="#000" stroke="#000" stroke-width="0.35" transform="translate(1518.731 29.056) scale(0.9457 1)" xml:space="preserve"><tspan font-size="23.625">3</tspan></text>
<text x="0" y="0" fill="#000" stroke="#000" stroke-width="0.35" transform="translate(1249.424 479.082) scale(1.0127 1)" xml:space="preserve"><tspan font-size="30.028">La Concentraion,</tspan><tspan font-size="30.028">  </tspan><tspan font-size="30.028" font-style="italic">x</tspan></text>
<text x="0" y="0" fill="#000" stroke="#000" stroke-width="0.35" transform="translate(1192.395 342.995) rotate(-90) scale(0.9455 1)" xml:space="preserve"><tspan font-size="33.117">Strength,  </tspan><tspan font-size="33.117" font-style="italic">S</tspan><tspan font-size="33.117"> </tspan><tspan font-size="35.253" font-weight="bold">(</tspan><tspan font-size="33.117">10</tspan><tspan font-size="20.297" dy="-14.956">7</tspan><tspan font-size="33.117" dy="14.956"> cm</tspan><tspan font-size="20.297" dy="-14.956">-2</tspan><tspan font-size="35.253" font-weight="bold" dy="14.956">)</tspan></text>
<text x="0" y="0" fill="#000" stroke="#000" stroke-width="0.35" transform="translate(1567.173 339.100) rotate(-90) scale(0.9090 1)" xml:space="preserve"><tspan font-size="34.535">Strength,  </tspan><tspan font-size="34.535" font-style="italic">S</tspan><tspan font-size="34.535"> </tspan><tspan font-size="36.763" font-weight="bold">(</tspan><tspan font-size="34.535">10</tspan><tspan font-size="21.167" dy="-15.597">8</tspan><tspan font-size="34.535" dy="15.597"> cm</tspan><tspan font-size="21.167" dy="-15.597">-2</tspan><tspan font-size="36.763" font-weight="bold" dy="15.597">)</tspan></text>
<text x="0" y="0" fill="#000" stroke="#000" stroke-width="0.35" transform="translate(1243.837 391.829) scale(0.9860 1)" xml:space="preserve"><tspan font-size="38.379">(d)</tspan></text>
<line x1="1273.00" y1="71.00" x2="1299.90" y2="79.40" stroke="#0000ff" stroke-width="2.5" stroke-linecap="butt"/>
<line x1="1332.10" y1="87.00" x2="1427.50" y2="105.60" stroke="#0000ff" stroke-width="2.5" stroke-linecap="butt"/>
<line x1="1257.00" y1="56.20" x2="1257.00" y2="79.40" stroke="#0000ff" stroke-width="1.8" stroke-linecap="butt"/>
<line x1="1246.80" y1="56.20" x2="1267.20" y2="56.20" stroke="#0000ff" stroke-width="1.8" stroke-linecap="butt"/>
<line x1="1246.80" y1="79.40" x2="1267.20" y2="79.40" stroke="#0000ff" stroke-width="1.8" stroke-linecap="butt"/>
<circle cx="1257.00" cy="68.10" r="12.3" fill="#0000ff"/>
<line x1="1315.90" y1="70.50" x2="1315.90" y2="96.50" stroke="#0000ff" stroke-width="1.8" stroke-linecap="butt"/>
<line x1="1305.70" y1="70.50" x2="1326.10" y2="70.50" stroke="#0000ff" stroke-width="1.8" stroke-linecap="butt"/>
<line x1="1305.70" y1="96.50" x2="1326.10" y2="96.50" stroke="#0000ff" stroke-width="1.8" stroke-linecap="butt"/>
<circle cx="1315.90" cy="84.10" r="12.3" fill="#0000ff"/>
<line x1="1444.20" y1="93.00" x2="1444.20" y2="124.70" stroke="#0000ff" stroke-width="1.8" stroke-linecap="butt"/>
<line x1="1434.00" y1="93.00" x2="1454.40" y2="93.00" stroke="#0000ff" stroke-width="1.8" stroke-linecap="butt"/>
<line x1="1434.00" y1="124.70" x2="1454.40" y2="124.70" stroke="#0000ff" stroke-width="1.8" stroke-linecap="butt"/>
<circle cx="1444.20" cy="109.60" r="12.3" fill="#0000ff"/>
<line x1="1270.10" y1="147.30" x2="1303.50" y2="173.60" stroke="#ff0000" stroke-width="2.5" stroke-linecap="butt"/>
<line x1="1325.00" y1="197.40" x2="1434.60" y2="360.00" stroke="#ff0000" stroke-width="2.5" stroke-linecap="butt"/>
<line x1="1257.00" y1="124.00" x2="1257.00" y2="148.00" stroke="#ff0000" stroke-width="1.8" stroke-linecap="butt"/>
<line x1="1246.80" y1="124.00" x2="1267.20" y2="124.00" stroke="#ff0000" stroke-width="1.8" stroke-linecap="butt"/>
<line x1="1246.80" y1="148.00" x2="1267.20" y2="148.00" stroke="#ff0000" stroke-width="1.8" stroke-linecap="butt"/>
<polygon points="1257.00,120.83 1242.50,144.33 1271.50,144.33" fill="#ff0000"/>
<line x1="1315.90" y1="171.20" x2="1315.90" y2="196.20" stroke="#ff0000" stroke-width="1.8" stroke-linecap="butt"/>
<line x1="1305.70" y1="171.20" x2="1326.10" y2="171.20" stroke="#ff0000" stroke-width="1.8" stroke-linecap="butt"/>
<line x1="1305.70" y1="196.20" x2="1326.10" y2="196.20" stroke="#ff0000" stroke-width="1.8" stroke-linecap="butt"/>
<polygon points="1315.90,167.83 1301.40,191.33 1330.40,191.33" fill="#ff0000"/>
<line x1="1444.20" y1="360.50" x2="1444.20" y2="388.60" stroke="#ff0000" stroke-width="1.8" stroke-linecap="butt"/>
<line x1="1434.00" y1="360.50" x2="1454.40" y2="360.50" stroke="#ff0000" stroke-width="1.8" stroke-linecap="butt"/>
<line x1="1434.00" y1="388.60" x2="1454.40" y2="388.60" stroke="#ff0000" stroke-width="1.8" stroke-linecap="butt"/>
<polygon points="1444.20,358.73 1429.70,382.23 1458.70,382.23" fill="#ff0000"/>
<line x1="1328.50" y1="350.40" x2="1432.30" y2="250.30" stroke="#008000" stroke-width="2.5" stroke-linecap="butt"/>
<line x1="1316.40" y1="347.60" x2="1316.40" y2="376.00" stroke="#008000" stroke-width="1.8" stroke-linecap="butt"/>
<line x1="1306.20" y1="347.60" x2="1326.60" y2="347.60" stroke="#008000" stroke-width="1.8" stroke-linecap="butt"/>
<line x1="1306.20" y1="376.00" x2="1326.60" y2="376.00" stroke="#008000" stroke-width="1.8" stroke-linecap="butt"/>
<rect x="1305.65" y="350.85" width="21.5" height="21.5" fill="#008000"/>
<line x1="1444.60" y1="221.70" x2="1444.60" y2="254.60" stroke="#008000" stroke-width="1.8" stroke-linecap="butt"/>
<line x1="1434.40" y1="221.70" x2="1454.80" y2="221.70" stroke="#008000" stroke-width="1.8" stroke-linecap="butt"/>
<line x1="1434.40" y1="254.60" x2="1454.80" y2="254.60" stroke="#008000" stroke-width="1.8" stroke-linecap="butt"/>
<rect x="1433.85" y="226.65" width="21.5" height="21.5" fill="#008000"/>
<line x1="1462.10" y1="110.40" x2="1481.60" y2="110.40" stroke="#0000ff" stroke-width="3" stroke-linecap="butt"/>
<polygon points="1502.6,110.4 1475.6,103.8 1479.6,110.4 1475.6,117.0" fill="#0000ff"/>
<line x1="1463.30" y1="236.80" x2="1481.60" y2="236.80" stroke="#008000" stroke-width="3" stroke-linecap="butt"/>
<polygon points="1502.6,236.8 1475.6,230.2 1479.6,236.8 1475.6,243.4" fill="#008000"/>
<line x1="1289.20" y1="202.90" x2="1270.80" y2="202.90" stroke="#ff0000" stroke-width="3" stroke-linecap="butt"/>
<polygon points="1249.8,202.9 1276.8,196.3 1272.8,202.9 1276.8,209.5" fill="#ff0000"/>
<text x="0" y="0" font-size="30.098" font-style="italic" fill="#0000ff" stroke="#0000ff" stroke-width="0.35" transform="translate(1373.637 81.992) scale(0.9407 1) skewX(-12)">β</text>
<text x="0" y="0" font-size="27.597" font-style="italic" fill="#ff0000" stroke="#ff0000" stroke-width="0.35" transform="translate(1351.270 218.117) scale(1.1737 1) skewX(-8)">α</text>
<text x="0" y="0" font-size="30.239" font-style="italic" fill="#008000" stroke="#008000" stroke-width="0.35" transform="translate(1327.912 326.100) scale(0.9514 1) skewX(-9)">I</text>
<rect x="912.0" y="604.4" width="557.50" height="389.30" fill="none" stroke="#000" stroke-width="2.5"/>
<line x1="946.30" y1="993.70" x2="946.30" y2="983.70" stroke="#000" stroke-width="2.5" stroke-linecap="butt"/>
<line x1="946.30" y1="604.40" x2="946.30" y2="614.40" stroke="#000" stroke-width="2.5" stroke-linecap="butt"/>
<line x1="998.54" y1="993.70" x2="998.54" y2="988.20" stroke="#000" stroke-width="2.5" stroke-linecap="butt"/>
<line x1="998.54" y1="604.40" x2="998.54" y2="609.90" stroke="#000" stroke-width="2.5" stroke-linecap="butt"/>
<line x1="1050.79" y1="993.70" x2="1050.79" y2="983.70" stroke="#000" stroke-width="2.5" stroke-linecap="butt"/>
<line x1="1050.79" y1="604.40" x2="1050.79" y2="614.40" stroke="#000" stroke-width="2.5" stroke-linecap="butt"/>
<line x1="1103.03" y1="993.70" x2="1103.03" y2="988.20" stroke="#000" stroke-width="2.5" stroke-linecap="butt"/>
<line x1="1103.03" y1="604.40" x2="1103.03" y2="609.90" stroke="#000" stroke-width="2.5" stroke-linecap="butt"/>
<line x1="1155.28" y1="993.70" x2="1155.28" y2="983.70" stroke="#000" stroke-width="2.5" stroke-linecap="butt"/>
<line x1="1155.28" y1="604.40" x2="1155.28" y2="614.40" stroke="#000" stroke-width="2.5" stroke-linecap="butt"/>
<line x1="1207.52" y1="993.70" x2="1207.52" y2="988.20" stroke="#000" stroke-width="2.5" stroke-linecap="butt"/>
<line x1="1207.52" y1="604.40" x2="1207.52" y2="609.90" stroke="#000" stroke-width="2.5" stroke-linecap="butt"/>
<line x1="1259.77" y1="993.70" x2="1259.77" y2="983.70" stroke="#000" stroke-width="2.5" stroke-linecap="butt"/>
<line x1="1259.77" y1="604.40" x2="1259.77" y2="614.40" stroke="#000" stroke-width="2.5" stroke-linecap="butt"/>
<line x1="1312.01" y1="993.70" x2="1312.01" y2="988.20" stroke="#000" stroke-width="2.5" stroke-linecap="butt"/>
<line x1="1312.01" y1="604.40" x2="1312.01" y2="609.90" stroke="#000" stroke-width="2.5" stroke-linecap="butt"/>
<line x1="1364.26" y1="993.70" x2="1364.26" y2="983.70" stroke="#000" stroke-width="2.5" stroke-linecap="butt"/>
<line x1="1364.26" y1="604.40" x2="1364.26" y2="614.40" stroke="#000" stroke-width="2.5" stroke-linecap="butt"/>
<line x1="1416.51" y1="993.70" x2="1416.51" y2="988.20" stroke="#000" stroke-width="2.5" stroke-linecap="butt"/>
<line x1="1416.51" y1="604.40" x2="1416.51" y2="609.90" stroke="#000" stroke-width="2.5" stroke-linecap="butt"/>
<line x1="912.00" y1="977.30" x2="922.00" y2="977.30" stroke="#000" stroke-width="2.5" stroke-linecap="butt"/>
<line x1="1469.50" y1="977.30" x2="1459.50" y2="977.30" stroke="#000" stroke-width="2.5" stroke-linecap="butt"/>
<line x1="912.00" y1="943.40" x2="917.50" y2="943.40" stroke="#000" stroke-width="2.5" stroke-linecap="butt"/>
<line x1="1469.50" y1="943.40" x2="1464.00" y2="943.40" stroke="#000" stroke-width="2.5" stroke-linecap="butt"/>
<line x1="912.00" y1="909.50" x2="922.00" y2="909.50" stroke="#000" stroke-width="2.5" stroke-linecap="butt"/>
<line x1="1469.50" y1="909.50" x2="1459.50" y2="909.50" stroke="#000" stroke-width="2.5" stroke-linecap="butt"/>
<line x1="912.00" y1="875.60" x2="917.50" y2="875.60" stroke="#000" stroke-width="2.5" stroke-linecap="butt"/>
<line x1="1469.50" y1="875.60" x2="1464.00" y2="875.60" stroke="#000" stroke-width="2.5" stroke-linecap="butt"/>
<line x1="912.00" y1="841.70" x2="922.00" y2="841.70" stroke="#000" stroke-width="2.5" stroke-linecap="butt"/>
<line x1="1469.50" y1="841.70" x2="1459.50" y2="841.70" stroke="#000" stroke-width="2.5" stroke-linecap="butt"/>
<line x1="912.00" y1="807.80" x2="917.50" y2="807.80" stroke="#000" stroke-width="2.5" stroke-linecap="butt"/>
<line x1="1469.50" y1="807.80" x2="1464.00" y2="807.80" stroke="#000" stroke-width="2.5" stroke-linecap="butt"/>
<line x1="912.00" y1="773.90" x2="922.00" y2="773.90" stroke="#000" stroke-width="2.5" stroke-linecap="butt"/>
<line x1="1469.50" y1="773.90" x2="1459.50" y2="773.90" stroke="#000" stroke-width="2.5" stroke-linecap="butt"/>
<line x1="912.00" y1="740.00" x2="917.50" y2="740.00" stroke="#000" stroke-width="2.5" stroke-linecap="butt"/>
<line x1="1469.50" y1="740.00" x2="1464.00" y2="740.00" stroke="#000" stroke-width="2.5" stroke-linecap="butt"/>
<line x1="912.00" y1="706.10" x2="922.00" y2="706.10" stroke="#000" stroke-width="2.5" stroke-linecap="butt"/>
<line x1="1469.50" y1="706.10" x2="1459.50" y2="706.10" stroke="#000" stroke-width="2.5" stroke-linecap="butt"/>
<line x1="912.00" y1="672.20" x2="917.50" y2="672.20" stroke="#000" stroke-width="2.5" stroke-linecap="butt"/>
<line x1="1469.50" y1="672.20" x2="1464.00" y2="672.20" stroke="#000" stroke-width="2.5" stroke-linecap="butt"/>
<line x1="912.00" y1="638.30" x2="922.00" y2="638.30" stroke="#000" stroke-width="2.5" stroke-linecap="butt"/>
<line x1="1469.50" y1="638.30" x2="1459.50" y2="638.30" stroke="#000" stroke-width="2.5" stroke-linecap="butt"/>
<line x1="912.00" y1="604.40" x2="917.50" y2="604.40" stroke="#000" stroke-width="2.5" stroke-linecap="butt"/>
<line x1="1469.50" y1="604.40" x2="1464.00" y2="604.40" stroke="#000" stroke-width="2.5" stroke-linecap="butt"/>
<text x="0" y="0" fill="#000" stroke="#000" stroke-width="0.35" transform="translate(915.412 1034.618) scale(0.9942 1)" xml:space="preserve"><tspan font-size="34.011">0.00</tspan></text>
<text x="0" y="0" fill="#000" stroke="#000" stroke-width="0.35" transform="translate(1019.919 1034.618) scale(0.9942 1)" xml:space="preserve"><tspan font-size="34.011">0.03</tspan></text>
<text x="0" y="0" fill="#000" stroke="#000" stroke-width="0.35" transform="translate(1124.252 1034.618) scale(0.9942 1)" xml:space="preserve"><tspan font-size="34.011">0.06</tspan></text>
<text x="0" y="0" fill="#000" stroke="#000" stroke-width="0.35" transform="translate(1228.932 1034.618) scale(0.9942 1)" xml:space="preserve"><tspan font-size="34.011">0.09</tspan></text>
<text x="0" y="0" fill="#000" stroke="#000" stroke-width="0.35" transform="translate(1333.661 1034.618) scale(0.9942 1)" xml:space="preserve"><tspan font-size="34.011">0.12</tspan></text>
<text x="0" y="0" fill="#000" stroke="#000" stroke-width="0.35" transform="translate(1437.879 1034.618) scale(0.9942 1)" xml:space="preserve"><tspan font-size="34.011">0.15</tspan></text>
<text x="0" y="0" fill="#000" stroke="#000" stroke-width="0.35" transform="translate(862.030 648.614) scale(0.9518 1)" xml:space="preserve"><tspan font-size="34.305">1.0</tspan></text>
<text x="0" y="0" fill="#000" stroke="#000" stroke-width="0.35" transform="translate(862.030 987.614) scale(0.9518 1)" xml:space="preserve"><tspan font-size="34.305">0.0</tspan></text>
<text x="0" y="0" fill="#000" stroke="#000" stroke-width="0.35" transform="translate(862.588 919.814) scale(0.9518 1)" xml:space="preserve"><tspan font-size="34.305">0.2</tspan></text>
<text x="0" y="0" fill="#000" stroke="#000" stroke-width="0.35" transform="translate(861.297 852.014) scale(0.9518 1)" xml:space="preserve"><tspan font-size="34.305">0.4</tspan></text>
<text x="0" y="0" fill="#000" stroke="#000" stroke-width="0.35" transform="translate(861.759 784.214) scale(0.9518 1)" xml:space="preserve"><tspan font-size="34.305">0.6</tspan></text>
<text x="0" y="0" fill="#000" stroke="#000" stroke-width="0.35" transform="translate(862.030 716.414) scale(0.9518 1)" xml:space="preserve"><tspan font-size="34.305">0.8</tspan></text>
<text x="0" y="0" fill="#000" stroke="#000" stroke-width="0.35" transform="translate(961.378 1079.615) scale(1.0358 1)" xml:space="preserve"><tspan font-size="31.872">Added electrons per Ir (=2</tspan><tspan font-size="31.872" font-style="italic">x</tspan><tspan font-size="31.872">,  3</tspan><tspan font-size="31.872" font-style="italic">x</tspan><tspan font-size="31.872">/2)</tspan></text>
<text x="0" y="0" fill="#000" stroke="#000" stroke-width="0.35" transform="translate(839.722 932.619) rotate(-90) scale(1.0856 1)" xml:space="preserve"><tspan font-size="36.063">SW</tspan><tspan font-size="36.063" font-weight="bold">(</tspan><tspan font-size="36.063" font-style="italic">x</tspan><tspan font-size="36.063" font-weight="bold">)</tspan><tspan font-size="36.063"> / SW</tspan><tspan font-size="36.063" font-weight="bold">(</tspan><tspan font-size="36.063" font-style="italic">x</tspan><tspan font-size="36.063"> = 0</tspan><tspan font-size="36.063" font-weight="bold">)</tspan></text>
<text x="0" y="0" fill="#000" stroke="#000" stroke-width="0.35" transform="translate(923.841 971.719) scale(0.9703 1)" xml:space="preserve"><tspan font-size="41.247">(e)</tspan></text>
<text x="0" y="0" font-size="31.000" font-weight="bold" fill="#000" stroke="#000" stroke-width="0.35" transform="translate(957.438 563.600) scale(1.0000 1.0700)" xml:space="preserve">(</text><text x="0" y="0" font-size="31.000" fill="#000" stroke="#000" stroke-width="0.35" transform="translate(968.326 563.600) scale(1.0000 1.0700)" xml:space="preserve">Sr</text><text x="0" y="0" font-size="18.500" fill="#000" stroke="#000" stroke-width="0.35" transform="translate(1000.174 577.200) scale(1.0000 1.0700)" xml:space="preserve">1-</text><text x="0" y="0" font-size="18.500" font-style="italic" fill="#000" stroke="#000" stroke-width="0.35" transform="translate(1015.226 577.200) scale(1.0000 1.0700)" xml:space="preserve">x</text><text x="0" y="0" font-size="31.000" fill="#000" stroke="#000" stroke-width="0.35" transform="translate(1025.007 563.600) scale(1.0000 1.0700)" xml:space="preserve">La</text><text x="0" y="0" font-size="18.500" font-style="italic" fill="#000" stroke="#000" stroke-width="0.35" transform="translate(1059.726 577.200) scale(1.0000 1.0700)" xml:space="preserve">x</text><text x="0" y="0" font-size="31.000" font-weight="bold" fill="#000" stroke="#000" stroke-width="0.35" transform="translate(1068.001 563.600) scale(1.0000 1.0700)" xml:space="preserve">)</text><text x="0" y="0" font-size="18.500" fill="#000" stroke="#000" stroke-width="0.35" transform="translate(1079.887 577.200) scale(1.0000 1.0700)" xml:space="preserve">2</text><text x="0" y="0" font-size="31.000" fill="#000" stroke="#000" stroke-width="0.35" transform="translate(1089.780 563.600) scale(1.0000 1.0700)" xml:space="preserve">IrO</text><text x="0" y="0" font-size="18.500" fill="#000" stroke="#000" stroke-width="0.35" transform="translate(1137.239 577.200) scale(1.0000 1.0700)" xml:space="preserve">4</text><text x="0" y="0" font-size="31.000" fill="#000" stroke="#000" stroke-width="0.35" transform="translate(1156.300 563.600) scale(1.0000 1.0700)" xml:space="preserve">vs</text><text x="0" y="0" font-size="31.000" font-weight="bold" fill="#000" stroke="#000" stroke-width="0.35" transform="translate(1194.638 563.600) scale(1.0000 1.0700)" xml:space="preserve">(</text><text x="0" y="0" font-size="31.000" fill="#000" stroke="#000" stroke-width="0.35" transform="translate(1205.826 563.600) scale(1.0000 1.0700)" xml:space="preserve">Sr</text><text x="0" y="0" font-size="18.500" fill="#000" stroke="#000" stroke-width="0.35" transform="translate(1237.274 577.200) scale(1.0000 1.0700)" xml:space="preserve">1-</text><text x="0" y="0" font-size="18.500" font-style="italic" fill="#000" stroke="#000" stroke-width="0.35" transform="translate(1252.526 577.200) scale(1.0000 1.0700)" xml:space="preserve">x</text><text x="0" y="0" font-size="31.000" fill="#000" stroke="#000" stroke-width="0.35" transform="translate(1261.807 563.600) scale(1.0000 1.0700)" xml:space="preserve">La</text><text x="0" y="0" font-size="18.500" font-style="italic" fill="#000" stroke="#000" stroke-width="0.35" transform="translate(1297.026 577.200) scale(1.0000 1.0700)" xml:space="preserve">x</text><text x="0" y="0" font-size="31.000" font-weight="bold" fill="#000" stroke="#000" stroke-width="0.35" transform="translate(1306.901 563.600) scale(1.0000 1.0700)" xml:space="preserve">)</text><text x="0" y="0" font-size="18.500" fill="#000" stroke="#000" stroke-width="0.35" transform="translate(1317.415 577.200) scale(1.0000 1.0700)" xml:space="preserve">3</text><text x="0" y="0" font-size="31.000" fill="#000" stroke="#000" stroke-width="0.35" transform="translate(1327.480 563.600) scale(1.0000 1.0700)" xml:space="preserve">Ir</text><text x="0" y="0" font-size="18.500" fill="#000" stroke="#000" stroke-width="0.35" transform="translate(1349.187 577.200) scale(1.0000 1.0700)" xml:space="preserve">2</text><text x="0" y="0" font-size="31.000" fill="#000" stroke="#000" stroke-width="0.35" transform="translate(1359.829 563.600) scale(1.0000 1.0700)" xml:space="preserve">O</text><text x="0" y="0" font-size="18.500" fill="#000" stroke="#000" stroke-width="0.35" transform="translate(1385.281 577.200) scale(1.0000 1.0700)" xml:space="preserve">7</text>
<line x1="960.94" y1="644.75" x2="1077.94" y2="696.26" stroke="#ff0000" stroke-width="2.5" stroke-linecap="butt"/>
<line x1="1104.90" y1="712.92" x2="1400.71" y2="958.27" stroke="#ff0000" stroke-width="2.5" stroke-linecap="butt"/>
<line x1="962.19" y1="640.21" x2="1076.70" y2="654.01" stroke="#0000ff" stroke-width="2.5" stroke-linecap="butt"/>
<line x1="1108.53" y1="657.28" x2="1397.08" y2="681.70" stroke="#0000ff" stroke-width="2.5" stroke-linecap="butt"/>
<line x1="955.62" y1="651.31" x2="1057.15" y2="793.10" stroke="#ff0000" stroke-width="2.5" stroke-linecap="butt"/>
<line x1="1078.71" y1="816.40" x2="1200.51" y2="918.86" stroke="#ff0000" stroke-width="2.5" stroke-linecap="butt"/>
<line x1="958.09" y1="649.11" x2="1054.67" y2="737.66" stroke="#0000ff" stroke-width="2.5" stroke-linecap="butt"/>
<line x1="1081.54" y1="753.82" x2="1197.67" y2="795.00" stroke="#0000ff" stroke-width="2.5" stroke-linecap="butt"/>
<polygon points="946.30,622.63 931.80,646.13 960.80,646.13" fill="#ff0000"/>
<polygon points="1092.59,687.04 1078.09,710.54 1107.09,710.54" fill="#ff0000"/>
<polygon points="1413.02,952.82 1398.52,976.32 1427.52,976.32" fill="#ff0000"/>
<circle cx="946.30" cy="638.30" r="12.2" fill="#0000ff"/>
<circle cx="1092.59" cy="655.93" r="12.2" fill="#0000ff"/>
<circle cx="1413.02" cy="683.05" r="12.2" fill="#0000ff"/>
<polygon points="946.30,622.63 931.80,646.13 960.80,646.13" fill="#fff" stroke="#ff0000" stroke-width="1.8" stroke-linejoin="miter"/>
<polygon points="1066.46,790.44 1051.96,813.94 1080.96,813.94" fill="#fff" stroke="#ff0000" stroke-width="1.8" stroke-linejoin="miter"/>
<polygon points="1212.75,913.50 1198.25,937.00 1227.25,937.00" fill="#fff" stroke="#ff0000" stroke-width="1.8" stroke-linejoin="miter"/>
<circle cx="946.30" cy="638.30" r="11.2" fill="#fff" stroke="#0000ff" stroke-width="1.8"/>
<circle cx="1066.46" cy="748.47" r="11.2" fill="#fff" stroke="#0000ff" stroke-width="1.8"/>
<circle cx="1212.75" cy="800.34" r="11.2" fill="#fff" stroke="#0000ff" stroke-width="1.8"/>
<line x1="1294.70" y1="736.40" x2="1315.00" y2="736.40" stroke="#ff0000" stroke-width="2.5" stroke-linecap="butt"/>
<line x1="1344.00" y1="736.40" x2="1364.40" y2="736.40" stroke="#ff0000" stroke-width="2.5" stroke-linecap="butt"/>
<polygon points="1329.50,721.23 1315.00,744.73 1344.00,744.73" fill="#ff0000"/>
<text x="0" y="0" fill="#000" stroke="#000" stroke-width="0.35" transform="translate(1373.171 745.800) scale(1.0131 1)" xml:space="preserve"><tspan font-size="27.488" font-style="italic">α</tspan><tspan font-size="27.488">-214</tspan></text>
<line x1="1294.70" y1="774.80" x2="1315.00" y2="774.80" stroke="#0000ff" stroke-width="2.5" stroke-linecap="butt"/>
<line x1="1344.00" y1="774.80" x2="1364.40" y2="774.80" stroke="#0000ff" stroke-width="2.5" stroke-linecap="butt"/>
<circle cx="1329.30" cy="774.80" r="12" fill="#0000ff"/>
<text x="0" y="0" fill="#000" stroke="#000" stroke-width="0.35" transform="translate(1372.355 784.100) scale(1.0678 1)" xml:space="preserve"><tspan font-size="26.431" font-style="italic">β</tspan><tspan font-size="26.431">-214</tspan></text>
<line x1="1294.70" y1="813.30" x2="1315.00" y2="813.30" stroke="#ff0000" stroke-width="2.5" stroke-linecap="butt"/>
<line x1="1344.00" y1="813.30" x2="1364.40" y2="813.30" stroke="#ff0000" stroke-width="2.5" stroke-linecap="butt"/>
<polygon points="1329.50,798.13 1315.00,821.63 1344.00,821.63" fill="#fff" stroke="#ff0000" stroke-width="1.8" stroke-linejoin="miter"/>
<text x="0" y="0" fill="#000" stroke="#000" stroke-width="0.35" transform="translate(1373.185 822.946) scale(1.0503 1)" xml:space="preserve"><tspan font-size="26.047" font-style="italic">α</tspan><tspan font-size="26.047">-327</tspan></text>
<line x1="1294.70" y1="851.70" x2="1315.00" y2="851.70" stroke="#0000ff" stroke-width="2.5" stroke-linecap="butt"/>
<line x1="1344.00" y1="851.70" x2="1364.40" y2="851.70" stroke="#0000ff" stroke-width="2.5" stroke-linecap="butt"/>
<circle cx="1329.30" cy="851.70" r="11.2" fill="#fff" stroke="#0000ff" stroke-width="1.8"/>
<text x="0" y="0" fill="#000" stroke="#000" stroke-width="0.35" transform="translate(1372.347 861.247) scale(1.0710 1)" xml:space="preserve"><tspan font-size="25.898" font-style="italic">β</tspan><tspan font-size="25.898">-327</tspan></text>
</svg></body></html>
